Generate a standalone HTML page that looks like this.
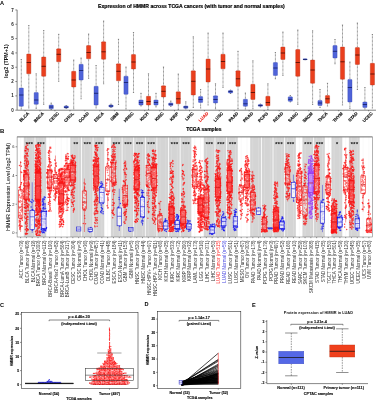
<!DOCTYPE html>
<html><head><meta charset="utf-8"><title>HMMR expression figure</title>
<style>html,body{margin:0;padding:0;background:#fff;width:376px;height:400px;overflow:hidden}
svg{display:block;font-family:"Liberation Sans", sans-serif;will-change:transform}</style></head>
<body><svg width="376" height="400" viewBox="0 0 376 400">
<text x="0.00" y="4.90" font-size="5.6" font-weight="bold" text-anchor="start" fill="#000">A</text>
<text x="191.40" y="8.00" font-size="5.1" font-weight="bold" text-anchor="middle" fill="#000" stroke="#000" stroke-width="0.18">Expression of HMMR across TCGA cancers (with tumor and normal samples)</text>
<line x1="17.10" y1="9.80" x2="17.10" y2="110.20" stroke="#555" stroke-width="0.75"/>
<line x1="17.10" y1="110.20" x2="376.00" y2="110.20" stroke="#555" stroke-width="0.75"/>
<line x1="15.30" y1="110.20" x2="17.00" y2="110.20" stroke="#222" stroke-width="0.5"/>
<text x="13.70" y="111.80" font-size="4.5" font-weight="bold" text-anchor="end" fill="#222">0</text>
<line x1="15.30" y1="95.88" x2="17.00" y2="95.88" stroke="#222" stroke-width="0.5"/>
<text x="13.70" y="97.48" font-size="4.5" font-weight="bold" text-anchor="end" fill="#222">1</text>
<line x1="15.30" y1="81.56" x2="17.00" y2="81.56" stroke="#222" stroke-width="0.5"/>
<text x="13.70" y="83.16" font-size="4.5" font-weight="bold" text-anchor="end" fill="#222">2</text>
<line x1="15.30" y1="67.24" x2="17.00" y2="67.24" stroke="#222" stroke-width="0.5"/>
<text x="13.70" y="68.84" font-size="4.5" font-weight="bold" text-anchor="end" fill="#222">3</text>
<line x1="15.30" y1="52.92" x2="17.00" y2="52.92" stroke="#222" stroke-width="0.5"/>
<text x="13.70" y="54.52" font-size="4.5" font-weight="bold" text-anchor="end" fill="#222">4</text>
<line x1="15.30" y1="38.60" x2="17.00" y2="38.60" stroke="#222" stroke-width="0.5"/>
<text x="13.70" y="40.20" font-size="4.5" font-weight="bold" text-anchor="end" fill="#222">5</text>
<line x1="15.30" y1="24.28" x2="17.00" y2="24.28" stroke="#222" stroke-width="0.5"/>
<text x="13.70" y="25.88" font-size="4.5" font-weight="bold" text-anchor="end" fill="#222">6</text>
<line x1="15.30" y1="9.96" x2="17.00" y2="9.96" stroke="#222" stroke-width="0.5"/>
<text x="13.70" y="11.56" font-size="4.5" font-weight="bold" text-anchor="end" fill="#222">7</text>
<text x="7.70" y="61.10" font-size="5.4" font-weight="bold" text-anchor="middle" fill="#111" transform="rotate(-90 7.70 61.10)">log2 (TPM+1)</text>
<line x1="21.30" y1="59.50" x2="21.30" y2="88.00" stroke="#333" stroke-width="0.6" stroke-dasharray="0.8 0.55"/>
<line x1="21.30" y1="106.30" x2="21.30" y2="109.00" stroke="#333" stroke-width="0.6" stroke-dasharray="0.8 0.55"/>
<line x1="20.70" y1="59.50" x2="21.90" y2="59.50" stroke="#555" stroke-width="0.6"/>
<line x1="20.70" y1="109.00" x2="21.90" y2="109.00" stroke="#555" stroke-width="0.6"/>
<rect x="19.20" y="88.00" width="4.20" height="18.30" fill="#4f63d9" stroke="#3545b0" stroke-width="0.35" rx="0.5"/>
<line x1="19.20" y1="95.00" x2="23.40" y2="95.00" stroke="#1a2570" stroke-width="0.9"/>
<line x1="28.80" y1="25.50" x2="28.80" y2="54.00" stroke="#333" stroke-width="0.6" stroke-dasharray="0.8 0.55"/>
<line x1="28.80" y1="73.80" x2="28.80" y2="108.00" stroke="#333" stroke-width="0.6" stroke-dasharray="0.8 0.55"/>
<line x1="28.20" y1="25.50" x2="29.40" y2="25.50" stroke="#555" stroke-width="0.6"/>
<line x1="28.20" y1="108.00" x2="29.40" y2="108.00" stroke="#555" stroke-width="0.6"/>
<rect x="26.70" y="54.00" width="4.20" height="19.80" fill="#ea3f1d" stroke="#b52a10" stroke-width="0.35" rx="0.5"/>
<line x1="26.70" y1="62.50" x2="30.90" y2="62.50" stroke="#5a1005" stroke-width="0.9"/>
<line x1="25.05" y1="110.20" x2="25.05" y2="111.30" stroke="#222" stroke-width="0.5"/>
<text x="29.35" y="113.90" font-size="4.3" font-weight="bold" text-anchor="end" fill="#111" transform="rotate(-45 29.35 113.90)" stroke="#111" stroke-width="0.16">BLCA</text>
<line x1="36.20" y1="73.80" x2="36.20" y2="92.50" stroke="#333" stroke-width="0.6" stroke-dasharray="0.8 0.55"/>
<line x1="36.20" y1="104.30" x2="36.20" y2="108.50" stroke="#333" stroke-width="0.6" stroke-dasharray="0.8 0.55"/>
<line x1="35.60" y1="73.80" x2="36.80" y2="73.80" stroke="#555" stroke-width="0.6"/>
<line x1="35.60" y1="108.50" x2="36.80" y2="108.50" stroke="#555" stroke-width="0.6"/>
<rect x="34.10" y="92.50" width="4.20" height="11.80" fill="#4f63d9" stroke="#3545b0" stroke-width="0.35" rx="0.5"/>
<line x1="34.10" y1="100.00" x2="38.30" y2="100.00" stroke="#1a2570" stroke-width="0.9"/>
<line x1="43.70" y1="30.50" x2="43.70" y2="57.00" stroke="#333" stroke-width="0.6" stroke-dasharray="0.8 0.55"/>
<line x1="43.70" y1="76.30" x2="43.70" y2="104.50" stroke="#333" stroke-width="0.6" stroke-dasharray="0.8 0.55"/>
<line x1="43.10" y1="30.50" x2="44.30" y2="30.50" stroke="#555" stroke-width="0.6"/>
<line x1="43.10" y1="104.50" x2="44.30" y2="104.50" stroke="#555" stroke-width="0.6"/>
<rect x="41.60" y="57.00" width="4.20" height="19.30" fill="#ea3f1d" stroke="#b52a10" stroke-width="0.35" rx="0.5"/>
<line x1="41.60" y1="66.30" x2="45.80" y2="66.30" stroke="#5a1005" stroke-width="0.9"/>
<line x1="39.95" y1="110.20" x2="39.95" y2="111.30" stroke="#222" stroke-width="0.5"/>
<text x="44.25" y="113.90" font-size="4.3" font-weight="bold" text-anchor="end" fill="#111" transform="rotate(-45 44.25 113.90)" stroke="#111" stroke-width="0.16">BRCA</text>
<line x1="51.20" y1="103.00" x2="51.20" y2="105.00" stroke="#333" stroke-width="0.6" stroke-dasharray="0.8 0.55"/>
<line x1="51.20" y1="108.80" x2="51.20" y2="109.50" stroke="#333" stroke-width="0.6" stroke-dasharray="0.8 0.55"/>
<line x1="50.60" y1="103.00" x2="51.80" y2="103.00" stroke="#555" stroke-width="0.6"/>
<line x1="50.60" y1="109.50" x2="51.80" y2="109.50" stroke="#555" stroke-width="0.6"/>
<rect x="49.10" y="105.00" width="4.20" height="3.80" fill="#4f63d9" stroke="#3545b0" stroke-width="0.35" rx="0.5"/>
<line x1="49.10" y1="107.00" x2="53.30" y2="107.00" stroke="#1a2570" stroke-width="0.9"/>
<line x1="58.70" y1="34.30" x2="58.70" y2="48.80" stroke="#333" stroke-width="0.6" stroke-dasharray="0.8 0.55"/>
<line x1="58.70" y1="61.80" x2="58.70" y2="81.30" stroke="#333" stroke-width="0.6" stroke-dasharray="0.8 0.55"/>
<line x1="58.10" y1="34.30" x2="59.30" y2="34.30" stroke="#555" stroke-width="0.6"/>
<line x1="58.10" y1="81.30" x2="59.30" y2="81.30" stroke="#555" stroke-width="0.6"/>
<rect x="56.60" y="48.80" width="4.20" height="13.00" fill="#ea3f1d" stroke="#b52a10" stroke-width="0.35" rx="0.5"/>
<line x1="56.60" y1="54.30" x2="60.80" y2="54.30" stroke="#5a1005" stroke-width="0.9"/>
<line x1="54.95" y1="110.20" x2="54.95" y2="111.30" stroke="#222" stroke-width="0.5"/>
<text x="59.25" y="113.90" font-size="4.3" font-weight="bold" text-anchor="end" fill="#111" transform="rotate(-45 59.25 113.90)" stroke="#111" stroke-width="0.16">CESC</text>
<line x1="66.20" y1="105.50" x2="66.20" y2="106.00" stroke="#333" stroke-width="0.6" stroke-dasharray="0.8 0.55"/>
<line x1="66.20" y1="108.00" x2="66.20" y2="108.50" stroke="#333" stroke-width="0.6" stroke-dasharray="0.8 0.55"/>
<line x1="65.60" y1="105.50" x2="66.80" y2="105.50" stroke="#555" stroke-width="0.6"/>
<line x1="65.60" y1="108.50" x2="66.80" y2="108.50" stroke="#555" stroke-width="0.6"/>
<rect x="64.10" y="106.00" width="4.20" height="2.00" fill="#4f63d9" stroke="#3545b0" stroke-width="0.35" rx="0.5"/>
<line x1="64.10" y1="107.30" x2="68.30" y2="107.30" stroke="#1a2570" stroke-width="0.9"/>
<line x1="73.70" y1="60.00" x2="73.70" y2="71.30" stroke="#333" stroke-width="0.6" stroke-dasharray="0.8 0.55"/>
<line x1="73.70" y1="87.00" x2="73.70" y2="108.80" stroke="#333" stroke-width="0.6" stroke-dasharray="0.8 0.55"/>
<line x1="73.10" y1="60.00" x2="74.30" y2="60.00" stroke="#555" stroke-width="0.6"/>
<line x1="73.10" y1="108.80" x2="74.30" y2="108.80" stroke="#555" stroke-width="0.6"/>
<rect x="71.60" y="71.30" width="4.20" height="15.70" fill="#ea3f1d" stroke="#b52a10" stroke-width="0.35" rx="0.5"/>
<line x1="71.60" y1="80.00" x2="75.80" y2="80.00" stroke="#5a1005" stroke-width="0.9"/>
<line x1="69.95" y1="110.20" x2="69.95" y2="111.30" stroke="#222" stroke-width="0.5"/>
<text x="74.25" y="113.90" font-size="4.3" font-weight="bold" text-anchor="end" fill="#111" transform="rotate(-45 74.25 113.90)" stroke="#111" stroke-width="0.16">CHOL</text>
<line x1="81.10" y1="58.00" x2="81.10" y2="64.30" stroke="#333" stroke-width="0.6" stroke-dasharray="0.8 0.55"/>
<line x1="81.10" y1="80.00" x2="81.10" y2="98.80" stroke="#333" stroke-width="0.6" stroke-dasharray="0.8 0.55"/>
<line x1="80.50" y1="58.00" x2="81.70" y2="58.00" stroke="#555" stroke-width="0.6"/>
<line x1="80.50" y1="98.80" x2="81.70" y2="98.80" stroke="#555" stroke-width="0.6"/>
<rect x="79.00" y="64.30" width="4.20" height="15.70" fill="#4f63d9" stroke="#3545b0" stroke-width="0.35" rx="0.5"/>
<line x1="79.00" y1="70.50" x2="83.20" y2="70.50" stroke="#1a2570" stroke-width="0.9"/>
<line x1="88.60" y1="34.00" x2="88.60" y2="45.50" stroke="#333" stroke-width="0.6" stroke-dasharray="0.8 0.55"/>
<line x1="88.60" y1="58.80" x2="88.60" y2="78.30" stroke="#333" stroke-width="0.6" stroke-dasharray="0.8 0.55"/>
<line x1="88.00" y1="34.00" x2="89.20" y2="34.00" stroke="#555" stroke-width="0.6"/>
<line x1="88.00" y1="78.30" x2="89.20" y2="78.30" stroke="#555" stroke-width="0.6"/>
<rect x="86.50" y="45.50" width="4.20" height="13.30" fill="#ea3f1d" stroke="#b52a10" stroke-width="0.35" rx="0.5"/>
<line x1="86.50" y1="52.50" x2="90.70" y2="52.50" stroke="#5a1005" stroke-width="0.9"/>
<line x1="84.85" y1="110.20" x2="84.85" y2="111.30" stroke="#222" stroke-width="0.5"/>
<text x="89.15" y="113.90" font-size="4.3" font-weight="bold" text-anchor="end" fill="#111" transform="rotate(-45 89.15 113.90)" stroke="#111" stroke-width="0.16">COAD</text>
<line x1="96.10" y1="65.50" x2="96.10" y2="86.30" stroke="#333" stroke-width="0.6" stroke-dasharray="0.8 0.55"/>
<line x1="96.10" y1="105.00" x2="96.10" y2="108.00" stroke="#333" stroke-width="0.6" stroke-dasharray="0.8 0.55"/>
<line x1="95.50" y1="65.50" x2="96.70" y2="65.50" stroke="#555" stroke-width="0.6"/>
<line x1="95.50" y1="108.00" x2="96.70" y2="108.00" stroke="#555" stroke-width="0.6"/>
<rect x="94.00" y="86.30" width="4.20" height="18.70" fill="#4f63d9" stroke="#3545b0" stroke-width="0.35" rx="0.5"/>
<line x1="94.00" y1="93.30" x2="98.20" y2="93.30" stroke="#1a2570" stroke-width="0.9"/>
<line x1="103.60" y1="21.00" x2="103.60" y2="41.80" stroke="#333" stroke-width="0.6" stroke-dasharray="0.8 0.55"/>
<line x1="103.60" y1="59.30" x2="103.60" y2="83.80" stroke="#333" stroke-width="0.6" stroke-dasharray="0.8 0.55"/>
<line x1="103.00" y1="21.00" x2="104.20" y2="21.00" stroke="#555" stroke-width="0.6"/>
<line x1="103.00" y1="83.80" x2="104.20" y2="83.80" stroke="#555" stroke-width="0.6"/>
<rect x="101.50" y="41.80" width="4.20" height="17.50" fill="#ea3f1d" stroke="#b52a10" stroke-width="0.35" rx="0.5"/>
<line x1="101.50" y1="51.80" x2="105.70" y2="51.80" stroke="#5a1005" stroke-width="0.9"/>
<line x1="99.85" y1="110.20" x2="99.85" y2="111.30" stroke="#222" stroke-width="0.5"/>
<text x="104.15" y="113.90" font-size="4.3" font-weight="bold" text-anchor="end" fill="#111" transform="rotate(-45 104.15 113.90)" stroke="#111" stroke-width="0.16">ESCA</text>
<line x1="111.00" y1="104.00" x2="111.00" y2="105.00" stroke="#333" stroke-width="0.6" stroke-dasharray="0.8 0.55"/>
<line x1="111.00" y1="107.00" x2="111.00" y2="107.50" stroke="#333" stroke-width="0.6" stroke-dasharray="0.8 0.55"/>
<line x1="110.40" y1="104.00" x2="111.60" y2="104.00" stroke="#555" stroke-width="0.6"/>
<line x1="110.40" y1="107.50" x2="111.60" y2="107.50" stroke="#555" stroke-width="0.6"/>
<rect x="108.90" y="105.00" width="4.20" height="2.00" fill="#4f63d9" stroke="#3545b0" stroke-width="0.35" rx="0.5"/>
<line x1="108.90" y1="106.00" x2="113.10" y2="106.00" stroke="#1a2570" stroke-width="0.9"/>
<line x1="118.50" y1="39.30" x2="118.50" y2="63.80" stroke="#333" stroke-width="0.6" stroke-dasharray="0.8 0.55"/>
<line x1="118.50" y1="80.80" x2="118.50" y2="104.50" stroke="#333" stroke-width="0.6" stroke-dasharray="0.8 0.55"/>
<line x1="117.90" y1="39.30" x2="119.10" y2="39.30" stroke="#555" stroke-width="0.6"/>
<line x1="117.90" y1="104.50" x2="119.10" y2="104.50" stroke="#555" stroke-width="0.6"/>
<rect x="116.40" y="63.80" width="4.20" height="17.00" fill="#ea3f1d" stroke="#b52a10" stroke-width="0.35" rx="0.5"/>
<line x1="116.40" y1="71.30" x2="120.60" y2="71.30" stroke="#5a1005" stroke-width="0.9"/>
<line x1="114.75" y1="110.20" x2="114.75" y2="111.30" stroke="#222" stroke-width="0.5"/>
<text x="119.05" y="113.90" font-size="4.3" font-weight="bold" text-anchor="end" fill="#111" transform="rotate(-45 119.05 113.90)" stroke="#111" stroke-width="0.16">GBM</text>
<line x1="126.00" y1="67.00" x2="126.00" y2="76.30" stroke="#333" stroke-width="0.6" stroke-dasharray="0.8 0.55"/>
<line x1="126.00" y1="94.30" x2="126.00" y2="109.00" stroke="#333" stroke-width="0.6" stroke-dasharray="0.8 0.55"/>
<line x1="125.40" y1="67.00" x2="126.60" y2="67.00" stroke="#555" stroke-width="0.6"/>
<line x1="125.40" y1="109.00" x2="126.60" y2="109.00" stroke="#555" stroke-width="0.6"/>
<rect x="123.90" y="76.30" width="4.20" height="18.00" fill="#4f63d9" stroke="#3545b0" stroke-width="0.35" rx="0.5"/>
<line x1="123.90" y1="82.50" x2="128.10" y2="82.50" stroke="#1a2570" stroke-width="0.9"/>
<line x1="133.50" y1="32.50" x2="133.50" y2="54.50" stroke="#333" stroke-width="0.6" stroke-dasharray="0.8 0.55"/>
<line x1="133.50" y1="69.00" x2="133.50" y2="92.50" stroke="#333" stroke-width="0.6" stroke-dasharray="0.8 0.55"/>
<line x1="132.90" y1="32.50" x2="134.10" y2="32.50" stroke="#555" stroke-width="0.6"/>
<line x1="132.90" y1="92.50" x2="134.10" y2="92.50" stroke="#555" stroke-width="0.6"/>
<rect x="131.40" y="54.50" width="4.20" height="14.50" fill="#ea3f1d" stroke="#b52a10" stroke-width="0.35" rx="0.5"/>
<line x1="131.40" y1="62.00" x2="135.60" y2="62.00" stroke="#5a1005" stroke-width="0.9"/>
<line x1="129.75" y1="110.20" x2="129.75" y2="111.30" stroke="#222" stroke-width="0.5"/>
<text x="134.05" y="113.90" font-size="4.3" font-weight="bold" text-anchor="end" fill="#111" transform="rotate(-45 134.05 113.90)" stroke="#111" stroke-width="0.16">HNSC</text>
<line x1="141.00" y1="93.30" x2="141.00" y2="100.00" stroke="#333" stroke-width="0.6" stroke-dasharray="0.8 0.55"/>
<line x1="141.00" y1="105.00" x2="141.00" y2="106.00" stroke="#333" stroke-width="0.6" stroke-dasharray="0.8 0.55"/>
<line x1="140.40" y1="93.30" x2="141.60" y2="93.30" stroke="#555" stroke-width="0.6"/>
<line x1="140.40" y1="106.00" x2="141.60" y2="106.00" stroke="#555" stroke-width="0.6"/>
<rect x="138.90" y="100.00" width="4.20" height="5.00" fill="#4f63d9" stroke="#3545b0" stroke-width="0.35" rx="0.5"/>
<line x1="138.90" y1="102.50" x2="143.10" y2="102.50" stroke="#1a2570" stroke-width="0.9"/>
<line x1="148.50" y1="73.80" x2="148.50" y2="96.30" stroke="#333" stroke-width="0.6" stroke-dasharray="0.8 0.55"/>
<line x1="148.50" y1="105.00" x2="148.50" y2="109.50" stroke="#333" stroke-width="0.6" stroke-dasharray="0.8 0.55"/>
<line x1="147.90" y1="73.80" x2="149.10" y2="73.80" stroke="#555" stroke-width="0.6"/>
<line x1="147.90" y1="109.50" x2="149.10" y2="109.50" stroke="#555" stroke-width="0.6"/>
<rect x="146.40" y="96.30" width="4.20" height="8.70" fill="#ea3f1d" stroke="#b52a10" stroke-width="0.35" rx="0.5"/>
<line x1="146.40" y1="101.50" x2="150.60" y2="101.50" stroke="#5a1005" stroke-width="0.9"/>
<line x1="144.75" y1="110.20" x2="144.75" y2="111.30" stroke="#222" stroke-width="0.5"/>
<text x="149.05" y="113.90" font-size="4.3" font-weight="bold" text-anchor="end" fill="#111" transform="rotate(-45 149.05 113.90)" stroke="#111" stroke-width="0.16">KICH</text>
<line x1="156.00" y1="93.30" x2="156.00" y2="100.00" stroke="#333" stroke-width="0.6" stroke-dasharray="0.8 0.55"/>
<line x1="156.00" y1="105.00" x2="156.00" y2="107.00" stroke="#333" stroke-width="0.6" stroke-dasharray="0.8 0.55"/>
<line x1="155.40" y1="93.30" x2="156.60" y2="93.30" stroke="#555" stroke-width="0.6"/>
<line x1="155.40" y1="107.00" x2="156.60" y2="107.00" stroke="#555" stroke-width="0.6"/>
<rect x="153.90" y="100.00" width="4.20" height="5.00" fill="#4f63d9" stroke="#3545b0" stroke-width="0.35" rx="0.5"/>
<line x1="153.90" y1="102.50" x2="158.10" y2="102.50" stroke="#1a2570" stroke-width="0.9"/>
<line x1="163.50" y1="67.00" x2="163.50" y2="85.80" stroke="#333" stroke-width="0.6" stroke-dasharray="0.8 0.55"/>
<line x1="163.50" y1="97.00" x2="163.50" y2="109.50" stroke="#333" stroke-width="0.6" stroke-dasharray="0.8 0.55"/>
<line x1="162.90" y1="67.00" x2="164.10" y2="67.00" stroke="#555" stroke-width="0.6"/>
<line x1="162.90" y1="109.50" x2="164.10" y2="109.50" stroke="#555" stroke-width="0.6"/>
<rect x="161.40" y="85.80" width="4.20" height="11.20" fill="#ea3f1d" stroke="#b52a10" stroke-width="0.35" rx="0.5"/>
<line x1="161.40" y1="91.30" x2="165.60" y2="91.30" stroke="#5a1005" stroke-width="0.9"/>
<line x1="159.75" y1="110.20" x2="159.75" y2="111.30" stroke="#222" stroke-width="0.5"/>
<text x="164.05" y="113.90" font-size="4.3" font-weight="bold" text-anchor="end" fill="#111" transform="rotate(-45 164.05 113.90)" stroke="#111" stroke-width="0.16">KIRC</text>
<line x1="170.80" y1="101.00" x2="170.80" y2="103.00" stroke="#333" stroke-width="0.6" stroke-dasharray="0.8 0.55"/>
<line x1="170.80" y1="105.50" x2="170.80" y2="106.50" stroke="#333" stroke-width="0.6" stroke-dasharray="0.8 0.55"/>
<line x1="170.20" y1="101.00" x2="171.40" y2="101.00" stroke="#555" stroke-width="0.6"/>
<line x1="170.20" y1="106.50" x2="171.40" y2="106.50" stroke="#555" stroke-width="0.6"/>
<rect x="168.70" y="103.00" width="4.20" height="2.50" fill="#4f63d9" stroke="#3545b0" stroke-width="0.35" rx="0.5"/>
<line x1="168.70" y1="104.30" x2="172.90" y2="104.30" stroke="#1a2570" stroke-width="0.9"/>
<line x1="178.30" y1="74.00" x2="178.30" y2="91.80" stroke="#333" stroke-width="0.6" stroke-dasharray="0.8 0.55"/>
<line x1="178.30" y1="103.80" x2="178.30" y2="109.50" stroke="#333" stroke-width="0.6" stroke-dasharray="0.8 0.55"/>
<line x1="177.70" y1="74.00" x2="178.90" y2="74.00" stroke="#555" stroke-width="0.6"/>
<line x1="177.70" y1="109.50" x2="178.90" y2="109.50" stroke="#555" stroke-width="0.6"/>
<rect x="176.20" y="91.80" width="4.20" height="12.00" fill="#ea3f1d" stroke="#b52a10" stroke-width="0.35" rx="0.5"/>
<line x1="176.20" y1="98.80" x2="180.40" y2="98.80" stroke="#5a1005" stroke-width="0.9"/>
<line x1="174.55" y1="110.20" x2="174.55" y2="111.30" stroke="#222" stroke-width="0.5"/>
<text x="178.85" y="113.90" font-size="4.3" font-weight="bold" text-anchor="end" fill="#111" transform="rotate(-45 178.85 113.90)" stroke="#111" stroke-width="0.16">KIRP</text>
<line x1="185.80" y1="101.80" x2="185.80" y2="106.00" stroke="#333" stroke-width="0.6" stroke-dasharray="0.8 0.55"/>
<line x1="185.80" y1="108.30" x2="185.80" y2="109.00" stroke="#333" stroke-width="0.6" stroke-dasharray="0.8 0.55"/>
<line x1="185.20" y1="101.80" x2="186.40" y2="101.80" stroke="#555" stroke-width="0.6"/>
<line x1="185.20" y1="109.00" x2="186.40" y2="109.00" stroke="#555" stroke-width="0.6"/>
<rect x="183.70" y="106.00" width="4.20" height="2.30" fill="#4f63d9" stroke="#3545b0" stroke-width="0.35" rx="0.5"/>
<line x1="183.70" y1="107.00" x2="187.90" y2="107.00" stroke="#1a2570" stroke-width="0.9"/>
<line x1="193.30" y1="36.80" x2="193.30" y2="70.80" stroke="#333" stroke-width="0.6" stroke-dasharray="0.8 0.55"/>
<line x1="193.30" y1="95.00" x2="193.30" y2="107.50" stroke="#333" stroke-width="0.6" stroke-dasharray="0.8 0.55"/>
<line x1="192.70" y1="36.80" x2="193.90" y2="36.80" stroke="#555" stroke-width="0.6"/>
<line x1="192.70" y1="107.50" x2="193.90" y2="107.50" stroke="#555" stroke-width="0.6"/>
<rect x="191.20" y="70.80" width="4.20" height="24.20" fill="#ea3f1d" stroke="#b52a10" stroke-width="0.35" rx="0.5"/>
<line x1="191.20" y1="81.30" x2="195.40" y2="81.30" stroke="#5a1005" stroke-width="0.9"/>
<line x1="189.55" y1="110.20" x2="189.55" y2="111.30" stroke="#222" stroke-width="0.5"/>
<text x="193.85" y="113.90" font-size="4.3" font-weight="bold" text-anchor="end" fill="#111" transform="rotate(-45 193.85 113.90)" stroke="#111" stroke-width="0.16">LIHC</text>
<line x1="200.60" y1="89.50" x2="200.60" y2="96.50" stroke="#333" stroke-width="0.6" stroke-dasharray="0.8 0.55"/>
<line x1="200.60" y1="102.50" x2="200.60" y2="108.00" stroke="#333" stroke-width="0.6" stroke-dasharray="0.8 0.55"/>
<line x1="200.00" y1="89.50" x2="201.20" y2="89.50" stroke="#555" stroke-width="0.6"/>
<line x1="200.00" y1="108.00" x2="201.20" y2="108.00" stroke="#555" stroke-width="0.6"/>
<rect x="198.50" y="96.50" width="4.20" height="6.00" fill="#4f63d9" stroke="#3545b0" stroke-width="0.35" rx="0.5"/>
<line x1="198.50" y1="99.50" x2="202.70" y2="99.50" stroke="#1a2570" stroke-width="0.9"/>
<line x1="208.10" y1="33.00" x2="208.10" y2="59.00" stroke="#333" stroke-width="0.6" stroke-dasharray="0.8 0.55"/>
<line x1="208.10" y1="82.00" x2="208.10" y2="105.00" stroke="#333" stroke-width="0.6" stroke-dasharray="0.8 0.55"/>
<line x1="207.50" y1="33.00" x2="208.70" y2="33.00" stroke="#555" stroke-width="0.6"/>
<line x1="207.50" y1="105.00" x2="208.70" y2="105.00" stroke="#555" stroke-width="0.6"/>
<rect x="206.00" y="59.00" width="4.20" height="23.00" fill="#ea3f1d" stroke="#b52a10" stroke-width="0.35" rx="0.5"/>
<line x1="206.00" y1="69.00" x2="210.20" y2="69.00" stroke="#5a1005" stroke-width="0.9"/>
<line x1="204.35" y1="110.20" x2="204.35" y2="111.30" stroke="#222" stroke-width="0.5"/>
<text x="208.65" y="113.90" font-size="4.3" font-weight="bold" text-anchor="end" fill="#e8251d" transform="rotate(-45 208.65 113.90)" stroke="#e8251d" stroke-width="0.16">LUAD</text>
<line x1="215.50" y1="83.80" x2="215.50" y2="95.80" stroke="#333" stroke-width="0.6" stroke-dasharray="0.8 0.55"/>
<line x1="215.50" y1="103.00" x2="215.50" y2="108.80" stroke="#333" stroke-width="0.6" stroke-dasharray="0.8 0.55"/>
<line x1="214.90" y1="83.80" x2="216.10" y2="83.80" stroke="#555" stroke-width="0.6"/>
<line x1="214.90" y1="108.80" x2="216.10" y2="108.80" stroke="#555" stroke-width="0.6"/>
<rect x="213.40" y="95.80" width="4.20" height="7.20" fill="#4f63d9" stroke="#3545b0" stroke-width="0.35" rx="0.5"/>
<line x1="213.40" y1="99.50" x2="217.60" y2="99.50" stroke="#1a2570" stroke-width="0.9"/>
<line x1="223.00" y1="33.00" x2="223.00" y2="54.30" stroke="#333" stroke-width="0.6" stroke-dasharray="0.8 0.55"/>
<line x1="223.00" y1="68.80" x2="223.00" y2="87.50" stroke="#333" stroke-width="0.6" stroke-dasharray="0.8 0.55"/>
<line x1="222.40" y1="33.00" x2="223.60" y2="33.00" stroke="#555" stroke-width="0.6"/>
<line x1="222.40" y1="87.50" x2="223.60" y2="87.50" stroke="#555" stroke-width="0.6"/>
<rect x="220.90" y="54.30" width="4.20" height="14.50" fill="#ea3f1d" stroke="#b52a10" stroke-width="0.35" rx="0.5"/>
<line x1="220.90" y1="61.50" x2="225.10" y2="61.50" stroke="#5a1005" stroke-width="0.9"/>
<line x1="219.25" y1="110.20" x2="219.25" y2="111.30" stroke="#222" stroke-width="0.5"/>
<text x="223.55" y="113.90" font-size="4.3" font-weight="bold" text-anchor="end" fill="#111" transform="rotate(-45 223.55 113.90)" stroke="#111" stroke-width="0.16">LUSC</text>
<line x1="230.50" y1="90.00" x2="230.50" y2="90.50" stroke="#333" stroke-width="0.6" stroke-dasharray="0.8 0.55"/>
<line x1="230.50" y1="93.00" x2="230.50" y2="93.50" stroke="#333" stroke-width="0.6" stroke-dasharray="0.8 0.55"/>
<line x1="229.90" y1="90.00" x2="231.10" y2="90.00" stroke="#555" stroke-width="0.6"/>
<line x1="229.90" y1="93.50" x2="231.10" y2="93.50" stroke="#555" stroke-width="0.6"/>
<rect x="228.40" y="90.50" width="4.20" height="2.50" fill="#4f63d9" stroke="#3545b0" stroke-width="0.35" rx="0.5"/>
<line x1="228.40" y1="91.50" x2="232.60" y2="91.50" stroke="#1a2570" stroke-width="0.9"/>
<line x1="238.00" y1="51.30" x2="238.00" y2="70.80" stroke="#333" stroke-width="0.6" stroke-dasharray="0.8 0.55"/>
<line x1="238.00" y1="86.30" x2="238.00" y2="108.80" stroke="#333" stroke-width="0.6" stroke-dasharray="0.8 0.55"/>
<line x1="237.40" y1="51.30" x2="238.60" y2="51.30" stroke="#555" stroke-width="0.6"/>
<line x1="237.40" y1="108.80" x2="238.60" y2="108.80" stroke="#555" stroke-width="0.6"/>
<rect x="235.90" y="70.80" width="4.20" height="15.50" fill="#ea3f1d" stroke="#b52a10" stroke-width="0.35" rx="0.5"/>
<line x1="235.90" y1="78.80" x2="240.10" y2="78.80" stroke="#5a1005" stroke-width="0.9"/>
<line x1="234.25" y1="110.20" x2="234.25" y2="111.30" stroke="#222" stroke-width="0.5"/>
<text x="238.55" y="113.90" font-size="4.3" font-weight="bold" text-anchor="end" fill="#111" transform="rotate(-45 238.55 113.90)" stroke="#111" stroke-width="0.16">PAAD</text>
<line x1="245.40" y1="93.00" x2="245.40" y2="99.30" stroke="#333" stroke-width="0.6" stroke-dasharray="0.8 0.55"/>
<line x1="245.40" y1="106.30" x2="245.40" y2="109.00" stroke="#333" stroke-width="0.6" stroke-dasharray="0.8 0.55"/>
<line x1="244.80" y1="93.00" x2="246.00" y2="93.00" stroke="#555" stroke-width="0.6"/>
<line x1="244.80" y1="109.00" x2="246.00" y2="109.00" stroke="#555" stroke-width="0.6"/>
<rect x="243.30" y="99.30" width="4.20" height="7.00" fill="#4f63d9" stroke="#3545b0" stroke-width="0.35" rx="0.5"/>
<line x1="243.30" y1="103.80" x2="247.50" y2="103.80" stroke="#1a2570" stroke-width="0.9"/>
<line x1="252.90" y1="60.80" x2="252.90" y2="84.30" stroke="#333" stroke-width="0.6" stroke-dasharray="0.8 0.55"/>
<line x1="252.90" y1="99.50" x2="252.90" y2="108.80" stroke="#333" stroke-width="0.6" stroke-dasharray="0.8 0.55"/>
<line x1="252.30" y1="60.80" x2="253.50" y2="60.80" stroke="#555" stroke-width="0.6"/>
<line x1="252.30" y1="108.80" x2="253.50" y2="108.80" stroke="#555" stroke-width="0.6"/>
<rect x="250.80" y="84.30" width="4.20" height="15.20" fill="#ea3f1d" stroke="#b52a10" stroke-width="0.35" rx="0.5"/>
<line x1="250.80" y1="92.50" x2="255.00" y2="92.50" stroke="#5a1005" stroke-width="0.9"/>
<line x1="249.15" y1="110.20" x2="249.15" y2="111.30" stroke="#222" stroke-width="0.5"/>
<text x="253.45" y="113.90" font-size="4.3" font-weight="bold" text-anchor="end" fill="#111" transform="rotate(-45 253.45 113.90)" stroke="#111" stroke-width="0.16">PRAD</text>
<line x1="260.40" y1="104.00" x2="260.40" y2="104.50" stroke="#333" stroke-width="0.6" stroke-dasharray="0.8 0.55"/>
<line x1="260.40" y1="106.30" x2="260.40" y2="107.00" stroke="#333" stroke-width="0.6" stroke-dasharray="0.8 0.55"/>
<line x1="259.80" y1="104.00" x2="261.00" y2="104.00" stroke="#555" stroke-width="0.6"/>
<line x1="259.80" y1="107.00" x2="261.00" y2="107.00" stroke="#555" stroke-width="0.6"/>
<rect x="258.30" y="104.50" width="4.20" height="1.80" fill="#4f63d9" stroke="#3545b0" stroke-width="0.35" rx="0.5"/>
<line x1="258.30" y1="105.50" x2="262.50" y2="105.50" stroke="#1a2570" stroke-width="0.9"/>
<line x1="267.90" y1="83.80" x2="267.90" y2="96.30" stroke="#333" stroke-width="0.6" stroke-dasharray="0.8 0.55"/>
<line x1="267.90" y1="105.80" x2="267.90" y2="109.50" stroke="#333" stroke-width="0.6" stroke-dasharray="0.8 0.55"/>
<line x1="267.30" y1="83.80" x2="268.50" y2="83.80" stroke="#555" stroke-width="0.6"/>
<line x1="267.30" y1="109.50" x2="268.50" y2="109.50" stroke="#555" stroke-width="0.6"/>
<rect x="265.80" y="96.30" width="4.20" height="9.50" fill="#ea3f1d" stroke="#b52a10" stroke-width="0.35" rx="0.5"/>
<line x1="265.80" y1="102.50" x2="270.00" y2="102.50" stroke="#5a1005" stroke-width="0.9"/>
<line x1="264.15" y1="110.20" x2="264.15" y2="111.30" stroke="#222" stroke-width="0.5"/>
<text x="268.45" y="113.90" font-size="4.3" font-weight="bold" text-anchor="end" fill="#111" transform="rotate(-45 268.45 113.90)" stroke="#111" stroke-width="0.16">PCPG</text>
<line x1="275.40" y1="52.50" x2="275.40" y2="62.50" stroke="#333" stroke-width="0.6" stroke-dasharray="0.8 0.55"/>
<line x1="275.40" y1="75.50" x2="275.40" y2="78.80" stroke="#333" stroke-width="0.6" stroke-dasharray="0.8 0.55"/>
<line x1="274.80" y1="52.50" x2="276.00" y2="52.50" stroke="#555" stroke-width="0.6"/>
<line x1="274.80" y1="78.80" x2="276.00" y2="78.80" stroke="#555" stroke-width="0.6"/>
<rect x="273.30" y="62.50" width="4.20" height="13.00" fill="#4f63d9" stroke="#3545b0" stroke-width="0.35" rx="0.5"/>
<line x1="273.30" y1="68.00" x2="277.50" y2="68.00" stroke="#1a2570" stroke-width="0.9"/>
<line x1="282.90" y1="32.00" x2="282.90" y2="47.00" stroke="#333" stroke-width="0.6" stroke-dasharray="0.8 0.55"/>
<line x1="282.90" y1="59.50" x2="282.90" y2="75.50" stroke="#333" stroke-width="0.6" stroke-dasharray="0.8 0.55"/>
<line x1="282.30" y1="32.00" x2="283.50" y2="32.00" stroke="#555" stroke-width="0.6"/>
<line x1="282.30" y1="75.50" x2="283.50" y2="75.50" stroke="#555" stroke-width="0.6"/>
<rect x="280.80" y="47.00" width="4.20" height="12.50" fill="#ea3f1d" stroke="#b52a10" stroke-width="0.35" rx="0.5"/>
<line x1="280.80" y1="53.00" x2="285.00" y2="53.00" stroke="#5a1005" stroke-width="0.9"/>
<line x1="279.15" y1="110.20" x2="279.15" y2="111.30" stroke="#222" stroke-width="0.5"/>
<text x="283.45" y="113.90" font-size="4.3" font-weight="bold" text-anchor="end" fill="#111" transform="rotate(-45 283.45 113.90)" stroke="#111" stroke-width="0.16">READ</text>
<line x1="290.30" y1="95.50" x2="290.30" y2="96.80" stroke="#333" stroke-width="0.6" stroke-dasharray="0.8 0.55"/>
<line x1="290.30" y1="101.30" x2="290.30" y2="102.00" stroke="#333" stroke-width="0.6" stroke-dasharray="0.8 0.55"/>
<line x1="289.70" y1="95.50" x2="290.90" y2="95.50" stroke="#555" stroke-width="0.6"/>
<line x1="289.70" y1="102.00" x2="290.90" y2="102.00" stroke="#555" stroke-width="0.6"/>
<rect x="288.20" y="96.80" width="4.20" height="4.50" fill="#4f63d9" stroke="#3545b0" stroke-width="0.35" rx="0.5"/>
<line x1="288.20" y1="99.30" x2="292.40" y2="99.30" stroke="#1a2570" stroke-width="0.9"/>
<line x1="297.80" y1="30.00" x2="297.80" y2="49.50" stroke="#333" stroke-width="0.6" stroke-dasharray="0.8 0.55"/>
<line x1="297.80" y1="76.30" x2="297.80" y2="104.50" stroke="#333" stroke-width="0.6" stroke-dasharray="0.8 0.55"/>
<line x1="297.20" y1="30.00" x2="298.40" y2="30.00" stroke="#555" stroke-width="0.6"/>
<line x1="297.20" y1="104.50" x2="298.40" y2="104.50" stroke="#555" stroke-width="0.6"/>
<rect x="295.70" y="49.50" width="4.20" height="26.80" fill="#ea3f1d" stroke="#b52a10" stroke-width="0.35" rx="0.5"/>
<line x1="295.70" y1="62.50" x2="299.90" y2="62.50" stroke="#5a1005" stroke-width="0.9"/>
<line x1="294.05" y1="110.20" x2="294.05" y2="111.30" stroke="#222" stroke-width="0.5"/>
<text x="298.35" y="113.90" font-size="4.3" font-weight="bold" text-anchor="end" fill="#111" transform="rotate(-45 298.35 113.90)" stroke="#111" stroke-width="0.16">SARC</text>
<line x1="305.10" y1="59.20" x2="305.10" y2="59.20" stroke="#333" stroke-width="0.6" stroke-dasharray="0.8 0.55"/>
<line x1="305.10" y1="59.80" x2="305.10" y2="59.80" stroke="#333" stroke-width="0.6" stroke-dasharray="0.8 0.55"/>
<line x1="304.50" y1="59.20" x2="305.70" y2="59.20" stroke="#555" stroke-width="0.6"/>
<line x1="304.50" y1="59.80" x2="305.70" y2="59.80" stroke="#555" stroke-width="0.6"/>
<rect x="303.00" y="58.75" width="4.20" height="0.90" fill="#4f63d9" stroke="#3545b0" stroke-width="0.35" rx="0.5"/>
<line x1="303.00" y1="59.50" x2="307.20" y2="59.50" stroke="#1a2570" stroke-width="0.9"/>
<line x1="312.60" y1="30.80" x2="312.60" y2="60.00" stroke="#333" stroke-width="0.6" stroke-dasharray="0.8 0.55"/>
<line x1="312.60" y1="83.30" x2="312.60" y2="104.50" stroke="#333" stroke-width="0.6" stroke-dasharray="0.8 0.55"/>
<line x1="312.00" y1="30.80" x2="313.20" y2="30.80" stroke="#555" stroke-width="0.6"/>
<line x1="312.00" y1="104.50" x2="313.20" y2="104.50" stroke="#555" stroke-width="0.6"/>
<rect x="310.50" y="60.00" width="4.20" height="23.30" fill="#ea3f1d" stroke="#b52a10" stroke-width="0.35" rx="0.5"/>
<line x1="310.50" y1="70.00" x2="314.70" y2="70.00" stroke="#5a1005" stroke-width="0.9"/>
<line x1="308.85" y1="110.20" x2="308.85" y2="111.30" stroke="#222" stroke-width="0.5"/>
<text x="313.15" y="113.90" font-size="4.3" font-weight="bold" text-anchor="end" fill="#111" transform="rotate(-45 313.15 113.90)" stroke="#111" stroke-width="0.16">SKCM</text>
<line x1="320.00" y1="89.50" x2="320.00" y2="100.50" stroke="#333" stroke-width="0.6" stroke-dasharray="0.8 0.55"/>
<line x1="320.00" y1="105.50" x2="320.00" y2="107.50" stroke="#333" stroke-width="0.6" stroke-dasharray="0.8 0.55"/>
<line x1="319.40" y1="89.50" x2="320.60" y2="89.50" stroke="#555" stroke-width="0.6"/>
<line x1="319.40" y1="107.50" x2="320.60" y2="107.50" stroke="#555" stroke-width="0.6"/>
<rect x="317.90" y="100.50" width="4.20" height="5.00" fill="#4f63d9" stroke="#3545b0" stroke-width="0.35" rx="0.5"/>
<line x1="317.90" y1="103.00" x2="322.10" y2="103.00" stroke="#1a2570" stroke-width="0.9"/>
<line x1="327.50" y1="83.30" x2="327.50" y2="95.50" stroke="#333" stroke-width="0.6" stroke-dasharray="0.8 0.55"/>
<line x1="327.50" y1="103.30" x2="327.50" y2="106.00" stroke="#333" stroke-width="0.6" stroke-dasharray="0.8 0.55"/>
<line x1="326.90" y1="83.30" x2="328.10" y2="83.30" stroke="#555" stroke-width="0.6"/>
<line x1="326.90" y1="106.00" x2="328.10" y2="106.00" stroke="#555" stroke-width="0.6"/>
<rect x="325.40" y="95.50" width="4.20" height="7.80" fill="#ea3f1d" stroke="#b52a10" stroke-width="0.35" rx="0.5"/>
<line x1="325.40" y1="98.80" x2="329.60" y2="98.80" stroke="#5a1005" stroke-width="0.9"/>
<line x1="323.75" y1="110.20" x2="323.75" y2="111.30" stroke="#222" stroke-width="0.5"/>
<text x="328.05" y="113.90" font-size="4.3" font-weight="bold" text-anchor="end" fill="#111" transform="rotate(-45 328.05 113.90)" stroke="#111" stroke-width="0.16">THCA</text>
<line x1="335.00" y1="39.50" x2="335.00" y2="45.50" stroke="#333" stroke-width="0.6" stroke-dasharray="0.8 0.55"/>
<line x1="335.00" y1="58.00" x2="335.00" y2="63.80" stroke="#333" stroke-width="0.6" stroke-dasharray="0.8 0.55"/>
<line x1="334.40" y1="39.50" x2="335.60" y2="39.50" stroke="#555" stroke-width="0.6"/>
<line x1="334.40" y1="63.80" x2="335.60" y2="63.80" stroke="#555" stroke-width="0.6"/>
<rect x="332.90" y="45.50" width="4.20" height="12.50" fill="#4f63d9" stroke="#3545b0" stroke-width="0.35" rx="0.5"/>
<line x1="332.90" y1="51.30" x2="337.10" y2="51.30" stroke="#1a2570" stroke-width="0.9"/>
<line x1="342.50" y1="25.00" x2="342.50" y2="47.00" stroke="#333" stroke-width="0.6" stroke-dasharray="0.8 0.55"/>
<line x1="342.50" y1="79.30" x2="342.50" y2="105.00" stroke="#333" stroke-width="0.6" stroke-dasharray="0.8 0.55"/>
<line x1="341.90" y1="25.00" x2="343.10" y2="25.00" stroke="#555" stroke-width="0.6"/>
<line x1="341.90" y1="105.00" x2="343.10" y2="105.00" stroke="#555" stroke-width="0.6"/>
<rect x="340.40" y="47.00" width="4.20" height="32.30" fill="#ea3f1d" stroke="#b52a10" stroke-width="0.35" rx="0.5"/>
<line x1="340.40" y1="61.80" x2="344.60" y2="61.80" stroke="#5a1005" stroke-width="0.9"/>
<line x1="338.75" y1="110.20" x2="338.75" y2="111.30" stroke="#222" stroke-width="0.5"/>
<text x="343.05" y="113.90" font-size="4.3" font-weight="bold" text-anchor="end" fill="#111" transform="rotate(-45 343.05 113.90)" stroke="#111" stroke-width="0.16">THYM</text>
<line x1="349.90" y1="62.00" x2="349.90" y2="79.50" stroke="#333" stroke-width="0.6" stroke-dasharray="0.8 0.55"/>
<line x1="349.90" y1="102.00" x2="349.90" y2="108.50" stroke="#333" stroke-width="0.6" stroke-dasharray="0.8 0.55"/>
<line x1="349.30" y1="62.00" x2="350.50" y2="62.00" stroke="#555" stroke-width="0.6"/>
<line x1="349.30" y1="108.50" x2="350.50" y2="108.50" stroke="#555" stroke-width="0.6"/>
<rect x="347.80" y="79.50" width="4.20" height="22.50" fill="#4f63d9" stroke="#3545b0" stroke-width="0.35" rx="0.5"/>
<line x1="347.80" y1="87.50" x2="352.00" y2="87.50" stroke="#1a2570" stroke-width="0.9"/>
<line x1="357.40" y1="23.00" x2="357.40" y2="47.50" stroke="#333" stroke-width="0.6" stroke-dasharray="0.8 0.55"/>
<line x1="357.40" y1="64.50" x2="357.40" y2="89.50" stroke="#333" stroke-width="0.6" stroke-dasharray="0.8 0.55"/>
<line x1="356.80" y1="23.00" x2="358.00" y2="23.00" stroke="#555" stroke-width="0.6"/>
<line x1="356.80" y1="89.50" x2="358.00" y2="89.50" stroke="#555" stroke-width="0.6"/>
<rect x="355.30" y="47.50" width="4.20" height="17.00" fill="#ea3f1d" stroke="#b52a10" stroke-width="0.35" rx="0.5"/>
<line x1="355.30" y1="55.00" x2="359.50" y2="55.00" stroke="#5a1005" stroke-width="0.9"/>
<line x1="353.65" y1="110.20" x2="353.65" y2="111.30" stroke="#222" stroke-width="0.5"/>
<text x="357.95" y="113.90" font-size="4.3" font-weight="bold" text-anchor="end" fill="#111" transform="rotate(-45 357.95 113.90)" stroke="#111" stroke-width="0.16">STAD</text>
<line x1="364.90" y1="87.50" x2="364.90" y2="102.00" stroke="#333" stroke-width="0.6" stroke-dasharray="0.8 0.55"/>
<line x1="364.90" y1="107.50" x2="364.90" y2="109.00" stroke="#333" stroke-width="0.6" stroke-dasharray="0.8 0.55"/>
<line x1="364.30" y1="87.50" x2="365.50" y2="87.50" stroke="#555" stroke-width="0.6"/>
<line x1="364.30" y1="109.00" x2="365.50" y2="109.00" stroke="#555" stroke-width="0.6"/>
<rect x="362.80" y="102.00" width="4.20" height="5.50" fill="#4f63d9" stroke="#3545b0" stroke-width="0.35" rx="0.5"/>
<line x1="362.80" y1="104.50" x2="367.00" y2="104.50" stroke="#1a2570" stroke-width="0.9"/>
<line x1="372.40" y1="34.50" x2="372.40" y2="63.30" stroke="#333" stroke-width="0.6" stroke-dasharray="0.8 0.55"/>
<line x1="372.40" y1="85.00" x2="372.40" y2="108.00" stroke="#333" stroke-width="0.6" stroke-dasharray="0.8 0.55"/>
<line x1="371.80" y1="34.50" x2="373.00" y2="34.50" stroke="#555" stroke-width="0.6"/>
<line x1="371.80" y1="108.00" x2="373.00" y2="108.00" stroke="#555" stroke-width="0.6"/>
<rect x="370.30" y="63.30" width="4.20" height="21.70" fill="#ea3f1d" stroke="#b52a10" stroke-width="0.35" rx="0.5"/>
<line x1="370.30" y1="74.00" x2="374.50" y2="74.00" stroke="#5a1005" stroke-width="0.9"/>
<line x1="368.65" y1="110.20" x2="368.65" y2="111.30" stroke="#222" stroke-width="0.5"/>
<text x="372.95" y="113.90" font-size="4.3" font-weight="bold" text-anchor="end" fill="#111" transform="rotate(-45 372.95 113.90)" stroke="#111" stroke-width="0.16">UCEC</text>
<text x="203.90" y="130.90" font-size="5.0" font-weight="bold" text-anchor="middle" fill="#000" stroke="#000" stroke-width="0.18">TCGA samples</text>
<text x="0.00" y="133.40" font-size="6" font-weight="bold" text-anchor="start" fill="#000">B</text>
<rect x="17.10" y="136.90" width="355.40" height="100.10" fill="#ffffff" stroke="none" stroke-width="0.5"/>
<rect x="23.80" y="136.90" width="10.81" height="100.10" fill="#d4d4d4" stroke="none" stroke-width="0.5"/>
<rect x="35.41" y="136.90" width="10.81" height="100.10" fill="#d4d4d4" stroke="none" stroke-width="0.5"/>
<rect x="70.24" y="136.90" width="10.81" height="100.10" fill="#d4d4d4" stroke="none" stroke-width="0.5"/>
<rect x="81.85" y="136.90" width="10.81" height="100.10" fill="#d4d4d4" stroke="none" stroke-width="0.5"/>
<rect x="93.46" y="136.90" width="10.81" height="100.10" fill="#d4d4d4" stroke="none" stroke-width="0.5"/>
<rect x="110.88" y="136.90" width="10.81" height="100.10" fill="#d4d4d4" stroke="none" stroke-width="0.5"/>
<rect x="122.49" y="136.90" width="10.81" height="100.10" fill="#d4d4d4" stroke="none" stroke-width="0.5"/>
<rect x="134.10" y="136.90" width="10.81" height="100.10" fill="#d4d4d4" stroke="none" stroke-width="0.5"/>
<rect x="145.71" y="136.90" width="10.81" height="100.10" fill="#d4d4d4" stroke="none" stroke-width="0.5"/>
<rect x="157.32" y="136.90" width="10.81" height="100.10" fill="#d4d4d4" stroke="none" stroke-width="0.5"/>
<rect x="168.93" y="136.90" width="10.81" height="100.10" fill="#d4d4d4" stroke="none" stroke-width="0.5"/>
<rect x="180.54" y="136.90" width="10.81" height="100.10" fill="#d4d4d4" stroke="none" stroke-width="0.5"/>
<rect x="203.76" y="136.90" width="10.81" height="100.10" fill="#d4d4d4" stroke="none" stroke-width="0.5"/>
<rect x="215.37" y="136.90" width="10.81" height="100.10" fill="#d4d4d4" stroke="none" stroke-width="0.5"/>
<rect x="226.98" y="136.90" width="10.81" height="100.10" fill="#d4d4d4" stroke="none" stroke-width="0.5"/>
<rect x="250.20" y="136.90" width="10.81" height="100.10" fill="#d4d4d4" stroke="none" stroke-width="0.5"/>
<rect x="261.81" y="136.90" width="10.81" height="100.10" fill="#d4d4d4" stroke="none" stroke-width="0.5"/>
<rect x="273.42" y="136.90" width="10.81" height="100.10" fill="#d4d4d4" stroke="none" stroke-width="0.5"/>
<rect x="285.03" y="136.90" width="10.81" height="100.10" fill="#d4d4d4" stroke="none" stroke-width="0.5"/>
<rect x="302.44" y="136.90" width="10.81" height="100.10" fill="#d4d4d4" stroke="none" stroke-width="0.5"/>
<rect x="314.05" y="136.90" width="10.81" height="100.10" fill="#d4d4d4" stroke="none" stroke-width="0.5"/>
<rect x="331.47" y="136.90" width="10.81" height="100.10" fill="#d4d4d4" stroke="none" stroke-width="0.5"/>
<rect x="348.88" y="136.90" width="10.81" height="100.10" fill="#d4d4d4" stroke="none" stroke-width="0.5"/>
<line x1="20.60" y1="136.90" x2="20.60" y2="237.00" stroke="#ececec" stroke-width="0.3"/>
<line x1="26.41" y1="136.90" x2="26.41" y2="237.00" stroke="#ececec" stroke-width="0.3"/>
<line x1="32.21" y1="136.90" x2="32.21" y2="237.00" stroke="#ececec" stroke-width="0.3"/>
<line x1="38.02" y1="136.90" x2="38.02" y2="237.00" stroke="#ececec" stroke-width="0.3"/>
<line x1="43.82" y1="136.90" x2="43.82" y2="237.00" stroke="#ececec" stroke-width="0.3"/>
<line x1="49.62" y1="136.90" x2="49.62" y2="237.00" stroke="#ececec" stroke-width="0.3"/>
<line x1="55.43" y1="136.90" x2="55.43" y2="237.00" stroke="#ececec" stroke-width="0.3"/>
<line x1="61.23" y1="136.90" x2="61.23" y2="237.00" stroke="#ececec" stroke-width="0.3"/>
<line x1="67.04" y1="136.90" x2="67.04" y2="237.00" stroke="#ececec" stroke-width="0.3"/>
<line x1="72.84" y1="136.90" x2="72.84" y2="237.00" stroke="#ececec" stroke-width="0.3"/>
<line x1="78.65" y1="136.90" x2="78.65" y2="237.00" stroke="#ececec" stroke-width="0.3"/>
<line x1="84.45" y1="136.90" x2="84.45" y2="237.00" stroke="#ececec" stroke-width="0.3"/>
<line x1="90.26" y1="136.90" x2="90.26" y2="237.00" stroke="#ececec" stroke-width="0.3"/>
<line x1="96.06" y1="136.90" x2="96.06" y2="237.00" stroke="#ececec" stroke-width="0.3"/>
<line x1="101.87" y1="136.90" x2="101.87" y2="237.00" stroke="#ececec" stroke-width="0.3"/>
<line x1="107.67" y1="136.90" x2="107.67" y2="237.00" stroke="#ececec" stroke-width="0.3"/>
<line x1="113.48" y1="136.90" x2="113.48" y2="237.00" stroke="#ececec" stroke-width="0.3"/>
<line x1="119.28" y1="136.90" x2="119.28" y2="237.00" stroke="#ececec" stroke-width="0.3"/>
<line x1="125.09" y1="136.90" x2="125.09" y2="237.00" stroke="#ececec" stroke-width="0.3"/>
<line x1="130.89" y1="136.90" x2="130.89" y2="237.00" stroke="#ececec" stroke-width="0.3"/>
<line x1="136.70" y1="136.90" x2="136.70" y2="237.00" stroke="#ececec" stroke-width="0.3"/>
<line x1="142.50" y1="136.90" x2="142.50" y2="237.00" stroke="#ececec" stroke-width="0.3"/>
<line x1="148.31" y1="136.90" x2="148.31" y2="237.00" stroke="#ececec" stroke-width="0.3"/>
<line x1="154.11" y1="136.90" x2="154.11" y2="237.00" stroke="#ececec" stroke-width="0.3"/>
<line x1="159.92" y1="136.90" x2="159.92" y2="237.00" stroke="#ececec" stroke-width="0.3"/>
<line x1="165.72" y1="136.90" x2="165.72" y2="237.00" stroke="#ececec" stroke-width="0.3"/>
<line x1="171.53" y1="136.90" x2="171.53" y2="237.00" stroke="#ececec" stroke-width="0.3"/>
<line x1="177.33" y1="136.90" x2="177.33" y2="237.00" stroke="#ececec" stroke-width="0.3"/>
<line x1="183.14" y1="136.90" x2="183.14" y2="237.00" stroke="#ececec" stroke-width="0.3"/>
<line x1="188.94" y1="136.90" x2="188.94" y2="237.00" stroke="#ececec" stroke-width="0.3"/>
<line x1="194.75" y1="136.90" x2="194.75" y2="237.00" stroke="#ececec" stroke-width="0.3"/>
<line x1="200.55" y1="136.90" x2="200.55" y2="237.00" stroke="#ececec" stroke-width="0.3"/>
<line x1="206.36" y1="136.90" x2="206.36" y2="237.00" stroke="#ececec" stroke-width="0.3"/>
<line x1="212.16" y1="136.90" x2="212.16" y2="237.00" stroke="#ececec" stroke-width="0.3"/>
<line x1="217.97" y1="136.90" x2="217.97" y2="237.00" stroke="#ececec" stroke-width="0.3"/>
<line x1="223.77" y1="136.90" x2="223.77" y2="237.00" stroke="#ececec" stroke-width="0.3"/>
<line x1="229.58" y1="136.90" x2="229.58" y2="237.00" stroke="#ececec" stroke-width="0.3"/>
<line x1="235.38" y1="136.90" x2="235.38" y2="237.00" stroke="#ececec" stroke-width="0.3"/>
<line x1="241.19" y1="136.90" x2="241.19" y2="237.00" stroke="#ececec" stroke-width="0.3"/>
<line x1="246.99" y1="136.90" x2="246.99" y2="237.00" stroke="#ececec" stroke-width="0.3"/>
<line x1="252.80" y1="136.90" x2="252.80" y2="237.00" stroke="#ececec" stroke-width="0.3"/>
<line x1="258.61" y1="136.90" x2="258.61" y2="237.00" stroke="#ececec" stroke-width="0.3"/>
<line x1="264.41" y1="136.90" x2="264.41" y2="237.00" stroke="#ececec" stroke-width="0.3"/>
<line x1="270.21" y1="136.90" x2="270.21" y2="237.00" stroke="#ececec" stroke-width="0.3"/>
<line x1="276.02" y1="136.90" x2="276.02" y2="237.00" stroke="#ececec" stroke-width="0.3"/>
<line x1="281.82" y1="136.90" x2="281.82" y2="237.00" stroke="#ececec" stroke-width="0.3"/>
<line x1="287.63" y1="136.90" x2="287.63" y2="237.00" stroke="#ececec" stroke-width="0.3"/>
<line x1="293.44" y1="136.90" x2="293.44" y2="237.00" stroke="#ececec" stroke-width="0.3"/>
<line x1="299.24" y1="136.90" x2="299.24" y2="237.00" stroke="#ececec" stroke-width="0.3"/>
<line x1="305.05" y1="136.90" x2="305.05" y2="237.00" stroke="#ececec" stroke-width="0.3"/>
<line x1="310.85" y1="136.90" x2="310.85" y2="237.00" stroke="#ececec" stroke-width="0.3"/>
<line x1="316.66" y1="136.90" x2="316.66" y2="237.00" stroke="#ececec" stroke-width="0.3"/>
<line x1="322.46" y1="136.90" x2="322.46" y2="237.00" stroke="#ececec" stroke-width="0.3"/>
<line x1="328.26" y1="136.90" x2="328.26" y2="237.00" stroke="#ececec" stroke-width="0.3"/>
<line x1="334.07" y1="136.90" x2="334.07" y2="237.00" stroke="#ececec" stroke-width="0.3"/>
<line x1="339.88" y1="136.90" x2="339.88" y2="237.00" stroke="#ececec" stroke-width="0.3"/>
<line x1="345.68" y1="136.90" x2="345.68" y2="237.00" stroke="#ececec" stroke-width="0.3"/>
<line x1="351.49" y1="136.90" x2="351.49" y2="237.00" stroke="#ececec" stroke-width="0.3"/>
<line x1="357.29" y1="136.90" x2="357.29" y2="237.00" stroke="#ececec" stroke-width="0.3"/>
<line x1="363.10" y1="136.90" x2="363.10" y2="237.00" stroke="#ececec" stroke-width="0.3"/>
<line x1="368.90" y1="136.90" x2="368.90" y2="237.00" stroke="#ececec" stroke-width="0.3"/>
<defs><filter id="sb" x="0" y="0" width="1" height="1"><feGaussianBlur stdDeviation="0.35"/></filter></defs><g filter="url(#sb)">
<path transform="scale(0.1)" d="M197 2251h0m7 -122h0m16 134h0m-17 18h0m17 -182h0m-15 4h0m-2 113h0m5 -34h0m3 -199h0m-2 -264h0m-19 299h0m26 97h0m-3 -453h0m6 529h0m-18 -215h0m-7 150h0m27 -88h0m-23 146h0m25 -82h0m-30 50h0m-4 -140h0m34 79h0m-8 -156h0m-19 84h0m23 34h0m-5 -226h0m-7 336h0m6 -57h0m-9 -206h0m20 302h0m-29 -246h0m23 -57h0m-13 121h0m7 132h0m3 -215h0m1 152h0m-13 -227h0m14 -138h0m-24 234h0m24 -25h0m-6 37h0m-20 -94h0m21 289h0m8 -45h0m-1 -165h0m17 13h0m52 23h0m-4 -170h0m-39 81h0m28 169h0m0 -456h0m6 321h0m4 -312h0m-28 -22h0m-15 243h0m29 4h0m-16 447h0m9 -280h0m7 320h0m-17 -312h0m-15 -267h0m37 77h0m-24 116h0m10 -210h0m-7 368h0m24 -275h0m-29 157h0m6 -14h0m35 -144h0m-28 -221h0m-3 161h0m28 113h0m6 -40h0m-11 -286h0m-43 210h0m21 -105h0m-3 169h0m-7 -278h0m-1 150h0m33 358h0m-18 -173h0m-7 101h0m-10 178h0m36 -386h0m-38 -147h0m8 406h0m-1 -255h0m27 208h0m-9 -458h0m-6 330h0m14 -415h0m-27 259h0m14 324h0m-18 -139h0m31 -43h0m2 91h0m-23 10h0m27 343h0m-19 -443h0m-3 -390h0m13 274h0m3 -243h0m-27 615h0m3 -128h0m7 261h0m23 -170h0m-29 -173h0m30 -287h0m-35 109h0m24 264h0m-29 62h0m31 -448h0m-22 537h0m14 65h0m-10 -428h0m18 396h0m-27 -605h0m20 123h0m-11 -7h0m-10 263h0m2 -357h0m18 394h0m8 -133h0m-8 187h0m-6 183h0m31 -215h0m-45 -45h0m40 -212h0m-5 223h0m3 -109h0m-18 80h0m4 50h0m-19 -236h0m12 257h0m-15 -439h0m32 536h0m-42 -386h0m19 173h0m13 -32h0m-26 -154h0m3 207h0m35 -59h0m-22 -387h0m-11 241h0m18 87h0m-30 112h0m5 29h0m23 270h0m-12 -136h0m13 101h0m6 -424h0m-3 283h0m-15 113h0m25 -443h0m-27 -31h0m8 318h0m-23 -22h0m3 -87h0m37 158h0m-39 -151h0m18 95h0m-6 -466h0m32 -24h0m8 497h0m-9 -481h0m-37 450h0m14 385h0m-14 -422h0m6 -49h0m-7 -14h0m7 -1h0m29 279h0m-15 149h0m-9 -324h0m11 30h0m25 -145h0m-34 -101h0m-7 42h0m17 -26h0m7 -101h0m-29 256h0m-7 33h0m17 -485h0m32 583h0m-35 185h0m7 -524h0m-11 93h0m20 47h0m-22 9h0m25 -36h0m5 -180h0m-5 130h0m-16 220h0m6 272h0m3 -154h0m2 -308h0m3 -24h0m2 88h0m14 -119h0m-3 97h0m-21 -57h0m11 379h0m10 -184h0m-32 -227h0m9 246h0m9 -515h0m-21 377h0m1 8h0m40 -95h0m-35 -31h0m33 50h0m-16 365h0m19 -110h0m-7 -62h0m1 -239h0m-7 213h0m-39 -182h0m34 189h0m-3 -91h0m13 0h0m-1 -237h0m-36 -72h0m31 730h0m6 -418h0m-33 -378h0m24 48h0m-19 448h0m10 -176h0m-5 26h0m16 220h0m-27 -348h0m-7 135h0m6 -89h0m17 -132h0m-16 251h0m32 55h0m0 15h0m-24 -252h0m5 638h0m-20 -596h0m13 340h0m10 -499h0m-2 42h0m16 340h0m-5 -539h0m-12 502h0m1 45h0m-5 139h0m0 -546h0m-10 412h0m11 -56h0m16 -397h0m-26 271h0m-2 -190h0m30 -50h0m-12 278h0m4 382h0m10 -466h0m-18 132h0m18 -140h0m-29 48h0m36 177h0m-14 250h0m0 -635h0m-11 355h0m16 24h0m-26 -214h0m12 -266h0m-3 500h0m14 -21h0m-15 -130h0m20 201h0m-11 -413h0m9 240h0m-4 133h0m-7 -374h0m9 265h0m17 123h0m-30 125h0m14 -143h0m3 -163h0m3 -82h0m-1 159h0m-8 -56h0m18 95h0m-21 248h0m13 -216h0m-26 -472h0m-11 574h0m11 -220h0m-5 -57h0m3 -120h0m9 231h0m9 -24h0m-13 -354h0m18 135h0m-3 592h0m11 -623h0m84 292h0m7 -57h0m11 -26h0m-3 -115h0m11 168h0m-22 -194h0m32 262h0m-50 -262h0m3 204h0m46 69h0m-27 -483h0m14 468h0m-31 -148h0m22 -24h0m15 -64h0m-36 20h0m40 -100h0m-3 580h0m-24 -264h0m-10 378h0m10 -331h0m28 -231h0m-30 -166h0m12 190h0m-31 -43h0m7 8h0m24 113h0m22 -149h0m-52 388h0m41 -103h0m1 241h0m-8 -528h0m-20 -124h0m33 175h0m-6 -73h0m-14 19h0m-9 101h0m36 72h0m-7 -326h0m-24 641h0m-8 -124h0m14 -375h0m-12 105h0m-9 66h0m45 431h0m-11 -400h0m-17 -351h0m-12 338h0m-3 214h0m-1 -333h0m38 211h0m-38 49h0m42 268h0m-44 31h0m21 -832h0m6 631h0m6 -68h0m-19 232h0m5 -296h0m-13 213h0m-14 -495h0m31 21h0m-29 -70h0m5 113h0m-3 -40h0m19 125h0m9 -302h0m4 410h0m-18 -470h0m-4 233h0m28 576h0m-25 -9h0m37 -534h0m-39 -71h0m-15 245h0m36 -214h0m-17 288h0m-7 -356h0m15 253h0m-18 -107h0m0 -51h0m-8 -48h0m12 208h0m14 -144h0m-9 8h0m17 -240h0m-4 271h0m20 142h0m-40 -262h0m36 -3h0m-33 106h0m4 88h0m19 27h0m-12 -157h0m24 -133h0m-6 84h0m-34 255h0m0 -328h0m42 56h0m-2 15h0m-5 108h0m-43 154h0m11 -292h0m28 37h0m-35 282h0m22 -271h0m26 258h0m-25 9h0m2 -13h0m-30 -254h0m36 -8h0m-6 155h0m24 265h0m-15 -427h0m-22 13h0m37 260h0m-33 -172h0m-14 -188h0m-8 16h0m34 224h0m-27 140h0m37 -2h0m-41 8h0m15 -259h0m24 152h0m-13 -60h0m6 389h0m-12 -793h0m-1 478h0m12 188h0m-16 -320h0m33 18h0m-10 130h0m-31 361h0m20 -35h0m-1 -805h0m17 405h0m-10 -41h0m14 158h0m-47 -254h0m44 169h0m-27 -187h0m9 -192h0m-24 468h0m51 268h0m-31 -252h0m20 14h0m-36 136h0m12 70h0m-8 -393h0m6 -165h0m-9 -52h0m4 197h0m-9 102h0m19 -385h0m11 458h0m-32 -158h0m18 -39h0m-4 -255h0m19 240h0m-16 142h0m13 -29h0m-22 151h0m29 -523h0m-36 480h0m17 259h0m7 -267h0m5 -363h0m-7 -2h0m-3 76h0m27 536h0m-22 -506h0m18 26h0m-4 32h0m-35 -313h0m24 740h0m-26 -442h0m33 43h0m1 300h0m-6 -162h0m13 34h0m-32 72h0m17 -288h0m-14 -19h0m28 257h0m-42 -423h0m18 410h0m7 -420h0m-7 95h0m-10 -27h0m7 244h0m5 242h0m17 -334h0m-7 90h0m20 58h0m-29 -71h0m-21 -77h0m1 263h0m6 -63h0m22 216h0m-4 -459h0m-16 304h0m-4 -391h0m-3 241h0m48 137h0m-2 -347h0m-38 259h0m5 -331h0m-9 475h0m10 -611h0m-10 723h0m46 -576h0m-53 140h0m24 196h0m-2 15h0m-17 18h0m0 -73h0m45 -470h0m-32 129h0m8 538h0m-23 -159h0m44 -336h0m1 334h0m-36 -479h0m-11 826h0m50 -371h0m-49 71h0m2 -120h0m38 -283h0m-11 408h0m-12 -287h0m25 431h0m-41 -358h0m2 57h0m23 -59h0m19 200h0m4 -260h0m-9 165h0m-22 38h0m-6 -252h0m-11 -22h0m8 192h0m31 452h0m-10 -444h0m-32 -208h0m37 318h0m-20 32h0m7 -311h0m-25 226h0m22 105h0m18 -222h0m14 40h0m-11 237h0m-16 -337h0m23 -39h0m-16 240h0m-26 -219h0m29 467h0m-30 -538h0m45 -125h0m-11 325h0m3 -10h0m-20 -8h0m19 -4h0m-26 460h0m12 -789h0m-23 482h0m4 -4h0m2 -277h0m32 563h0m-5 -146h0m4 -370h0m-6 248h0m6 301h0m-39 -499h0m28 38h0m-27 -181h0m18 84h0m-12 334h0m35 -222h0m-32 112h0m10 112h0m-10 -411h0m35 147h0m0 -87h0m-22 297h0m1 -326h0m-18 -139h0m-2 350h0m44 -222h0m-22 -134h0m-2 169h0m23 213h0m-17 2h0m19 -53h0m-17 -410h0m-16 237h0m17 -111h0m-10 105h0m19 504h0m-16 -367h0m11 -320h0m-1 43h0m-33 326h0m25 30h0m-30 -86h0m37 339h0m-24 -288h0m0 -37h0m8 443h0m12 -239h0m2 -555h0m16 224h0m-45 62h0m37 -76h0m-17 -68h0m-19 616h0m12 -495h0m-5 69h0m-2 151h0m7 -140h0m29 -306h0m-4 426h0m-38 -184h0m17 303h0m12 -277h0m-22 -278h0m36 319h0m-36 127h0m-1 -103h0m-13 -34h0m30 208h0m-1 -84h0m7 -58h0m-21 81h0m37 156h0m-15 -309h0m-17 -141h0m0 129h0m27 179h0m-20 -250h0m-6 49h0m25 73h0m-15 83h0m14 36h0m-9 -74h0m-10 -104h0m22 509h0m-4 -389h0m-6 54h0m-36 -127h0m1 102h0m50 -234h0m-35 307h0m-13 150h0m18 -271h0m-12 189h0m34 -63h0m-19 -272h0m-24 29h0m37 -114h0m-18 23h0m26 30h0m-4 -3h0m-26 -3h0m-15 139h0m4 -145h0m30 27h0m-27 324h0m28 268h0m-24 -486h0m24 -340h0m3 303h0m10 79h0m-3 -97h0m-13 76h0m-26 86h0m40 -51h0m-6 36h0m12 -225h0m-11 -41h0m-39 202h0m45 166h0m2 -233h0m-28 -3h0m-3 326h0m11 -452h0m-32 4h0m43 -168h0m-41 473h0m15 -389h0m32 716h0m-36 -502h0m-3 -96h0m22 110h0m4 -397h0m-33 407h0m-1 0h0m20 -84h0m14 167h0m14 3h0m-29 -90h0m24 278h0m-41 -213h0m33 -394h0m-2 349h0m-35 -70h0m11 -348h0m32 578h0m2 -538h0m0 218h0m-11 147h0m-32 -218h0m13 128h0m-15 -53h0m4 -249h0m41 182h0m-39 257h0m5 141h0m-6 -73h0m25 -115h0m-26 4h0m43 155h0m-42 4h0m11 -223h0m-9 14h0m47 128h0m-48 -145h0m27 454h0m-8 -339h0m8 -179h0m17 233h0m-6 -196h0m-1 585h0m-42 -387h0m46 -268h0m5 81h0m-28 207h0m12 -196h0m6 58h0m6 -397h0m-36 641h0m30 -354h0m7 378h0m-15 -263h0m-5 -140h0m-21 94h0m28 -84h0m16 480h0m-2 125h0m-36 -388h0m10 45h0m14 143h0m-24 -238h0m21 33h0m1 297h0m-36 -689h0m27 272h0m-5 -117h0m2 274h0m-20 -326h0m14 84h0m-17 248h0m11 -154h0m32 -282h0m-34 20h0m-2 444h0m24 -73h0m-27 78h0m16 -36h0m32 31h0m-33 24h0m0 -185h0m-9 14h0m9 76h0m6 -9h0m-24 282h0m-1 -485h0m5 230h0m0 73h0m-2 254h0m21 -487h0m-13 265h0m19 -286h0m22 381h0m-48 -157h0m4 98h0m5 -379h0m11 21h0m-22 319h0m33 -291h0m-30 176h0m-6 76h0m25 -142h0m2 27h0m17 -129h0m-3 228h0m-21 -355h0m13 300h0m-32 -124h0m40 -141h0m11 422h0m-26 -107h0m26 -247h0m3 188h0m-44 -139h0m-1 45h0m15 282h0m-18 -142h0m25 225h0m-23 -198h0m15 88h0m25 -330h0m-2 222h0m-33 -63h0m1 -234h0m33 396h0m-19 -96h0m11 302h0m-27 -500h0m19 159h0m17 -32h0m0 -145h0m-40 230h0m11 -53h0m21 81h0m-15 80h0m0 -356h0m13 11h0m-30 497h0m14 -214h0m-12 -30h0m42 -44h0m-41 -40h0m7 331h0m-12 -557h0m25 55h0m-1 237h0m8 -94h0m-30 -127h0m-9 171h0m14 419h0m39 -656h0m-7 30h0m-11 240h0m-22 -165h0m20 427h0m15 -243h0m-19 -264h0m10 36h0m12 -27h0m-28 407h0m-19 -561h0m39 159h0m-25 -36h0m-8 91h0m-2 422h0m13 -457h0m-9 137h0m27 182h0m-35 163h0m6 -523h0m-5 265h0m18 -476h0m-8 482h0m23 215h0m-21 -299h0m-5 53h0m33 107h0m8 -310h0m-51 96h0m6 37h0m40 -317h0m-20 392h0m-9 -315h0m10 410h0m-8 -112h0m-8 -233h0m13 19h0m16 296h0m-18 -253h0m27 34h0m-46 70h0m-4 -177h0m24 267h0m16 31h0m-26 -243h0m14 193h0m13 -20h0m-27 247h0m23 -720h0m12 276h0m3 419h0m-38 -402h0m23 -266h0m-13 526h0m-18 -173h0m3 -51h0m35 9h0m-3 -13h0m8 206h0m-33 1h0m5 293h0m-3 -552h0m31 235h0m-15 48h0m16 -323h0m4 -104h0m-14 442h0m-28 -301h0m7 -24h0m-13 34h0m11 212h0m0 65h0m29 -308h0m-40 247h0m34 -26h0m7 0h0m-5 63h0m-42 -280h0m2 -90h0m7 -66h0m12 308h0m13 178h0m-10 -77h0m22 197h0m-42 -396h0m41 269h0m-20 -144h0m22 -383h0m-37 635h0m8 109h0m13 -503h0m4 604h0m-32 -657h0m41 -13h0m-4 217h0m-30 74h0m44 -194h0m-35 74h0m10 -77h0m23 -154h0m-22 411h0m-22 -67h0m21 -76h0m18 -62h0m-48 180h0m49 143h0m4 -199h0m-2 -71h0m-44 -377h0m37 112h0m-29 -119h0m13 26h0m-10 193h0m-5 55h0m-4 34h0m23 19h0m9 -283h0m5 245h0m-44 178h0m1 -316h0m22 364h0m-3 -233h0m4 48h0m28 87h0m-2 185h0m-42 -80h0m-7 -183h0m50 266h0m-34 -427h0m0 313h0m29 -144h0m-48 145h0m40 -123h0m-6 -33h0m-12 160h0m-6 -170h0m20 278h0m-16 -286h0m23 346h0m4 13h0m-41 -501h0m11 79h0m10 -18h0m2 -272h0m6 286h0m-17 372h0m15 -416h0m-19 212h0m7 111h0m29 -501h0m-36 400h0m25 390h0m13 -504h0m97 225h0m1 -366h0m9 237h0m-31 -168h0m23 99h0m-12 -122h0m9 82h0m-31 -68h0m35 -114h0m-2 196h0m12 71h0m-22 92h0m10 -499h0m-30 400h0m19 -65h0m-8 -88h0m13 76h0m-15 109h0m14 90h0m11 -516h0m-16 113h0m-18 175h0m32 115h0m-13 -191h0m-4 162h0m-1 -280h0m18 115h0m2 228h0m8 -141h0m-34 -55h0m25 -3h0m-10 31h0m5 285h0m-18 -320h0m-7 -19h0m9 249h0m1 -102h0m-1 179h0m1 -309h0m13 119h0m13 -112h0m-31 104h0m34 -108h0m-5 145h0m-15 -357h0m19 291h0m-29 313h0m-4 -138h0m42 -258h0m-36 -57h0m-9 80h0m33 -87h0m4 66h0m-18 229h0m-17 -124h0m4 221h0m23 -570h0m10 374h0m-23 -236h0m-10 93h0m24 -47h0m1 -135h0m-6 214h0m-15 -179h0m6 199h0m16 24h0m-28 59h0m-2 -69h0m9 -20h0m21 114h0m7 -92h0m-8 34h0m-18 -75h0m-12 160h0m16 -126h0m14 -58h0m-25 -2h0m11 64h0m20 55h0m-13 35h0m-27 -46h0m10 -93h0m23 -29h0m6 89h0m-8 -66h0m-15 79h0m26 59h0m-22 -139h0m-2 169h0m-23 -149h0m30 -5h0m-20 10h0m5 -15h0m-4 143h0m20 148h0m-1 45h0m-13 -525h0m28 195h0m-42 148h0m22 76h0m17 -252h0m-38 125h0m38 41h0m-1 -148h0m-2 -92h0m4 28h0m-20 143h0m18 7h0m-18 -291h0m-1 378h0m7 16h0m-1 -314h0m-17 74h0m37 174h0m-40 -173h0m22 -37h0m-15 256h0m19 -64h0m-29 -9h0m9 -66h0m1 124h0m17 224h0m-24 -272h0m90 -39h0m-13 135h0m9 -139h0m-14 86h0m-1 -265h0m19 231h0m2 55h0m-23 -288h0m12 258h0m-15 -29h0m-2 -83h0m12 229h0m-7 -276h0m2 193h0m0 -83h0m15 -64h0m-15 131h0m26 -94h0m-8 33h0m-14 -178h0m-5 43h0m17 207h0m5 -111h0m-26 43h0m4 -11h0m15 -146h0m-25 110h0m6 -21h0m-4 245h0m28 -78h0m-36 -122h0m33 93h0m-19 50h0m3 -46h0m13 -162h0m1 88h0m-2 152h0m5 -224h0m-8 188h0m4 -305h0m-15 192h0m3 -115h0m21 226h0m-11 25h0m7 -203h0m-15 16h0m8 105h0m-17 -90h0m-6 25h0m9 63h0m32 -102h0m-11 95h0m-29 10h0m53 68h0m-5 25h0m25 -238h0m12 237h0m-8 -66h0m-11 105h0m25 -67h0m-39 -62h0m36 57h0m2 66h0m-12 -108h0m3 -210h0m-2 353h0m10 -40h0m-32 250h0m13 -124h0m7 52h0m-9 -209h0m-1 -149h0m20 -98h0m-16 98h0m-24 88h0m3 119h0m14 136h0m27 -239h0m0 20h0m-11 172h0m6 -269h0m6 254h0m-19 -200h0m26 -99h0m-47 -103h0m40 494h0m-26 -319h0m-1 147h0m34 -235h0m-34 245h0m-12 -121h0m28 75h0m-28 -146h0m28 163h0m-20 -230h0m7 183h0m1 -35h0m0 -72h0m28 -128h0m4 229h0m-16 -63h0m11 -29h0m-11 -115h0m0 57h0m-30 372h0m37 -290h0m-26 103h0m25 49h0m5 -176h0m-20 147h0m3 -98h0m-19 -171h0m-11 2h0m12 294h0m-8 -97h0m13 48h0m-9 -150h0m44 221h0m-44 -29h0m-1 -272h0m27 308h0m-27 -242h0m4 103h0m13 -161h0m10 405h0m-3 -153h0m14 -104h0m-42 187h0m39 -263h0m-36 106h0m1 -111h0m-3 -1h0m24 209h0m-8 -286h0m30 284h0m-10 238h0m-13 -466h0m-7 33h0m-17 48h0m39 -64h0m-37 181h0m31 -182h0m8 187h0m-29 -142h0m24 -51h0m-22 99h0m3 108h0m20 8h0m7 52h0m-39 -291h0m-8 240h0m27 -170h0m1 9h0m-23 -32h0m28 173h0m3 109h0m-25 -282h0m-5 115h0m21 110h0m12 48h0m12 -314h0m-17 355h0m8 -313h0m4 289h0m-23 -255h0m17 265h0m8 -264h0m-23 -73h0m12 158h0m-18 258h0m-7 -363h0m-10 -18h0m42 92h0m8 54h0m-14 34h0m-17 20h0m23 -32h0m-43 -120h0m13 64h0m15 36h0m-15 -219h0m22 -16h0m-12 210h0m-1 -152h0m-15 222h0m39 -1h0m-4 87h0m-4 -277h0m12 -49h0m-23 304h0m24 -208h0m-49 -42h0m50 -79h0m-54 246h0m13 -75h0m6 82h0m32 -57h0m-29 -182h0m-9 -17h0m25 -37h0m-34 355h0m-2 -313h0m1 36h0m40 170h0m0 -278h0m4 533h0m-33 -412h0m39 12h0m-17 159h0m-15 -162h0m7 128h0m-21 21h0m14 -140h0m-17 298h0m40 -97h0m-45 -62h0m33 -62h0m-33 -120h0m13 -46h0m-9 245h0m21 169h0m-3 -198h0m-5 -256h0m17 291h0m7 60h0m-7 -151h0m-8 20h0m12 44h0m-13 39h0m25 -64h0m-38 -235h0m26 330h0m-15 142h0m1 -117h0m-5 -227h0m7 196h0m9 -195h0m-6 361h0m-14 -36h0m8 -289h0m-4 -9h0m30 148h0m-16 -93h0m-28 -41h0m16 156h0m3 162h0m31 -250h0m-7 265h0m-47 -321h0m36 130h0m14 12h0m3 -204h0m-14 168h0m4 -165h0m-39 47h0m41 102h0m-34 -64h0m-13 -202h0m24 157h0m21 57h0m11 -44h0m-4 234h0m-47 -117h0m14 -184h0m-12 432h0m1 -288h0m20 -157h0m1 32h0m-10 16h0m23 160h0m6 -154h0m-16 155h0m8 -102h0m1 -211h0m-9 -1h0m17 100h0m-34 124h0m16 -85h0m20 170h0m-15 30h0m8 -202h0m-44 84h0m1 -82h0m23 35h0m23 12h0m-34 -39h0m33 192h0m-39 -111h0m11 -79h0m20 194h0m-3 -33h0m12 114h0m2 -69h0m-2 -208h0m-14 -7h0m-20 233h0m-7 50h0m10 -187h0m20 89h0m12 -230h0m-36 -44h0m8 111h0m-7 168h0m-7 -296h0m27 272h0m-14 36h0m4 -75h0m8 -182h0m21 445h0m-21 -408h0m5 189h0m15 237h0m-39 -464h0m28 317h0m-16 -111h0m17 108h0m15 -47h0m-41 -19h0m13 -122h0m-3 51h0m-23 51h0m4 -173h0m22 -69h0m-27 147h0m41 167h0m-21 37h0m1 -358h0m3 30h0m26 420h0m-17 -353h0m20 67h0m-12 69h0m10 -121h0m-36 170h0m12 -76h0m-4 -113h0m15 345h0m-32 -178h0m13 77h0m7 -28h0m-18 -18h0m40 69h0m-22 -314h0m25 227h0m-23 -197h0m20 114h0m-20 -221h0m-3 266h0m-18 -275h0m39 319h0m5 -119h0m-48 -174h0m38 67h0m-34 23h0m47 1h0m-29 279h0m-10 -3h0m-15 -279h0m5 14h0m18 157h0m-11 -141h0m10 330h0m-3 -441h0m-18 228h0m31 -32h0m-14 -122h0m-2 398h0m38 -282h0m-10 -136h0m-18 60h0m8 -127h0m-30 398h0m40 -242h0m-14 345h0m-30 -479h0m34 199h0m-22 -134h0m3 391h0m15 -456h0m23 260h0m-38 176h0m32 -119h0m-23 -392h0m31 154h0m-46 194h0m8 35h0m16 -165h0m-7 179h0m2 -343h0m-10 524h0m9 -297h0m-10 205h0m29 -489h0m1 132h0m-29 28h0m2 15h0m17 83h0m-2 -8h0m16 -104h0m0 253h0m-26 -115h0m9 -15h0m-8 -74h0m-25 -91h0m32 146h0m-8 -239h0m-15 545h0m29 -234h0m56 -345h0m0 125h0m-12 43h0m12 79h0m-30 -171h0m29 211h0m-13 -198h0m12 130h0m-30 -48h0m42 71h0m-10 131h0m-17 -309h0m18 -30h0m11 293h0m-1 -329h0m-35 -55h0m35 172h0m-16 203h0m-16 -428h0m16 210h0m-13 -126h0m-4 141h0m-4 58h0m-7 -126h0m25 79h0m-12 14h0m-5 -94h0m25 189h0m-31 -117h0m46 -55h0m-22 277h0m12 -435h0m-32 129h0m36 146h0m-15 132h0m5 -263h0m19 26h0m-2 -14h0m-10 158h0m-31 -167h0m2 209h0m-2 -82h0m-3 -171h0m25 83h0m4 -44h0m11 68h0m-7 38h0m-28 -57h0m24 320h0m-20 -252h0m15 220h0m2 -508h0m-11 93h0m12 96h0m-36 -59h0m5 182h0m-1 -161h0m38 53h0m-20 -42h0m8 156h0m-2 -178h0m-3 83h0m13 -85h0m4 184h0m-37 -37h0m40 163h0m-35 -331h0m35 62h0m-27 43h0m22 -107h0m-22 344h0m3 -173h0m-9 -107h0m27 46h0m-3 12h0m-36 84h0m16 6h0m-2 -261h0m5 -35h0m31 201h0m-30 180h0m-14 -126h0m32 -240h0m12 113h0m-11 156h0m-28 -243h0m9 414h0m28 -351h0m-7 -6h0m-24 332h0m5 -409h0m7 139h0m-20 84h0m38 -72h0m-27 25h0m-19 -106h0m5 35h0m-2 34h0m15 -3h0m8 264h0m18 -351h0m-14 183h0m11 -90h0m5 23h0m-11 143h0m4 -201h0m-5 -4h0m-9 14h0m24 15h0m-6 161h0m-30 -52h0m-14 4h0m28 -141h0m10 -154h0m-27 474h0m28 -179h0m5 -11h0m-19 -11h0m19 -145h0m9 96h0m-12 -30h0m-19 61h0m-5 -211h0m30 268h0m-9 -86h0m-7 16h0m-25 129h0m8 -220h0m-13 107h0m38 216h0m-21 -407h0m5 308h0m26 -266h0m-39 258h0m3 -49h0m33 -55h0m-14 5h0m-14 43h0m-3 26h0m26 -171h0m-19 340h0m48 -487h0m14 198h0m4 -170h0m0 159h0m24 33h0m-30 -150h0m-3 45h0m-16 149h0m42 -263h0m-19 106h0m17 54h0m-24 -78h0m-5 262h0m-7 -247h0m32 324h0m-7 -252h0m18 64h0m-9 -39h0m-39 -42h0m29 -12h0m-24 -75h0m36 166h0m-8 30h0m-13 76h0m21 -18h0m3 -114h0m2 -147h0m-11 19h0m-23 -67h0m4 -12h0m-18 224h0m21 191h0m7 -174h0m25 -78h0m-14 363h0m-12 -286h0m-18 -68h0m16 -54h0m20 170h0m-11 36h0m-29 -108h0m41 109h0m-35 27h0m-10 -255h0m30 366h0m-33 -367h0m32 -10h0m-13 140h0m-1 -133h0m4 295h0m17 67h0m-12 -426h0m0 72h0m17 353h0m-20 -88h0m-19 -239h0m5 -6h0m4 50h0m4 77h0m-1 -117h0m-12 -15h0m44 17h0m-8 27h0m-38 6h0m39 -65h0m11 55h0m-43 4h0m23 88h0m3 303h0m-19 -392h0m24 91h0m5 -88h0m7 -19h0m-20 1h0m-28 18h0m-2 -45h0m49 -45h0m1 88h0m-12 -61h0m-3 230h0m-32 -91h0m43 -29h0m-8 -42h0m-17 60h0m1 -231h0m18 109h0m-27 99h0m22 -155h0m-19 234h0m21 -257h0m-33 176h0m14 -106h0m-15 203h0m34 -203h0m-18 94h0m-22 -15h0m1 -121h0m35 215h0m-6 -65h0m2 342h0m6 -292h0m-32 -41h0m11 55h0m27 -97h0m-5 142h0m-10 -188h0m-26 66h0m28 50h0m-12 -124h0m22 100h0m-8 288h0m-13 -417h0m7 13h0m-6 126h0m-13 10h0m20 -122h0m-6 -94h0m-17 104h0m27 27h0m-14 79h0m-9 -43h0m8 -178h0m19 288h0m5 -157h0m-28 253h0m14 -377h0m25 85h0m-7 165h0m-20 -26h0m13 -90h0m-22 120h0m4 -220h0m16 232h0m-29 -187h0m15 263h0m32 -261h0m-31 55h0m-16 -56h0m42 117h0m-7 145h0m-1 -258h0m-1 131h0m-6 17h0m-16 -165h0m36 29h0m-40 175h0m9 -181h0m-3 365h0m34 -298h0m-7 65h0m-24 -138h0m31 8h0m-15 9h0m12 137h0m-22 208h0m-29 -334h0m20 -65h0m17 143h0m9 -81h0m-20 -78h0m18 78h0m-18 34h0m15 -60h0m-23 67h0m6 318h0m-3 -333h0m31 39h0m-31 24h0m3 -18h0m-23 48h0m48 -143h0m6 -32h0m-15 107h0m3 144h0m-16 -219h0m-7 -3h0m5 100h0m9 77h0m9 -140h0m-10 -11h0m2 213h0m8 -192h0m-8 47h0m15 -70h0m-14 -22h0m13 45h0m6 -45h0m-17 210h0m-16 -314h0m1 142h0m-20 121h0m35 111h0m4 -264h0m-21 15h0m26 46h0m-23 -68h0m-5 -43h0m-3 318h0m19 156h0m6 -399h0m-2 269h0m-7 -212h0m-2 -67h0m-30 -45h0m31 318h0m19 -233h0m-17 171h0m-1 -267h0m-22 -26h0m6 258h0m0 -109h0m19 -77h0m-33 37h0m0 38h0m1 -63h0m13 384h0m29 -195h0m-3 -218h0m-11 241h0m5 -110h0m-14 -69h0m-6 1h0m17 332h0m116 -60h0m-4 171h0m4 -53h0m2 -148h0m5 -14h0m-19 151h0m10 -2h0m7 -16h0m-10 -206h0m9 38h0m-20 143h0m12 -18h0m7 67h0m-19 2h0m9 -209h0m-14 184h0m23 -171h0m-2 181h0m-6 4h0m-8 -113h0m19 261h0m-2 -398h0m111 -362h0m4 261h0m-11 -201h0m5 17h0m-2 255h0m-17 -119h0m36 -13h0m-46 26h0m28 -12h0m-27 189h0m12 136h0m15 62h0m-22 -335h0m34 252h0m-30 -360h0m11 158h0m15 -336h0m17 218h0m-27 113h0m-18 101h0m10 -101h0m22 41h0m-38 -129h0m2 -8h0m26 14h0m15 -47h0m1 -4h0m-7 -4h0m-7 310h0m-6 -427h0m22 484h0m-1 -115h0m-20 -66h0m-5 -291h0m-8 301h0m9 -10h0m-10 -239h0m39 81h0m-27 -145h0m5 72h0m25 63h0m-41 74h0m-3 395h0m-1 -433h0m33 270h0m-37 -268h0m6 113h0m11 -16h0m2 -164h0m-8 30h0m18 76h0m7 -272h0m-4 86h0m1 160h0m-23 331h0m22 82h0m-11 -158h0m21 -306h0m6 23h0m-30 -111h0m2 -129h0m29 251h0m-27 -224h0m-1 181h0m-4 110h0m32 -121h0m-24 39h0m-12 353h0m-5 -231h0m1 -124h0m29 219h0m-14 32h0m-15 72h0m7 -332h0m18 191h0m-7 125h0m-20 -281h0m-6 -5h0m23 169h0m11 -135h0m-20 -24h0m21 170h0m-30 -119h0m39 -125h0m1 73h0m-39 109h0m21 -57h0m-20 492h0m38 -621h0m-29 203h0m23 -64h0m-10 -131h0m-16 22h0m-8 208h0m32 -45h0m-20 -81h0m15 6h0m-8 -122h0m11 100h0m-25 404h0m-9 -442h0m43 -106h0m-9 519h0m-24 -654h0m-2 340h0m30 -57h0m-38 -15h0m22 87h0m14 -122h0m-37 -117h0m6 247h0m38 -102h0m-25 473h0m-9 -500h0m-11 59h0m2 -109h0m24 375h0m17 -291h0m0 -55h0m-16 13h0m-3 111h0m-16 129h0m26 -254h0m10 19h0m3 49h0m-52 -65h0m29 -141h0m17 128h0m-40 195h0m6 -333h0m25 209h0m-36 -124h0m17 60h0m3 146h0m-6 -35h0m23 -185h0m-9 340h0m16 -88h0m-22 -109h0m-7 -18h0m-12 85h0m-2 -140h0m51 82h0m-3 -50h0m-7 344h0m-29 -210h0m8 85h0m9 -278h0m-7 311h0m25 -248h0m-12 -191h0m14 294h0m-30 -330h0m24 198h0m-36 83h0m36 257h0m-20 -212h0m21 1h0m-2 -116h0m9 101h0m-24 -100h0m-12 351h0m11 177h0m-8 -330h0m-16 -225h0m28 142h0m-15 66h0m22 367h0m-4 -507h0m-1 387h0m-11 122h0m-19 -623h0m11 247h0m7 -58h0m6 -6h0m-7 -108h0m23 161h0m-17 -28h0m-26 -30h0m40 -30h0m-10 349h0m12 -287h0m-38 -85h0m8 127h0m-12 -123h0m21 -124h0m10 468h0m1 -339h0m15 -29h0m-21 161h0m-5 -152h0m18 -54h0m-6 160h0m17 -138h0m-20 44h0m-5 -160h0m8 336h0m-8 -221h0m18 -108h0m-22 82h0m4 45h0m-22 118h0m21 58h0m-3 -34h0m-20 -168h0m47 -107h0m-34 507h0m26 -426h0m-3 24h0m-17 82h0m-3 411h0m-3 -504h0m35 -62h0m-19 139h0m5 -269h0m1 783h0m-6 -514h0m16 -130h0m-28 308h0m30 -119h0m3 -33h0m-32 127h0m33 -201h0m-3 15h0m-18 333h0m-8 -553h0m-5 370h0m31 -101h0m-5 -177h0m-6 418h0m-16 -272h0m-5 124h0m-6 -75h0m30 -178h0m-16 164h0m0 49h0m14 -31h0m-16 18h0m-11 344h0m29 -441h0m0 -14h0m-7 291h0m16 -354h0m-9 225h0m-38 -106h0m0 73h0m14 -81h0m-4 63h0m30 -113h0m-6 -239h0m16 374h0m-29 -53h0m-9 -151h0m28 191h0m-7 -118h0m-16 200h0m14 -150h0m6 107h0m1 -39h0m-16 -77h0m-12 88h0m27 -82h0m-5 -52h0m17 -39h0m-34 85h0m-10 -90h0m16 64h0m-14 -3h0m1 131h0m20 -169h0m-22 163h0m10 -164h0m34 28h0m-33 -54h0m18 47h0m-26 -167h0m23 238h0m-13 374h0m10 -487h0m-27 79h0m44 48h0m-21 -114h0m-8 543h0m18 -403h0m-16 60h0m-18 -139h0m23 0h0m0 -128h0m8 203h0m-24 432h0m26 -584h0m-26 139h0m18 219h0m-14 266h0m12 -673h0m16 534h0m-40 -421h0m24 2h0m19 -234h0m-31 544h0m4 -178h0m-11 27h0m14 308h0m21 -519h0m-37 192h0m44 -178h0m-34 -16h0m119 173h0m-4 25h0m11 -176h0m-11 262h0m19 -256h0m9 228h0m-11 87h0m-7 -367h0m-5 425h0m17 -124h0m-4 -277h0m-15 235h0m-3 -229h0m17 94h0m-9 -54h0m-3 -63h0m-8 48h0m3 143h0m6 -126h0m-6 151h0m11 -71h0m4 294h0m-6 -353h0m-3 221h0m4 -456h0m-12 367h0m24 -254h0m-8 98h0m0 298h0m9 -398h0m34 19h0m18 277h0m-22 -251h0m25 52h0m-17 95h0m-1 69h0m-7 -195h0m21 65h0m2 35h0m3 -99h0m-1 9h0m10 6h0m-41 -35h0m12 -97h0m32 120h0m-37 -102h0m24 578h0m-31 -547h0m33 233h0m-32 -230h0m12 311h0m-4 -76h0m-9 -206h0m24 -64h0m22 276h0m-25 56h0m16 -323h0m-14 573h0m17 -389h0m8 67h0m-18 -381h0m8 312h0m-20 -178h0m19 -31h0m-16 43h0m19 47h0m-31 63h0m-2 -232h0m27 383h0m-12 -224h0m11 121h0m-36 59h0m19 -111h0m13 -224h0m9 62h0m-12 67h0m-4 105h0m-3 135h0m11 -379h0m-3 42h0m18 296h0m-30 -200h0m2 249h0m-16 -223h0m11 161h0m15 -318h0m14 225h0m-3 117h0m-30 -184h0m18 406h0m-3 -377h0m24 161h0m-36 -26h0m29 -132h0m-20 472h0m-6 -590h0m1 89h0m6 141h0m9 64h0m9 -271h0m-13 219h0m10 -116h0m-11 154h0m2 257h0m-20 -220h0m5 -230h0m1 185h0m2 -180h0m29 52h0m-7 212h0m10 -290h0m-38 108h0m5 276h0m27 -522h0m-7 340h0m-28 -187h0m1 2h0m-13 -8h0m3 10h0m47 204h0m-29 -336h0m7 70h0m0 124h0m15 -16h0m-4 156h0m-18 347h0m5 -335h0m-13 -146h0m6 206h0m33 -277h0m-27 122h0m23 -121h0m3 218h0m-4 -65h0m-34 -156h0m8 -107h0m30 274h0m-24 -112h0m18 142h0m86 312h0m17 -210h0m-21 -11h0m-4 121h0m16 -26h0m29 34h0m-21 -197h0m6 93h0m1 104h0m-25 -150h0m18 -84h0m-2 -64h0m-13 327h0m8 -33h0m3 -292h0m1 330h0m-22 -45h0m10 -103h0m12 132h0m22 -28h0m-14 -260h0m-22 135h0m26 11h0m11 107h0m-21 -165h0m-11 358h0m22 -47h0m-8 -117h0m-1 -71h0m-15 -84h0m20 129h0m4 -279h0m-10 219h0m3 24h0m16 -135h0m-25 -174h0m-19 358h0m29 -31h0m-18 -308h0m15 324h0m-13 -389h0m4 224h0m6 -22h0m-11 386h0m6 -72h0m-14 -342h0m10 7h0m-5 143h0m34 39h0m-27 11h0m21 -318h0m-18 -36h0m1 319h0m-14 94h0m16 80h0m-18 -103h0m16 82h0m-13 -264h0m10 -240h0m19 543h0m-36 -111h0m26 77h0m3 -493h0m-6 505h0m-10 -250h0m3 165h0m-8 -83h0m24 143h0m12 -159h0m-14 -21h0m-17 -119h0m-12 184h0m29 136h0m14 -128h0m-19 -114h0m-12 -8h0m14 24h0m10 132h0m-13 -162h0m1 -227h0m-20 238h0m10 -78h0m7 138h0m-10 91h0m8 -94h0m27 94h0m-6 15h0m-37 -140h0m3 -224h0m28 268h0m3 -32h0m-15 -270h0m-19 348h0m146 135h0m-34 -189h0m8 49h0m26 -155h0m14 -148h0m-44 156h0m-2 -79h0m-7 -40h0m11 232h0m-6 -167h0m2 -159h0m17 165h0m31 36h0m-43 364h0m25 -319h0m-16 17h0m-14 121h0m22 76h0m-8 -571h0m34 153h0m-55 -9h0m7 160h0m45 -163h0m-15 192h0m-15 22h0m27 -7h0m-35 -168h0m-14 -163h0m31 189h0m-20 66h0m11 -42h0m28 -2h0m-30 96h0m10 -57h0m2 410h0m-9 -394h0m-11 62h0m22 -251h0m-9 362h0m-2 -226h0m-22 36h0m46 306h0m-29 -238h0m36 -85h0m-32 39h0m-3 -67h0m0 0h0m7 151h0m-20 -135h0m-5 -162h0m48 40h0m-24 104h0m-18 -47h0m37 106h0m-4 -91h0m-5 54h0m-9 -63h0m-14 46h0m24 91h0m-20 -35h0m-10 2h0m28 23h0m21 31h0m-45 -120h0m23 -91h0m-1 243h0m-20 -160h0m36 42h0m-12 -38h0m-23 -9h0m32 94h0m-38 383h0m14 -427h0m3 -38h0m8 -132h0m-7 122h0m13 1h0m-36 -40h0m44 -46h0m-27 158h0m-12 -85h0m1 53h0m7 -246h0m-6 447h0m37 -93h0m-33 0h0m-3 -358h0m30 255h0m-31 59h0m-7 40h0m10 77h0m36 -401h0m-5 151h0m3 135h0m-9 -285h0m17 89h0m-29 373h0m7 -357h0m-18 -117h0m36 267h0m-9 2h0m-9 -50h0m-10 118h0m-14 3h0m-8 -279h0m20 158h0m16 77h0m0 35h0m-2 128h0m-6 -317h0m-8 533h0m12 -432h0m1 141h0m-6 -11h0m15 -59h0m0 102h0m8 -103h0m-6 -295h0m-17 98h0m-27 192h0m49 53h0m-44 -202h0m26 -149h0m7 161h0m-20 142h0m20 23h0m-7 -184h0m-5 329h0m-10 -319h0m-3 43h0m31 150h0m-3 -223h0m-35 -119h0m23 640h0m-19 -509h0m23 206h0m11 157h0m-28 -34h0m28 -339h0m-29 -2h0m13 191h0m7 76h0m-17 -158h0m8 -84h0m-2 437h0m-15 -421h0m14 255h0m12 -51h0m-11 -143h0m17 84h0m-13 -235h0m-16 82h0m18 29h0m13 35h0m-33 -235h0m14 346h0m-10 -94h0m35 -90h0m-6 -77h0m-31 76h0m8 163h0m25 -11h0m-28 -191h0m-1 -28h0m-6 144h0m18 -77h0m15 10h0m-17 74h0m0 28h0m-14 -116h0m-3 -154h0m19 398h0m16 -167h0m-3 82h0m-20 113h0m16 -206h0m2 -100h0m-21 251h0m14 -274h0m-15 -97h0m30 357h0m-17 -302h0m-24 -11h0m26 206h0m15 -30h0m-36 -229h0m36 545h0m1 -343h0m-13 383h0m-2 -556h0m-15 332h0m20 -2h0m-34 -73h0m21 9h0m19 253h0m-21 -364h0m-7 59h0m36 51h0m-41 -41h0m31 217h0m0 -168h0m-14 363h0m-21 -537h0m3 20h0m1 100h0m20 -181h0m-13 216h0m-1 -214h0m26 584h0m-42 -466h0m46 56h0m-35 24h0m5 81h0m-6 115h0m37 -272h0m-39 141h0m0 237h0m2 -182h0m35 -247h0m-6 257h0m9 -309h0m-16 320h0m-29 -207h0m25 -119h0m-20 269h0m32 -351h0m-25 233h0m34 -74h0m-25 109h0m14 -146h0m-23 115h0m30 -119h0m-35 51h0m-4 10h0m14 208h0m19 -236h0m4 31h0m-23 299h0m26 -7h0m-38 -120h0m13 -186h0m26 21h0m-6 116h0m12 -237h0m-22 335h0m13 -124h0m-4 65h0m-31 -170h0m25 -25h0m-5 22h0m0 58h0m9 173h0m-26 -244h0m2 9h0m37 2h0m-38 -9h0m35 56h0m-20 51h0m-14 62h0m7 -28h0m-12 -135h0m22 481h0m0 -393h0m22 -49h0m-36 -65h0m-3 68h0m-5 77h0m41 79h0m-7 -195h0m-3 34h0m-24 456h0m36 -442h0m0 103h0m-53 27h0m19 -141h0m9 5h0m-20 145h0m7 209h0m-16 -487h0m51 -80h0m1 174h0m-21 61h0m-24 14h0m35 -212h0m-41 246h0m0 80h0m8 -116h0m9 41h0m-3 -127h0m-2 56h0m10 295h0m-14 -265h0m1 -49h0m15 74h0m20 -143h0m-24 445h0m2 -377h0m-10 100h0m12 7h0m21 37h0m9 78h0m-21 -134h0m-8 -26h0m-3 136h0m13 -51h0m4 -105h0m-30 -38h0m1 -29h0m18 -2h0m18 45h0m-1 -71h0m-38 -88h0m35 294h0m-41 -17h0m15 9h0m35 -76h0m-14 -23h0m-16 217h0m32 -96h0m-31 -199h0m24 336h0m-4 -110h0m-12 -227h0m-10 -35h0m-10 47h0m11 7h0m15 415h0m-16 -263h0m5 -62h0m20 -22h0m-25 -11h0m130 -228h0m-4 256h0m-19 -42h0m36 2h0m-15 69h0m-5 65h0m3 -276h0m-10 -69h0m-3 -3h0m-3 238h0m-5 -113h0m1 183h0m5 93h0m8 231h0m18 -458h0m-24 125h0m6 -92h0m7 -166h0m6 166h0m-10 -218h0m-12 389h0m26 -330h0m1 76h0m5 85h0m-22 -75h0m2 183h0m-21 -116h0m34 150h0m0 -128h0m2 -213h0m7 169h0m-15 -44h0m4 -94h0m-19 147h0m17 89h0m1 -121h0m-1 367h0m-22 -212h0m-1 -119h0m13 -43h0m3 -136h0m6 396h0m-4 -31h0m13 -276h0m-11 463h0m2 -327h0m-9 -120h0m18 102h0m-24 253h0m10 -367h0m-19 65h0m18 -65h0m8 139h0m-15 -197h0m6 415h0m12 -262h0m-3 -28h0m-28 125h0m12 -25h0m-6 -7h0m6 249h0m4 -160h0m-4 -75h0m8 285h0m23 -381h0m-14 -98h0m31 202h0m0 -246h0m13 608h0m-5 -521h0m18 13h0m-35 101h0m37 95h0m-36 -213h0m2 44h0m19 2h0m3 148h0m-23 -50h0m40 -142h0m-21 193h0m5 -192h0m-10 -28h0m15 38h0m-2 177h0m-21 -28h0m13 -160h0m6 49h0m-18 164h0m39 -249h0m-34 134h0m9 -131h0m20 237h0m-44 -86h0m20 -99h0m19 502h0m-9 -375h0m18 -57h0m-6 -109h0m-30 326h0m36 -291h0m-28 170h0m8 175h0m26 -240h0m-9 163h0m-40 -161h0m28 5h0m-19 145h0m7 -66h0m23 -79h0m0 -93h0m-30 248h0m35 -308h0m-37 179h0m20 209h0m-6 -206h0m11 18h0m-4 -185h0m-12 -83h0m3 83h0m-4 147h0m25 13h0m-27 72h0m20 -151h0m7 66h0m-4 -309h0m-1 321h0m3 -280h0m-29 57h0m16 147h0m-22 45h0m36 -121h0m-32 -92h0m14 573h0m-4 -475h0m19 129h0m-1 141h0m-21 -295h0m16 -41h0m17 212h0m-1 -66h0m-40 77h0m20 -58h0m10 97h0m-12 -33h0m-1 147h0m-10 -126h0m6 -159h0m10 234h0m-3 -10h0m-10 -392h0m11 188h0m12 -45h0m-12 91h0m2 176h0m-25 78h0m-10 -227h0m16 -35h0m18 301h0m6 -48h0m-3 -436h0m1 167h0m-17 155h0m15 -24h0m-8 -20h0m3 20h0m-8 -131h0m21 116h0m-27 306h0m32 -414h0m-29 97h0m-5 31h0m-7 -66h0m12 -248h0m23 174h0m-2 24h0m-15 -66h0m7 -59h0m-5 468h0m-14 88h0m-7 -519h0m-6 116h0m43 -207h0m1 -20h0m-39 155h0m31 255h0m-15 -166h0m22 148h0m-1 146h0m-13 -84h0m10 -148h0m-35 -196h0m-2 181h0m29 -107h0m-19 -110h0m39 24h0m-37 -158h0m36 340h0m-26 185h0m-1 -156h0m28 -234h0m-3 36h0m-7 284h0m-36 -178h0m44 -31h0m-50 6h0m53 -117h0m-42 505h0m-7 -372h0m9 34h0m2 60h0m20 -191h0m-30 -15h0m11 123h0m3 415h0m15 -24h0m-31 -415h0m38 425h0m-22 -310h0m2 -377h0m-13 277h0m16 84h0m7 -323h0m19 324h0m-1 -31h0m-30 -88h0m0 330h0m14 -463h0m-19 67h0m17 4h0m-18 -166h0m2 590h0m30 -399h0m-21 -59h0m7 256h0m16 -88h0m-7 -21h0m7 -113h0m-16 186h0m-16 -137h0m-10 86h0m17 72h0m-20 -40h0m49 0h0m-29 118h0m25 -39h0m-19 -47h0m17 -47h0m5 -160h0m4 88h0m-39 -151h0m-15 102h0m25 -134h0m18 222h0m-10 422h0m-3 -427h0m-11 -162h0m-5 -96h0m26 351h0m-16 -135h0m-9 252h0m22 -149h0m-5 -51h0m0 85h0m-14 -185h0m-9 -26h0m24 86h0m-31 -92h0m31 79h0m-20 -89h0m23 210h0m-17 -39h0m13 379h0m-26 -410h0m0 93h0m11 84h0m28 -426h0m-38 130h0m2 63h0m35 43h0m-15 -69h0m15 -53h0m-10 226h0m8 -127h0m-21 99h0m31 30h0m0 -17h0m-13 -71h0m-29 45h0m-7 -23h0m12 -203h0m16 146h0m16 -42h0m-46 174h0m43 -75h0m10 -25h0m2 48h0m-20 -99h0m-21 -13h0m-9 126h0m41 193h0m-32 -133h0m7 305h0m9 -684h0m2 139h0m-5 -108h0m19 270h0m-14 -171h0m4 472h0m-30 -321h0m49 -75h0m-2 144h0m-10 -20h0m-24 -59h0m-5 56h0m31 316h0m6 -537h0m-30 127h0m24 -30h0m-30 381h0m-13 -461h0m4 203h0m16 -145h0m-5 -39h0m10 145h0m-4 -29h0m-2 -127h0m3 410h0m27 -238h0m-21 -82h0m-18 118h0m8 -223h0m24 171h0m-23 -155h0m29 -21h0m-19 164h0m-27 -251h0m1 59h0m-5 127h0m13 86h0m21 48h0m11 -187h0m-19 16h0m59 492h0m8 52h0m-25 -118h0m31 83h0m-18 -95h0m27 125h0m0 32h0m-15 -158h0m-12 98h0m13 -41h0m-26 114h0m36 -71h0m-4 13h0m-24 -81h0m-11 116h0m8 -251h0m-3 231h0m22 -47h0m10 11h0m0 82h0m-13 -214h0m-19 190h0m32 26h0m-35 -51h0m5 15h0m20 -11h0m9 -126h0m-9 67h0m2 -189h0m-9 253h0m-12 -114h0m14 6h0m-6 91h0m15 -106h0m-11 16h0m-8 8h0m23 59h0m-36 9h0m17 -46h0m3 -58h0m-5 127h0m-2 -56h0m-8 43h0m29 39h0m-30 -120h0m4 151h0m8 -200h0m-11 189h0m34 -151h0m-8 81h0m-23 34h0m148 -181h0m-11 99h0m15 -84h0m-25 113h0m2 -112h0m2 52h0m26 -22h0m-37 18h0m34 -29h0m1 45h0m-26 25h0m9 -122h0m-8 77h0m21 32h0m-3 25h0m-34 -123h0m8 59h0m-8 102h0m22 39h0m-7 -86h0m-4 -32h0m9 -456h0m10 223h0m-31 168h0m-8 12h0m10 -63h0m3 126h0m-11 -71h0m48 104h0m-9 -1h0m-32 -5h0m37 -85h0m-1 169h0m-31 -97h0m3 -73h0m-8 -48h0m21 43h0m-12 -46h0m1 178h0m-13 -49h0m3 -180h0m16 64h0m16 -363h0m-36 495h0m-6 -83h0m37 31h0m1 123h0m-12 -390h0m-6 197h0m-22 101h0m42 35h0m-19 -134h0m6 105h0m-2 -14h0m-4 -552h0m24 380h0m3 100h0m-7 -79h0m-34 -240h0m34 -13h0m-2 327h0m-20 176h0m4 -222h0m-9 77h0m28 -97h0m-7 173h0m7 10h0m-43 -42h0m12 1h0m19 5h0m6 2h0m7 77h0m-4 -120h0m0 -30h0m-36 -39h0m20 97h0m-19 -9h0m12 -38h0m13 148h0m-3 -130h0m-6 113h0m8 -394h0m0 347h0m-19 -78h0m20 35h0m0 0h0m23 -1h0m-14 113h0m-30 18h0m36 -90h0m-6 5h0m11 -32h0m-44 -60h0m35 -483h0m-12 454h0m13 -12h0m-23 31h0m-2 203h0m-6 -80h0m26 -73h0m-26 63h0m5 -509h0m24 486h0m9 29h0m-50 -39h0m6 -96h0m8 67h0m30 149h0m-41 -73h0m1 -262h0m47 236h0m-23 -145h0m12 28h0m-36 109h0m49 59h0m-4 -195h0m-32 40h0m26 74h0m-14 23h0m14 -451h0m-7 406h0m-15 28h0m-5 -107h0m-16 99h0m1 -105h0m14 67h0m5 -219h0m18 295h0m-19 -35h0m17 89h0m2 -197h0m-9 138h0m1 19h0m6 -44h0m-31 -41h0m32 34h0m3 108h0m1 -537h0m-22 341h0m3 60h0m7 -39h0m-25 11h0m32 -54h0m-26 83h0m25 -84h0m2 75h0m-5 75h0m13 -94h0m-35 73h0m5 -119h0m-6 218h0m31 -104h0m9 16h0m-26 -59h0m11 -22h0m8 -7h0m-12 14h0m-30 51h0m38 -44h0m-27 -27h0m24 -290h0m3 299h0m9 180h0m6 -110h0m-22 -31h0m-21 89h0m18 -102h0m20 -379h0m-26 193h0m-10 77h0m-8 152h0m48 15h0m-1 2h0m-46 53h0m33 -260h0m-38 307h0m27 -170h0m-11 -474h0m3 459h0m7 68h0m-6 -40h0m-8 -5h0m28 85h0m-1 -64h0m1 -403h0m-32 421h0m10 -262h0m31 377h0m-34 -77h0m4 47h0m-4 -186h0m14 6h0m-11 -112h0m25 115h0m-4 -23h0m-2 -115h0m-22 146h0m9 -126h0m-20 168h0m18 -60h0m8 215h0m8 -370h0m-27 224h0m23 -17h0m6 -521h0m-13 560h0m15 -438h0m-21 384h0m-2 82h0m34 -231h0m-12 -98h0m2 273h0m-24 -375h0m32 436h0m-35 -114h0m-1 -465h0m-15 462h0m33 -59h0m-31 170h0m25 38h0m1 -256h0m-18 210h0m37 -245h0m-9 201h0m6 -100h0m-13 -250h0m-3 379h0m2 -9h0m-30 -92h0m50 -15h0m-12 4h0m10 10h0m-35 107h0m33 81h0m-19 -183h0m-25 -4h0m13 42h0m-11 69h0m18 -48h0m-10 63h0m18 -97h0m10 104h0m-30 -76h0m33 81h0m-36 -47h0m25 22h0m8 -459h0m-9 81h0m1 278h0m-4 -365h0m-26 381h0m0 58h0m32 53h0m2 -114h0m-18 -375h0m12 80h0m-6 -110h0m11 458h0m-1 -61h0m-10 -102h0m-7 134h0m9 -166h0m25 197h0m-46 -94h0m23 85h0m18 53h0m-14 -103h0m-30 -59h0m43 -44h0m-30 231h0m31 -250h0m-12 -145h0m-18 379h0m1 -69h0m8 -157h0m10 68h0m-33 -1h0m48 141h0m-11 -93h0m10 43h0m-10 -49h0m-13 26h0m7 76h0m3 13h0m-15 -81h0m30 59h0m-16 -4h0m-31 -47h0m-3 18h0m51 16h0m-45 5h0m4 106h0m0 -341h0m8 251h0m-16 -112h0m20 93h0m-22 8h0m17 -83h0m21 -302h0m-5 338h0m-10 -29h0m29 49h0m-44 -51h0m-7 69h0m51 -90h0m-6 -62h0m-7 186h0m11 -71h0m-42 111h0m-4 -58h0m18 -66h0m-17 -90h0m27 180h0m-32 -110h0m15 36h0m31 88h0m-22 -152h0m26 23h0m-41 110h0m22 -291h0m22 292h0m-19 -133h0m-9 108h0m29 -198h0m-19 214h0m-9 -19h0m-10 -60h0m15 69h0m-7 -77h0m23 68h0m-19 -36h0m22 78h0m-11 -54h0m-22 16h0m22 -118h0m4 102h0m119 -30h0m-15 -38h0m12 157h0m1 -88h0m-41 53h0m40 -150h0m-25 -369h0m10 434h0m-17 -61h0m8 120h0m-3 58h0m37 -37h0m-1 40h0m-46 -24h0m42 -113h0m2 63h0m-13 -19h0m-2 -222h0m14 216h0m-42 -36h0m43 141h0m-17 -435h0m-19 444h0m-12 -26h0m1 -132h0m43 36h0m-38 55h0m-5 -113h0m27 135h0m14 -128h0m-29 -4h0m11 97h0m-11 -16h0m20 128h0m-6 -153h0m3 90h0m-15 -72h0m10 -68h0m2 -263h0m-21 266h0m-2 161h0m19 -145h0m-19 66h0m19 -543h0m0 533h0m15 15h0m-30 -24h0m10 -57h0m18 12h0m5 100h0m-44 -119h0m44 91h0m-13 -479h0m-29 540h0m34 -240h0m13 201h0m-9 -21h0m-32 34h0m25 79h0m-16 -547h0m33 433h0m-5 -135h0m-32 257h0m28 -386h0m-14 242h0m-4 -119h0m-4 164h0m-10 -38h0m23 12h0m-3 20h0m-11 23h0m14 -185h0m-19 104h0m37 122h0m-10 -60h0m-13 -419h0m-13 148h0m4 -7h0m-6 267h0m10 -75h0m7 102h0m-15 -100h0m23 100h0m-25 -67h0m19 36h0m17 -30h0m-16 -18h0m-8 52h0m-18 3h0m36 -57h0m-37 -14h0m46 -30h0m-42 29h0m30 70h0m4 -73h0m-11 -215h0m-13 191h0m2 35h0m17 -3h0m0 9h0m3 53h0m14 30h0m-34 -452h0m14 -36h0m-19 473h0m-8 -52h0m20 113h0m-12 -222h0m20 171h0m15 -108h0m-49 25h0m18 -37h0m29 67h0m-4 22h0m8 -1h0m-16 -136h0m-15 240h0m-3 -81h0m-1 -101h0m6 88h0m16 -238h0m-34 264h0m9 -217h0m24 198h0m-7 -60h0m-27 -54h0m20 -364h0m-17 500h0m9 -54h0m-5 -41h0m34 123h0m-21 -113h0m4 -265h0m-27 274h0m43 80h0m-14 -327h0m-28 278h0m42 81h0m-24 -48h0m-8 19h0m29 -70h0m13 2h0m-22 -47h0m-12 110h0m27 2h0m4 -43h0m-17 -169h0m-29 223h0m37 -96h0m-6 11h0m-27 -26h0m-7 -16h0m34 -286h0m-24 393h0m39 11h0m-13 -487h0m5 418h0m-37 82h0m28 -161h0m-7 152h0m-13 1h0m33 -14h0m-26 -1h0m9 81h0m7 -232h0m-17 171h0m-15 -29h0m15 30h0m6 -401h0m18 291h0m5 -40h0m-45 101h0m41 -62h0m-14 29h0m-18 62h0m14 43h0m27 -6h0m-1 -31h0m-46 -73h0m-4 69h0m23 -94h0m-15 -205h0m32 257h0m-16 -299h0m2 320h0m24 -90h0m-27 116h0m-27 9h0m39 -308h0m-25 282h0m121 -477h0m9 257h0m1 -440h0m8 273h0m-25 -179h0m35 167h0m-24 -129h0m-7 -11h0m20 -89h0m6 231h0m-22 -66h0m10 -24h0m-20 -20h0m1 11h0m6 134h0m4 -194h0m12 134h0m0 190h0m-24 10h0m28 -178h0m11 -123h0m-30 132h0m30 -13h0m-17 -255h0m21 283h0m-44 -74h0m44 -31h0m-26 -189h0m-21 317h0m6 -19h0m4 186h0m28 -238h0m-24 229h0m-12 -315h0m7 296h0m24 -193h0m-26 -7h0m17 191h0m-1 -152h0m-27 -78h0m50 -84h0m-19 176h0m-10 -332h0m-1 192h0m-5 288h0m-5 -391h0m42 147h0m2 104h0m-27 -52h0m-18 -115h0m-1 -12h0m34 174h0m-6 -392h0m-5 489h0m-19 -158h0m21 -271h0m-34 223h0m44 25h0m-29 174h0m0 -259h0m8 130h0m7 125h0m3 -177h0m2 -64h0m4 40h0m-22 -51h0m-5 163h0m24 -69h0m-7 -279h0m-12 140h0m-6 -37h0m-2 208h0m18 67h0m20 100h0m-22 -128h0m12 -58h0m-31 -93h0m6 -111h0m6 110h0m13 -71h0m6 205h0m-7 138h0m-13 -169h0m12 -329h0m14 60h0m-39 303h0m12 -135h0m18 -12h0m6 67h0m-9 -105h0m-9 244h0m-15 -229h0m12 -200h0m-4 195h0m-5 63h0m41 -2h0m-35 193h0m-5 -183h0m-3 118h0m-7 -111h0m35 -119h0m16 246h0m-10 -254h0m3 201h0m7 -7h0m-29 99h0m0 -171h0m7 -145h0m-12 232h0m18 -64h0m26 251h0m45 90h0m-21 132h0m4 -193h0m0 121h0m21 -161h0m-28 193h0m-23 -174h0m37 162h0m12 -309h0m-47 196h0m11 21h0m13 -103h0m-13 86h0m14 226h0m22 -257h0m-41 13h0m-4 -5h0m20 17h0m-15 -6h0m33 -56h0m3 -23h0m0 169h0m-45 -26h0m26 -97h0m7 228h0m-18 -217h0m3 -66h0m28 148h0m0 -139h0m-1 56h0m-46 25h0m17 13h0m-15 -29h0m33 39h0m-18 -93h0m1 314h0m12 -211h0m14 -92h0m-3 -62h0m-25 -149h0m6 489h0m-9 -290h0m1 -118h0m35 -53h0m-27 240h0m27 101h0m-13 -37h0m-25 -195h0m28 -235h0m-31 181h0m37 187h0m-25 33h0m3 -141h0m14 135h0m-26 -23h0m16 -160h0m27 113h0m-38 233h0m-14 -67h0m9 -144h0m21 67h0m8 -83h0m-17 29h0m-4 9h0m28 -69h0m-5 210h0m-14 -133h0m13 85h0m-30 -541h0m32 265h0m-21 243h0m10 -98h0m15 40h0m-5 -67h0m-41 94h0m34 7h0m-29 -274h0m19 229h0m24 -75h0m-31 293h0m8 -233h0m13 233h0m11 -295h0m-45 81h0m10 138h0m35 -188h0m-31 -347h0m12 492h0m0 -119h0m-6 -24h0m27 199h0m-40 102h0m23 -160h0m-34 -106h0m17 2h0m11 -291h0m-4 273h0m-24 226h0m27 -533h0m6 351h0m-2 35h0m8 -115h0m-38 53h0m0 68h0m1 66h0m36 -297h0m13 176h0m-39 -249h0m22 88h0m-29 69h0m10 129h0m6 197h0m6 -172h0m-10 -95h0m-4 37h0m-11 -38h0m48 -187h0m-15 248h0m-3 133h0m14 -377h0m-29 -147h0m-14 133h0m-3 202h0m10 148h0m29 -389h0m-27 -64h0m7 354h0m-9 46h0m14 109h0m9 -167h0m8 42h0m-7 -26h0m-27 -118h0m42 100h0m-35 65h0m-13 -112h0m25 79h0m-27 10h0m29 -261h0m-10 -249h0m36 447h0m-36 18h0m4 -161h0m14 138h0m-26 54h0m14 -3h0m-7 -249h0m14 55h0m2 -115h0m7 14h0m9 471h0m-36 -269h0m-6 23h0m-6 65h0m40 23h0m-14 -122h0m-18 -9h0m40 110h0m-34 13h0m12 -120h0m1 303h0m18 -198h0m-21 -116h0m13 -300h0m-18 396h0m5 125h0m0 -153h0m-21 32h0m-1 -31h0m48 -25h0m-26 95h0m18 -58h0m-21 -239h0m-2 177h0m-3 31h0m4 -20h0m-5 42h0m31 25h0m-25 -27h0m17 -67h0m-9 63h0m-28 79h0m29 -69h0m10 -21h0m-31 -17h0m43 -26h0m-31 214h0m26 -105h0m-3 12h0m-9 -71h0m-22 -182h0m-8 7h0m7 -155h0m23 63h0m-35 259h0m50 92h0m-52 57h0m21 -179h0m-3 -299h0m-19 324h0m16 -65h0m4 -356h0m16 569h0m-29 71h0m5 -277h0m32 35h0m-39 0h0m23 44h0m-2 -7h0m-8 84h0m35 92h0m-34 13h0m11 -252h0m-23 -70h0m5 151h0m-11 124h0m40 -143h0m-8 78h0m1 -338h0m7 255h0m-6 -295h0m8 380h0m-8 -118h0m-33 -2h0m41 52h0m-22 -62h0m23 53h0m-42 80h0m43 -23h0m-1 -14h0m-23 -30h0m-13 167h0m-7 -158h0m32 90h0m-32 -99h0m49 107h0m-35 -46h0m26 -394h0m-35 325h0m4 -89h0m-3 30h0m29 165h0m-19 -52h0m33 -67h0m-49 6h0m53 227h0m-18 -374h0m-14 96h0m-3 326h0m-1 -263h0m23 131h0m-41 -170h0m50 136h0m2 -128h0m-33 -402h0m-15 363h0m27 7h0m-15 109h0m7 -2h0m7 -57h0m-23 174h0m13 -241h0m-5 20h0m16 212h0m-21 -168h0m15 95h0m15 -85h0m-8 5h0m-26 -57h0m-3 41h0m0 35h0m39 -180h0m12 231h0m-15 -78h0m-39 179h0m17 -14h0m34 -160h0m-44 44h0m15 -333h0m12 255h0m13 121h0m-25 -113h0m-17 246h0m38 -151h0m12 -124h0m-11 -6h0m-3 155h0m5 -426h0m-18 155h0m9 245h0m-16 -37h0m-17 -215h0m21 -98h0m-23 297h0m23 -55h0m-13 96h0m29 -50h0m-28 -284h0m31 213h0m-28 59h0m31 50h0m-2 -101h0m-7 116h0m16 -49h0m-1 12h0m-47 -18h0m47 -59h0m-21 54h0m-6 -206h0m0 107h0m-2 154h0m19 -493h0m-21 456h0m19 124h0m-8 -102h0m-17 -87h0m6 26h0m-7 -178h0m13 -34h0m-27 178h0m43 113h0m-5 -343h0m-6 501h0m18 -242h0m47 -15h0m-36 -48h0m45 307h0m-38 -137h0m-9 -227h0m49 314h0m-44 -193h0m28 -228h0m-33 95h0m7 298h0m8 -288h0m0 362h0m1 -183h0m29 -54h0m-12 153h0m12 118h0m-6 -174h0m-8 -100h0m-5 -3h0m20 30h0m-10 -242h0m-24 398h0m0 -336h0m-6 -97h0m16 -11h0m14 29h0m-31 323h0m23 37h0m21 -258h0m-21 69h0m23 231h0m-24 -52h0m-18 -273h0m18 77h0m20 193h0m-7 -290h0m12 130h0m-54 174h0m41 -158h0m-12 -281h0m-9 350h0m29 115h0m-47 -98h0m26 94h0m0 -96h0m26 -90h0m-20 -352h0m2 346h0m5 212h0m-22 -233h0m19 -190h0m-36 389h0m14 49h0m6 -193h0m-14 175h0m43 -179h0m-50 -34h0m7 10h0m19 -306h0m-6 310h0m2 -10h0m17 155h0m10 32h0m-17 130h0m-18 -269h0m31 192h0m-17 -86h0m14 162h0m-8 -125h0m1 0h0m-32 -108h0m39 66h0m3 -157h0m-6 47h0m-20 -209h0m12 367h0m-26 55h0m46 -64h0m-39 -70h0m1 -7h0m29 -474h0m-28 378h0m36 175h0m-7 124h0m-43 -373h0m24 210h0m-3 -110h0m18 -165h0m-26 318h0m0 -459h0m12 -89h0m21 454h0m-15 -91h0m-27 8h0m25 -102h0m-19 -285h0m8 669h0m34 -308h0m-35 -204h0m8 363h0m1 -235h0m-27 -17h0m25 157h0m20 -109h0m-44 -26h0m18 43h0m36 -78h0m-24 385h0m21 -268h0m-39 126h0m42 -93h0m-54 -159h0m27 171h0m-23 -128h0m42 112h0m5 -11h0m-24 228h0m-24 -161h0m45 -189h0m-12 231h0m-14 71h0m7 -248h0m14 -32h0m-21 -300h0m17 247h0m15 393h0m-2 -288h0m-24 170h0m4 47h0m10 -92h0m-31 -138h0m-12 38h0m54 104h0m-52 22h0m47 -12h0m-26 -326h0m10 138h0m4 359h0m6 -75h0m12 -65h0m-32 -11h0m-4 -40h0m-12 213h0m31 -145h0m1 -475h0m0 105h0m13 214h0m-17 -65h0m-24 325h0m4 -267h0m0 22h0m16 -73h0m-16 -56h0m5 151h0m27 108h0m-2 53h0m-15 -38h0m-4 -138h0m-26 -34h0m21 147h0m28 -71h0m-29 -118h0m20 -347h0m-31 658h0m39 -346h0m-32 8h0m4 217h0m32 114h0m-41 -365h0m31 303h0m6 -227h0m-20 168h0m13 -331h0m-15 504h0m27 -309h0m-52 172h0m54 -237h0m-35 100h0m8 41h0m4 -100h0m15 6h0m-38 175h0m31 -517h0m-8 452h0m4 -102h0m5 245h0m-15 -391h0m-13 247h0m23 -187h0m-27 111h0m41 -125h0m-9 -128h0m-33 519h0m15 -437h0m31 399h0m0 -163h0m-23 -198h0m-23 316h0m19 -279h0m-20 278h0m17 -107h0m-12 -290h0m23 224h0m-4 -167h0m22 277h0m-41 78h0m37 -291h0m-45 383h0m26 -381h0m5 367h0m2 16h0m10 -510h0m8 449h0m-41 -250h0m28 -100h0m-34 -16h0m43 187h0m-28 -70h0m-12 99h0m-4 151h0m29 -241h0m18 -12h0m-41 71h0m7 129h0m-18 -55h0m39 -197h0m2 -28h0m3 161h0m-21 40h0m-18 -123h0m26 21h0m-29 241h0m32 -96h0m13 -162h0m2 151h0m-8 -99h0m-28 113h0m17 11h0m7 -88h0m-37 -111h0m26 274h0m92 -306h0m35 93h0m-5 -203h0m-23 8h0m36 -175h0m-15 167h0m8 47h0m-11 -342h0m-16 318h0m37 131h0m-4 -209h0m-15 92h0m-28 48h0m26 -10h0m7 31h0m8 -168h0m-31 -112h0m-4 189h0m3 420h0m36 -494h0m-29 473h0m2 -502h0m-13 191h0m20 -115h0m28 -25h0m-43 -111h0m22 -155h0m15 355h0m-35 147h0m-1 -144h0m28 85h0m-2 30h0m-4 216h0m17 -349h0m-36 283h0m34 -189h0m-44 -181h0m8 63h0m8 143h0m-1 -257h0m-22 235h0m16 -57h0m12 -131h0m10 214h0m-38 -92h0m28 175h0m-24 -39h0m14 -250h0m16 469h0m-4 -71h0m11 78h0m-17 -304h0m-21 29h0m12 -164h0m-10 134h0m21 -314h0m27 250h0m-47 133h0m41 90h0m-25 -293h0m23 73h0m-32 36h0m35 206h0m2 -240h0m-43 24h0m12 111h0m11 -204h0m-24 160h0m10 -107h0m37 10h0m-14 -68h0m-13 108h0m21 -7h0m-26 354h0m-19 -308h0m2 -150h0m11 0h0m7 -71h0m-16 227h0m19 -136h0m-9 -209h0m10 240h0m4 117h0m-13 -132h0m5 304h0m4 65h0m24 -237h0m-28 -17h0m-7 -153h0m13 116h0m-11 147h0m32 -196h0m1 84h0m-26 -221h0m10 62h0m-19 172h0m24 -126h0m-32 -122h0m48 255h0m-42 3h0m29 200h0m-6 -506h0m-32 221h0m6 365h0m29 -564h0m-23 381h0m38 -277h0m-32 118h0m23 -270h0m-31 123h0m33 33h0m-3 -120h0m-43 177h0m8 -99h0m5 186h0m22 -69h0m-21 47h0m-11 -81h0m27 -12h0m-4 59h0m5 79h0m6 23h0m10 117h0m-14 -522h0m14 318h0m-10 -110h0m-29 53h0m15 -166h0m-24 136h0m10 117h0m-8 -92h0m37 -57h0m15 143h0m-33 -96h0m4 368h0m22 -252h0m-27 -63h0m-6 91h0m17 10h0m-17 -122h0m-8 266h0m26 -445h0m-2 477h0m-21 -211h0m33 93h0m-30 -167h0m3 269h0m28 -289h0m-3 -22h0m-10 184h0m18 -147h0m-4 346h0m-18 -394h0m-12 331h0m-6 -212h0m19 -44h0m12 -113h0m11 63h0m-42 -52h0m31 162h0m-39 -215h0m12 227h0m30 -21h0m-18 140h0m25 -264h0m-7 9h0m-18 97h0m19 -39h0m-25 268h0m21 -212h0m-23 -206h0m-15 184h0m34 -48h0m7 -1h0m-25 62h0m24 -111h0m-9 118h0m13 -71h0m-14 133h0m-24 -67h0m26 -11h0m6 -93h0m14 64h0m-13 68h0m-11 -404h0m-8 290h0m23 176h0m4 128h0m-2 68h0m-41 -374h0m30 38h0m-12 -36h0m-9 89h0m9 -252h0m25 294h0m-31 -70h0m5 -138h0m8 300h0m16 -101h0m-40 -68h0m21 -141h0m7 205h0m-8 -137h0m-16 76h0m43 -70h0m-30 48h0m11 24h0m-19 47h0m36 -58h0m-23 194h0m21 -242h0m-26 -324h0m-22 596h0m20 -268h0m-13 22h0m7 -7h0m6 -43h0m17 297h0m8 -148h0m-24 -222h0m30 46h0m-21 -9h0m-22 164h0m10 -158h0m-9 -283h0m-10 303h0m20 -227h0m20 521h0m-23 -521h0m-8 320h0m15 6h0m28 -96h0m-24 -309h0m5 335h0m-13 -84h0m-10 58h0m4 273h0m9 -272h0m15 148h0m16 -35h0m-6 75h0m-12 -190h0m14 169h0m-44 -67h0m45 -144h0m-48 93h0m48 -7h0m-8 84h0m7 -105h0m-27 122h0m6 24h0m-26 -187h0m12 128h0m6 47h0m12 -23h0m-20 -72h0m-6 53h0m7 -134h0m0 91h0m11 376h0m4 3h0m12 -325h0m-13 -159h0m13 152h0m-19 -353h0m7 230h0m-2 -80h0m13 75h0m-14 203h0m26 -86h0m-22 -403h0m-6 383h0m-21 61h0m17 7h0m18 -7h0m-23 -120h0m33 117h0m-43 -199h0m25 318h0m-29 -282h0m6 62h0m15 -245h0m-15 351h0m48 -50h0m-48 -251h0m16 231h0m20 -106h0m-4 148h0m13 4h0m-33 26h0m17 -369h0m-14 140h0m11 376h0m20 -291h0m-13 146h0m12 -122h0m-20 71h0m-6 -14h0m7 50h0m17 -221h0m-38 94h0m26 34h0m-24 196h0m8 96h0m18 -371h0m-8 -197h0m-13 558h0m-15 -262h0m2 -135h0m32 53h0m6 63h0m-34 -66h0m34 -42h0m-20 208h0m-3 -103h0m-6 125h0m12 -321h0m-2 124h0m-15 64h0m22 -7h0m11 -48h0m2 -78h0m-35 221h0m42 -95h0m-25 -30h0m7 -216h0m-8 186h0m7 -260h0m-8 504h0m21 -336h0m-12 291h0m20 -132h0m-6 -65h0m-29 -228h0m-12 247h0m7 402h0m26 -550h0m103 52h0m-20 24h0m43 87h0m-12 -307h0m-26 322h0m24 -297h0m15 378h0m-15 -273h0m11 307h0m-10 -83h0m-18 -161h0m-16 274h0m29 -146h0m1 -109h0m-31 126h0m6 110h0m16 -262h0m13 145h0m-27 199h0m3 -146h0m15 -107h0m-16 -5h0m25 -115h0m-5 63h0m-18 391h0m17 -220h0m-1 244h0m18 -282h0m2 35h0m-48 -56h0m35 -88h0m8 -113h0m-1 173h0m-44 36h0m30 89h0m19 191h0m0 -413h0m-8 65h0m-27 -63h0m1 454h0m14 -361h0m10 93h0m1 4h0m10 -275h0m4 245h0m-50 52h0m46 -6h0m-23 -19h0m-23 -22h0m9 -157h0m-11 39h0m5 -17h0m-5 34h0m20 350h0m5 -322h0m-6 -77h0m23 97h0m-21 -33h0m22 -72h0m-34 63h0m39 254h0m-6 -282h0m-22 120h0m-18 5h0m43 18h0m-2 4h0m-8 -57h0m12 135h0m-43 -97h0m-4 99h0m21 -466h0m17 17h0m1 189h0m-26 -21h0m19 187h0m19 -195h0m-53 202h0m10 22h0m-5 -81h0m2 -44h0m30 117h0m-26 -143h0m13 -154h0m-20 172h0m10 -91h0m28 434h0m11 -356h0m-8 338h0m-11 -505h0m18 250h0m-41 -138h0m41 109h0m-40 -238h0m-4 523h0m7 -399h0m5 -125h0m31 276h0m-8 -35h0m-12 96h0m-30 -232h0m6 187h0m28 -203h0m-21 231h0m27 127h0m0 -81h0m3 -188h0m-6 -7h0m-6 -245h0m20 356h0m-23 224h0m16 -368h0m-21 105h0m6 -42h0m21 35h0m-38 -98h0m8 138h0m32 -82h0m-48 15h0m-1 77h0m36 -174h0m-40 119h0m47 172h0m3 -88h0m-26 -186h0m-12 -86h0m44 165h0m-19 77h0m5 -106h0m-39 -75h0m30 -186h0m-23 591h0m1 -37h0m20 -199h0m9 268h0m-36 -322h0m50 -180h0m-21 278h0m-16 -48h0m12 -94h0m-25 -118h0m25 118h0m-19 -63h0m31 205h0m-6 61h0m-14 -317h0m-16 164h0m6 73h0m10 27h0m4 -326h0m11 539h0m17 -367h0m-44 322h0m-6 -460h0m31 264h0m-17 -102h0m37 84h0m-14 -172h0m-7 204h0m-9 -317h0m-16 464h0m17 -379h0m17 10h0m-39 -4h0m42 137h0m-26 255h0m-1 -365h0m17 208h0m5 -210h0m-29 420h0m7 -138h0m-11 -351h0m32 41h0m13 37h0m-30 41h0m-2 120h0m33 -21h0m0 63h0m-51 -296h0m49 -13h0m-41 57h0m23 146h0m13 -30h0m-4 172h0m-9 -202h0m-4 -200h0m-6 160h0m-7 163h0m-15 -59h0m44 -63h0m-5 160h0m-24 -92h0m-6 -1h0m27 -67h0m-13 32h0m-21 -135h0m24 136h0m-6 70h0m-16 -162h0m46 8h0m-7 81h0m8 114h0m-33 42h0m-17 -45h0m49 152h0m-32 -270h0m18 198h0m12 -99h0m-47 -36h0m7 -19h0m-4 22h0m35 79h0m-11 -254h0m-2 55h0m14 140h0m-36 -73h0m32 -114h0m-36 85h0m38 215h0m-17 196h0m0 -591h0m8 355h0m25 -146h0m-16 -18h0m-31 -32h0m6 164h0m19 63h0m-16 -61h0m12 -19h0m0 52h0m0 -190h0m1 -51h0m9 106h0m8 118h0m-19 -220h0m0 218h0m21 -34h0m-4 -185h0m1 108h0m9 118h0m-7 132h0m-15 -401h0m-6 -92h0m-16 121h0m-1 389h0m26 -298h0m-18 30h0m0 -100h0m34 34h0m-23 184h0m18 -133h0m-24 72h0m-1 14h0m29 -55h0m-38 -144h0m32 112h0m-18 161h0m-19 -257h0m15 323h0m-9 -49h0m-11 -77h0m-1 -253h0m24 425h0m28 -352h0m-11 -7h0m-32 385h0m39 -200h0m-16 -158h0m-29 317h0m10 52h0m6 -536h0m30 306h0m-16 -38h0m-17 164h0m-3 -327h0m14 243h0m-18 -211h0m-3 82h0m-4 118h0m15 -230h0m21 36h0m-24 182h0m13 -185h0m-1 -1h0m-16 166h0m16 -145h0m3 385h0m5 -192h0m-3 -138h0m-6 45h0m-14 -175h0m1 248h0m27 -103h0m-40 -40h0m15 269h0m-2 -183h0m12 235h0m6 -372h0m-7 237h0m26 103h0m-21 -234h0m17 -72h0m-39 133h0m25 8h0m10 -5h0m-24 -40h0m29 -103h0m-33 0h0m26 47h0m-6 -90h0m14 395h0m-20 -421h0m-4 37h0m28 214h0m-9 109h0m-34 -343h0m11 -79h0m6 114h0m1 301h0m14 -308h0m-35 387h0m22 -120h0m-19 -330h0m45 224h0m-15 148h0m-15 53h0m-23 -192h0m33 -162h0m-25 141h0m20 -180h0m17 246h0m-31 -45h0m36 -170h0m67 223h0m44 -43h0m-17 157h0m-26 -114h0m28 112h0m-2 -325h0m-15 143h0m27 54h0m2 2h0m-9 66h0m12 -71h0m-11 -132h0m-4 -60h0m-15 244h0m23 -30h0m-3 127h0m-23 -144h0m26 -43h0m-14 1h0m16 18h0m3 -1h0m-24 59h0m-7 -96h0m34 4h0m5 17h0m-19 0h0m-4 164h0m-8 -237h0m16 74h0m0 220h0m-1 -305h0m-16 168h0m-2 -97h0m19 274h0m-10 -211h0m7 -185h0m-15 248h0m13 164h0m-19 -446h0m5 401h0m-8 -184h0m14 -220h0m-4 294h0m9 -8h0m22 -78h0m-33 105h0m3 -147h0m-7 124h0m19 -52h0m3 -197h0m-13 274h0m20 -78h0m-35 1h0m12 19h0m11 -52h0m-13 -208h0m10 -14h0m25 217h0m31 -155h0m21 36h0m-13 -209h0m-4 294h0m11 -25h0m-30 -198h0m21 176h0m12 220h0m-24 -234h0m-5 -241h0m28 119h0m-40 37h0m32 334h0m-1 -307h0m2 162h0m-1 -81h0m0 -71h0m4 437h0m-18 -374h0m13 -156h0m-17 -101h0m12 181h0m16 37h0m2 -27h0m-38 272h0m36 -130h0m-12 -153h0m-4 -96h0m-9 327h0m2 -217h0m-20 -13h0m39 21h0m4 13h0m-13 -180h0m-23 434h0m14 -186h0m-6 -267h0m0 56h0m-9 155h0m28 81h0m5 -281h0m11 150h0m-32 107h0m-7 -49h0m35 -51h0m-23 58h0m1 25h0m11 43h0m0 -106h0m-12 9h0m-3 -87h0m6 242h0m14 -89h0m9 -3h0m-38 5h0m4 26h0m17 -255h0m-6 154h0m13 219h0m-5 -128h0m8 -60h0m8 -60h0m-42 -83h0m10 46h0m14 59h0m4 14h0m-12 -59h0m3 118h0m3 49h0m4 -23h0m-12 42h0m-13 -153h0m39 81h0m4 32h0m-29 -88h0m18 -169h0m-9 385h0m-24 34h0m19 -247h0m5 259h0m-14 -244h0m32 -8h0m-40 -43h0m4 93h0m5 113h0m29 -178h0m2 37h0m-15 -10h0m-13 17h0m-5 50h0m21 -22h0m6 -58h0m-20 432h0m-14 -464h0m-11 13h0m-1 -27h0m43 2h0m-35 21h0m-5 -45h0m31 153h0m-2 -31h0m-15 -135h0m20 -58h0m-13 227h0m-17 -86h0m12 97h0m30 -173h0m-24 -3h0m10 -109h0m-10 436h0m-16 -371h0m7 204h0m-7 94h0m17 -147h0m2 -260h0m18 229h0m-1 3h0m-16 -32h0m-16 152h0m17 25h0m-1 -163h0m17 38h0m-22 55h0m-5 -168h0m17 86h0m-2 146h0m-7 228h0m0 -410h0m4 92h0m-22 -10h0m4 209h0m16 148h0m-1 -313h0m7 -121h0m16 117h0m-38 117h0m3 -240h0m19 215h0m-9 -58h0m-22 -110h0m48 -33h0m-7 93h0m-11 -274h0m-21 278h0m20 152h0m-19 -133h0m-14 -95h0m23 91h0m29 -17h0m-16 260h0m-17 -349h0m31 -38h0m-48 69h0m44 -52h0m-46 132h0m34 -33h0m-31 -50h0m24 -62h0m-12 -7h0m40 65h0m-13 -31h0m-20 -6h0m30 -39h0m2 35h0m-10 119h0m8 -30h0m-50 14h0m38 -130h0m12 83h0m-30 9h0m-14 45h0m10 171h0m4 -181h0m29 40h0m-44 -122h0m32 -4h0m-32 -38h0m21 152h0m11 -108h0m-23 -44h0m13 -13h0m-16 -13h0m17 58h0m12 -23h0m-21 75h0m20 35h0m-3 64h0m-5 78h0m-26 -329h0m42 207h0m-9 -11h0m8 -90h0m-33 -141h0m46 340h0m34 62h0m10 67h0m-13 -125h0m8 131h0m-41 -173h0m9 189h0m35 -184h0m-36 38h0m33 -91h0m-3 159h0m2 -59h0m9 -8h0m-20 -215h0m10 106h0m-36 115h0m29 159h0m7 -87h0m-3 49h0m-8 -4h0m16 60h0m-19 -97h0m13 -92h0m-27 4h0m12 -4h0m14 46h0m-7 -196h0m-21 112h0m3 124h0m-8 -107h0m16 101h0m-3 -245h0m-8 295h0m33 -165h0m-20 -141h0m-20 230h0m17 112h0m30 -48h0m-37 -6h0m8 -353h0m16 424h0m-34 -54h0m-4 -122h0m17 -27h0m17 -17h0m-30 181h0m18 -28h0m13 -53h0m11 19h0m-16 -139h0m-23 172h0m10 -83h0m-10 -114h0m35 140h0m-2 34h0m-11 -6h0m7 -97h0m8 140h0m-41 -32h0m50 -25h0m-27 54h0m-5 133h0m29 -292h0m-26 45h0m19 164h0m-3 -379h0m-30 297h0m13 -252h0m-2 171h0m9 101h0m11 -181h0m-14 178h0m-23 -153h0m2 48h0m27 -25h0m-12 24h0m8 223h0m15 -89h0m-40 -61h0m47 -49h0m-34 57h0m-5 -124h0m7 -40h0m-3 224h0m-4 -85h0m36 -2h0m-36 21h0m5 -289h0m-16 356h0m1 -173h0m53 30h0m-44 -41h0m31 256h0m-30 -31h0m17 -15h0m4 -192h0m-5 44h0m-18 131h0m6 -257h0m38 230h0m-9 20h0m3 -155h0m-11 45h0m-18 -182h0m-5 -28h0m28 132h0m-19 -149h0m10 318h0m21 -41h0m99 130h0m-7 123h0m-21 -1h0m-3 -65h0m35 -8h0m-1 67h0m-20 -208h0m2 214h0m16 -71h0m-16 3h0m-9 34h0m21 -89h0m-12 0h0m29 98h0m-29 29h0m25 -127h0m-28 -7h0m28 41h0m-33 84h0m-10 -126h0m16 -9h0m-1 73h0m1 44h0m21 20h0m-31 4h0m15 -137h0m-22 30h0m20 -61h0m-19 60h0m43 103h0m-28 2h0m13 -145h0m-30 142h0m24 -219h0m0 123h0m-15 -24h0m17 3h0m-6 98h0m9 -16h0m-17 31h0m19 6h0m-11 -76h0m5 46h0m-11 -100h0m28 135h0m-38 9h0m27 -250h0m10 116h0m-43 136h0m45 -136h0m-30 38h0m3 79h0m-1 13h0m5 -70h0m-4 76h0m19 -2h0m-20 -2h0m21 -133h0m-20 67h0m30 44h0m-40 -71h0m13 -94h0m25 172h0m-16 2h0m-17 -94h0m22 -100h0m-18 139h0m10 -93h0m-13 61h0m22 50h0m8 6h0m-37 43h0m6 -13h0m-8 12h0m12 -114h0m22 10h0m-22 51h0m18 57h0m-11 -98h0m-20 66h0m47 -65h0m-22 -98h0m14 63h0m-3 73h0m-15 57h0m0 -94h0m20 -37h0m1 45h0m5 9h0m-7 63h0m-37 1h0m2 6h0m27 -51h0m-14 -74h0m-9 122h0m1 -244h0m35 240h0m-14 -152h0m5 120h0m-18 -30h0m-2 61h0m36 -80h0m-13 16h0m13 84h0m-24 -33h0m0 -103h0m-29 12h0m38 113h0m8 -95h0m-22 -37h0m17 50h0m-42 -6h0m25 -23h0m28 31h0m-29 -150h0m118 177h0m-25 -67h0m5 -5h0m24 67h0m-16 -342h0m26 228h0m5 -8h0m4 99h0m-32 59h0m-2 12h0m-5 2h0m-10 -85h0m37 106h0m-33 -117h0m8 -20h0m38 104h0m-46 -147h0m0 121h0m0 -68h0m10 -18h0m0 99h0m17 -101h0m-27 7h0m31 -17h0m-13 -56h0m-6 -24h0m8 126h0m13 64h0m-30 -17h0m29 -313h0m-30 356h0m29 -268h0m-23 187h0m34 10h0m0 -63h0m2 84h0m-22 -135h0m10 95h0m-35 81h0m22 -181h0m-3 174h0m2 -77h0m19 -64h0m-27 -49h0m2 179h0m32 -33h0m-22 -268h0m24 312h0m-12 -34h0m-29 -333h0m32 359h0m3 -143h0m-23 139h0m21 21h0m-36 -173h0m28 -16h0m5 148h0m-37 17h0m0 -105h0m28 152h0m24 -41h0m-21 -329h0m-31 187h0m27 115h0m6 -87h0m9 43h0m-35 112h0m-4 -73h0m41 -124h0m6 54h0m-24 107h0m-27 -181h0m29 31h0m-22 125h0m1 -6h0m1 24h0m7 -449h0m15 279h0m-14 34h0m21 -59h0m-15 198h0m-19 -152h0m-1 -4h0m25 199h0m0 -144h0m22 118h0m-5 -91h0m-15 93h0m-2 -227h0m5 144h0m-15 -52h0m-11 88h0m13 -130h0m6 -5h0m18 163h0m-1 -10h0m-10 10h0m-7 19h0m-23 -9h0m44 7h0m-47 -181h0m47 163h0m-4 -147h0m-26 173h0m17 -46h0m-5 -414h0m-11 312h0m-21 -33h0m26 158h0m-16 -72h0m8 -359h0m-10 427h0m17 -69h0m15 -2h0m9 -16h0m-11 1h0m-13 20h0m-20 -102h0m6 58h0m31 -339h0m-8 366h0m12 60h0m-14 -224h0m-8 49h0m0 78h0m19 120h0m-28 -238h0m30 228h0m-39 -16h0m-3 -97h0m0 -87h0m32 178h0m-31 -47h0m13 -261h0m-6 279h0m36 25h0m-20 -207h0m12 213h0m-4 -350h0m-31 189h0m43 178h0m-27 -151h0m35 86h0m-20 -60h0m-26 172h0m39 -37h0m-35 -138h0m6 135h0m33 -111h0m-46 -16h0m28 65h0m-29 -30h0m33 -201h0m1 296h0m-8 19h0m23 -128h0m-48 135h0m50 4h0m-55 -5h0m44 -317h0m2 281h0m-17 -14h0m21 -116h0m-46 -7h0m10 162h0m35 -166h0m-13 159h0m-13 -148h0m10 122h0m19 -148h0m-10 194h0m-29 -41h0m23 -28h0m-21 -85h0m0 -26h0m-16 4h0m23 121h0m9 30h0m6 31h0m-13 -315h0m19 -127h0m-25 243h0m15 186h0m2 -17h0m-35 -28h0m25 66h0m-10 -32h0m33 -114h0m-33 111h0m20 -210h0m-11 -207h0m0 418h0m30 -57h0m-41 -57h0m35 155h0m-39 -77h0m39 61h0m-6 -29h0m-29 -289h0m12 318h0m15 -41h0m-29 56h0m9 -422h0m-18 387h0m10 -20h0m16 -179h0m-5 39h0m-12 -14h0m-11 196h0m15 -148h0m-5 64h0m15 -339h0m20 413h0m-23 -86h0m23 -55h0m-34 99h0m2 -369h0m25 393h0m-6 -99h0m-4 102h0m-27 17h0m44 19h0m-27 -475h0m17 372h0m-16 73h0m28 27h0m-33 -65h0m30 -131h0m-30 146h0m-9 -94h0m-1 95h0m46 4h0m-25 5h0m28 -104h0m-13 -201h0m-24 298h0m13 7h0m-8 -13h0m-2 -122h0m-1 -168h0m32 179h0m-12 53h0m-17 83h0m-19 -95h0m53 11h0m-49 -246h0m25 197h0m7 82h0m-16 -43h0m-1 104h0m9 18h0m24 -232h0m-14 162h0m-24 30h0m-10 -93h0m28 -6h0m-5 45h0m-16 -272h0m9 315h0m19 -322h0m-32 346h0m41 -92h0m-32 24h0m-1 -380h0m-2 88h0m17 115h0m-29 63h0m35 206h0m-10 -296h0m16 184h0m4 7h0m-40 -12h0m36 -22h0m-30 -24h0m-3 -22h0m39 54h0m1 97h0m-8 -310h0m-26 289h0m32 -57h0m-34 -41h0m-5 30h0m-8 67h0m39 -13h0m-32 -159h0m2 212h0m36 -58h0m3 -12h0m-39 69h0m20 -142h0m11 35h0m-36 52h0m27 -83h0m-6 108h0m9 25h0m8 0h0m3 -4h0m-17 -22h0m15 -34h0m-7 54h0m-23 -18h0m9 -52h0m5 -150h0m26 202h0m-52 -24h0m45 -78h0m-3 95h0m-23 -17h0m-7 62h0m21 -27h0m7 -109h0m-14 -8h0m10 -141h0m2 234h0m-16 -212h0m-2 268h0m-22 -110h0m47 40h0m-30 -32h0m122 -512h0m20 147h0m-25 33h0m21 94h0m-32 -294h0m29 217h0m-28 -109h0m5 156h0m-4 -223h0m-5 -74h0m18 78h0m-21 113h0m19 -259h0m1 254h0m1 -205h0m-19 214h0m38 48h0m-23 -154h0m-1 58h0m1 137h0m26 -161h0m-13 73h0m-11 -222h0m24 274h0m-22 -34h0m-16 -133h0m10 251h0m-6 -232h0m6 -153h0m-9 125h0m37 121h0m7 16h0m-3 -137h0m-19 -76h0m-16 198h0m-4 -36h0m21 -49h0m15 205h0m-11 -251h0m-16 80h0m-13 60h0m7 -300h0m29 229h0m11 -72h0m-16 -149h0m-1 46h0m-26 373h0m25 -54h0m-28 -271h0m35 62h0m-17 52h0m14 -98h0m9 134h0m-37 -157h0m4 64h0m1 278h0m11 -325h0m12 96h0m-16 -35h0m24 8h0m-31 -75h0m11 90h0m-21 -17h0m19 19h0m17 18h0m-11 198h0m11 22h0m-32 -265h0m6 -147h0m33 284h0m-48 -169h0m6 121h0m4 -161h0m-7 71h0m18 78h0m13 86h0m2 -31h0m4 -155h0m-10 148h0m-19 -220h0m18 83h0m-12 -141h0m20 8h0m-32 120h0m26 165h0m11 -6h0m9 -29h0m-33 101h0m17 -224h0m10 -18h0m-13 -121h0m0 229h0m-15 -84h0m28 27h0m-32 -17h0m23 11h0m-34 106h0m9 -87h0m33 197h0m-29 -116h0m9 140h0m17 -238h0m-4 179h0m-24 -98h0m15 17h0m-18 -127h0m4 276h0m26 -95h0m-30 -127h0m30 -6h0m-7 81h0m16 -15h0m-8 -259h0m8 162h0m-24 227h0m23 -231h0m-26 174h0m-17 -82h0m-3 -112h0m152 218h0m-34 35h0m25 73h0m10 -432h0m-26 301h0m27 174h0m-30 -227h0m10 -27h0m-1 -13h0m8 -19h0m17 217h0m-30 -347h0m-15 232h0m22 -50h0m24 27h0m2 -123h0m-32 37h0m-1 343h0m-9 -233h0m16 -322h0m-3 174h0m2 9h0m-21 260h0m5 -20h0m-2 -184h0m33 -88h0m-30 278h0m23 -5h0m9 19h0m-10 -2h0m-11 -234h0m-16 260h0m29 -66h0m-18 5h0m16 -143h0m0 -161h0m-2 -79h0m-16 428h0m34 -264h0m-4 194h0m-33 -102h0m9 -275h0m-4 281h0m12 22h0m19 -136h0m-19 -146h0m-4 254h0m-12 -93h0m36 -50h0m-1 79h0m4 -235h0m-7 374h0m-6 -202h0m-20 71h0m41 -11h0m-12 373h0m-19 -221h0m-4 -227h0m28 203h0m-34 -238h0m24 380h0m-18 -172h0m19 -83h0m-16 318h0m21 -564h0m-7 478h0m1 -276h0m-21 173h0m31 102h0m-45 -177h0m22 220h0m25 -286h0m-16 98h0m16 91h0m-13 125h0m-22 -48h0m34 -137h0m-3 -163h0m-38 93h0m4 45h0m41 129h0m-18 -40h0m-6 -126h0m12 3h0m-38 -22h0m24 229h0m-18 -123h0m46 -188h0m-53 -2h0m27 166h0m-14 -91h0m24 96h0m-23 220h0m15 -580h0m12 241h0m-9 57h0m-5 228h0m18 -349h0m-7 27h0m-6 410h0m-24 -67h0m21 85h0m-19 -440h0m29 73h0m13 -76h0m-16 10h0m-22 -174h0m-15 267h0m30 -141h0m-1 260h0m16 -125h0m3 -32h0m-43 12h0m15 -29h0m-21 -19h0m32 348h0m-12 -57h0m7 -269h0m6 316h0m10 -97h0m-6 -465h0m-33 204h0m22 128h0m22 187h0m-30 112h0m-12 -425h0m-2 214h0m45 77h0m-2 -299h0m-39 -30h0m29 349h0m3 -227h0m-24 -111h0m16 200h0m-22 27h0m19 -166h0m-11 366h0m-4 -401h0m8 -27h0m23 109h0m-44 82h0m31 278h0m-30 -159h0m33 -281h0m-21 412h0m6 -440h0m-14 20h0m22 277h0m-7 -221h0m12 -259h0m-32 479h0m18 -398h0m-19 392h0m15 182h0m8 -313h0m25 -136h0m6 235h0m-47 -253h0m29 -73h0m-17 268h0m3 112h0m-3 -183h0m-8 150h0m8 -237h0m28 145h0m-9 -225h0m-16 333h0m-2 -238h0m8 -124h0m-1 247h0m10 222h0m49 -239h0m17 311h0m0 -257h0m0 -30h0m-29 134h0m2 -31h0m-7 164h0m38 -234h0m-21 197h0m-6 -273h0m20 358h0m-3 -258h0m-25 -59h0m30 258h0m-14 -224h0m3 -101h0m-20 284h0m15 -190h0m0 -89h0m-8 -139h0m12 486h0m-5 45h0m-15 -347h0m17 -216h0m-17 506h0m21 68h0m-5 -484h0m13 439h0m-8 -4h0m-12 -158h0m8 -254h0m-13 206h0m10 142h0m11 38h0m0 -128h0m-12 -110h0m5 236h0m0 -441h0m10 152h0m-17 -65h0m12 366h0m-3 -183h0m-3 60h0m2 96h0m-15 94h0m-7 -324h0m-2 231h0m5 32h0m31 -39h0m-17 -190h0m-12 23h0m29 -57h0m-23 50h0m22 -179h0m-28 426h0m-8 -301h0m37 189h0m-14 137h0m-18 -337h0m35 30h0m-4 58h0m-26 -24h0m-5 199h0m22 -19h0m7 70h0m-10 -321h0m0 268h0m-19 17h0m-2 -273h0m29 327h0m-10 -399h0m11 259h0m79 -181h0m38 -162h0m2 135h0m6 7h0m-38 -100h0m4 220h0m-7 -436h0m14 43h0m-18 -76h0m38 302h0m-22 128h0m-7 -323h0m20 6h0m5 251h0m-14 45h0m11 -406h0m-21 445h0m-8 -329h0m14 -206h0m28 112h0m-29 254h0m25 -216h0m4 232h0m-19 -212h0m-15 301h0m-9 -75h0m40 -153h0m-30 59h0m-8 89h0m40 -153h0m-8 -210h0m-25 341h0m21 -55h0m-23 -57h0m23 423h0m-6 -344h0m-16 91h0m10 -68h0m8 -210h0m-3 424h0m-22 -43h0m23 -377h0m-11 219h0m10 -209h0m-23 54h0m49 298h0m-18 -189h0m1 159h0m-31 -326h0m15 488h0m1 -436h0m3 266h0m-7 2h0m24 155h0m-22 -481h0m-19 322h0m28 -281h0m-6 214h0m4 302h0m23 -237h0m-3 -224h0m-37 216h0m-8 -109h0m16 -53h0m20 -83h0m-27 188h0m20 -152h0m1 -238h0m-26 199h0m31 375h0m-16 -159h0m32 -192h0m-45 80h0m11 8h0m-2 25h0m-15 -129h0m26 121h0m18 -165h0m-13 197h0m-31 -177h0m48 248h0m4 -64h0m-33 -130h0m15 -194h0m18 286h0m-41 -95h0m-4 115h0m-1 -313h0m-4 146h0m14 27h0m26 -38h0m-3 124h0m-1 -99h0m-25 21h0m29 199h0m-22 -139h0m-8 160h0m26 -168h0m-23 329h0m39 -97h0m-28 -203h0m-19 -22h0m40 -285h0m-33 279h0m13 -289h0m-12 94h0m14 105h0m2 -77h0m2 159h0m-6 356h0m26 -449h0m-26 228h0m20 126h0m-3 -484h0m-7 317h0m15 39h0m-24 86h0m-6 -23h0m16 -282h0m2 75h0m-30 186h0m23 -221h0m-25 106h0m-7 73h0m16 56h0m-9 52h0m1 -327h0m17 6h0m-22 -20h0m44 20h0m-36 94h0m-12 -148h0m28 102h0m6 181h0m18 -230h0m-52 317h0m10 -403h0m2 476h0m3 -463h0m-1 -60h0m5 621h0m19 -149h0m-20 42h0m-11 -507h0m16 114h0m-16 -124h0m1 372h0m18 -129h0m-15 -292h0m20 482h0m18 -296h0m-33 412h0m-2 13h0m-13 -297h0m44 -133h0m-25 334h0m31 -312h0m-33 -209h0m29 471h0m-41 1h0m19 64h0m-7 -60h0m14 -196h0m-4 217h0m-17 -325h0m-10 81h0m20 214h0m6 -472h0m19 456h0m-7 -190h0m14 55h0m0 141h0m-5 -332h0m-6 134h0m-6 192h0m-16 -388h0m17 223h0m-37 152h0m22 91h0m6 -346h0m16 214h0m-33 -97h0m37 -159h0m-24 -140h0m-4 300h0m-20 63h0m4 28h0m25 29h0m3 192h0m4 -521h0m-3 636h0m-31 -311h0m22 -270h0m-2 45h0m18 27h0m-9 -27h0m-17 -41h0m-11 297h0m2 -87h0m1 105h0m20 13h0m11 -422h0m16 259h0m-27 390h0m-17 -257h0m26 -59h0m-29 11h0m37 -14h0m-19 -134h0m11 -141h0m-13 -66h0m-13 303h0m14 -198h0m-2 262h0m-7 -87h0m29 19h0m-2 -75h0m-22 342h0m3 -228h0m23 -185h0m-35 111h0m6 -35h0m29 -105h0m-10 344h0m-32 -242h0m27 -162h0m5 269h0m19 -11h0m-46 -104h0m-7 -185h0m34 -53h0m-13 424h0m10 -233h0m-14 97h0m30 -148h0m-20 58h0m-2 -139h0m-2 473h0m-2 -409h0m-12 438h0m18 -411h0m-8 115h0m11 36h0m-26 -56h0m3 134h0m10 119h0m20 -220h0m-18 313h0m21 78h0m-16 -609h0m21 435h0m-31 67h0m-3 -572h0m1 557h0m13 -395h0m-26 144h0m17 88h0m19 -285h0m2 331h0m-18 -249h0m4 205h0m-16 142h0m14 -401h0m21 -88h0m-15 88h0m-20 129h0m18 -43h0m-10 447h0m-13 -154h0m15 -111h0m-4 -53h0m-8 -127h0m48 101h0m-40 107h0m105 -145h0m38 -182h0m5 266h0m-5 103h0m9 -148h0m-26 31h0m-14 -3h0m12 -195h0m-2 247h0m29 -83h0m-42 66h0m36 31h0m-6 -161h0m-5 -170h0m-4 198h0m-11 -15h0m8 91h0m6 -70h0m-15 -233h0m26 349h0m-24 42h0m-4 14h0m24 78h0m-13 -193h0m-15 58h0m28 -74h0m-23 -57h0m24 88h0m1 -155h0m4 248h0m-1 -130h0m-15 73h0m-13 -82h0m24 -34h0m4 122h0m-1 -156h0m8 90h0m-21 31h0m4 -99h0m-4 262h0m-25 -183h0m21 213h0m-14 -116h0m27 34h0m-28 -146h0m4 -53h0m-8 97h0m24 232h0m12 -183h0m-22 -254h0m-15 265h0m17 -48h0m4 -123h0m-4 151h0m-19 2h0m22 109h0m-11 -240h0m23 -74h0m2 178h0m6 -68h0m3 140h0m-36 35h0m39 -175h0m-17 -35h0m-24 55h0m32 -42h0m-8 79h0m-32 -15h0m6 212h0m27 -529h0m4 386h0m-4 -284h0m6 158h0m-33 98h0m2 175h0m2 -190h0m20 -14h0m-4 -20h0m-7 -71h0m-7 142h0m1 100h0m19 -376h0m2 474h0m-7 -170h0m-26 -76h0m13 11h0m11 47h0m-18 160h0m38 -152h0m-37 -116h0m10 256h0m6 -404h0m-2 320h0m-18 -136h0m15 -68h0m-12 65h0m18 127h0m1 103h0m31 -23h0m2 205h0m44 -105h0m-40 -83h0m40 132h0m3 -11h0m-40 -160h0m45 258h0m-3 -140h0m-3 144h0m-2 -97h0m-36 -35h0m13 -89h0m18 170h0m5 -137h0m-14 149h0m-11 24h0m26 26h0m-19 -94h0m-28 113h0m44 -135h0m-16 -52h0m20 94h0m-48 40h0m50 -50h0m-24 -227h0m-4 249h0m-4 -144h0m29 119h0m-24 -7h0m-25 -75h0m44 40h0m-30 -133h0m6 130h0m20 89h0m-24 -104h0m39 108h0m-3 -78h0m-26 59h0m-25 0h0m32 -124h0m-26 172h0m28 -2h0m-22 -1h0m14 10h0m23 -9h0m-31 -72h0m-7 33h0m12 -213h0m11 94h0m-27 136h0m17 -84h0m7 106h0m-3 -77h0m-15 -36h0m18 -87h0m-3 10h0m-23 187h0m42 7h0m-5 -70h0m2 67h0m5 6h0m-44 -212h0m-2 182h0m34 -92h0m0 -30h0m-16 138h0m15 7h0m-35 -152h0m39 53h0m-41 29h0m3 -79h0m40 12h0m-31 51h0m1 98h0m18 -238h0m2 181h0m6 -244h0m14 288h0m-25 -40h0m8 3h0m-29 16h0m4 51h0m3 -235h0m8 203h0m-12 -72h0m16 -196h0m16 224h0m-18 27h0m15 -105h0m16 17h0m-22 -8h0m-27 55h0m20 -69h0m3 -28h0m11 105h0m-21 -11h0m10 -3h0m26 -105h0m-18 170h0m-2 -119h0m9 114h0m-30 -71h0m34 -54h0m3 19h0m-5 114h0m-35 -257h0m-1 249h0m-4 -234h0m48 150h0m-50 88h0m3 -119h0m26 -43h0m-5 103h0m19 -103h0m-6 -72h0m-17 213h0m19 -130h0m-43 -37h0m36 189h0m-15 9h0m-7 -66h0m35 -20h0m-1 -89h0m-7 -96h0m-11 102h0m21 160h0m-16 -38h0m-24 -121h0m3 58h0m-13 112h0m39 -43h0m0 6h0m-33 -134h0m5 130h0m25 -54h0m-15 -121h0m8 104h0m0 29h0m-23 -82h0m29 -121h0m-16 15h0m29 179h0m0 106h0m2 10h0m-48 -24h0m40 -150h0m-3 67h0m5 -63h0m-22 14h0m-19 90h0m16 63h0m11 -89h0m-22 -13h0m-6 79h0m3 -83h0m16 99h0m-8 -137h0m5 43h0m14 -53h0m-5 135h0m16 -14h0m-11 -48h0m7 66h0m0 -145h0m-32 153h0m29 -26h0m-21 -154h0m-5 71h0m5 -181h0m36 216h0m-31 -53h0m17 90h0m-27 -181h0m-1 -42h0m1 56h0m-6 164h0m50 -162h0m0 -31h0m-9 97h0m-25 -43h0m-13 106h0m45 -206h0m-38 253h0m10 -178h0m-7 -58h0m23 236h0m-2 18h0m-6 -74h0m-14 -94h0m10 33h0m-19 -9h0m36 -87h0m-19 213h0m-18 23h0m22 -121h0m22 41h0m-3 -23h0m-39 -116h0m18 30h0m-6 172h0m23 -242h0m-18 240h0m0 3h0m-27 21h0m6 -128h0m44 95h0m-37 -83h0m6 -68h0m20 159h0m-19 13h0m24 -55h0m-42 -180h0m50 -7h0m-41 -17h0m31 212h0m-8 -87h0m-31 21h0m36 92h0m-31 -110h0m42 101h0m-16 17h0m2 -108h0m12 -48h0m-18 116h0m-21 7h0m34 37h0m-17 -165h0m-18 -145h0m7 194h0m31 -19h0m-36 -21h0m-7 -5h0m14 101h0m-14 6h0m19 -188h0m-13 165h0m42 58h0m-40 -132h0m-1 24h0m10 21h0m-21 -49h0m13 44h0m9 63h0m3 12h0m15 -124h0m-11 86h0m-1 -88h0m-27 165h0m51 -201h0m-14 127h0m-13 -165h0m-24 146h0m27 -71h0m27 155h0m-38 2h0m21 -39h0m-4 46h0m-29 -41h0m40 34h0m-29 16h0m9 -147h0m16 5h0m-34 -100h0m46 110h0m-44 -37h0m40 90h0m0 -220h0m-44 275h0m7 5h0m10 -243h0m25 22h0m-6 160h0m-26 46h0m38 -210h0m0 56h0m-7 38h0m1 132h0m-27 -51h0m34 -197h0m-20 117h0m0 125h0m-20 -30h0m35 -27h0m7 41h0m-52 -144h0m44 -23h0m-25 -73h0m7 164h0m24 85h0m-10 36h0m-33 -71h0m41 -1h0m-9 -97h0m-37 53h0m-1 -83h0m-2 21h0m48 36h0m-1 35h0m-18 -140h0m13 -25h0m-27 239h0m-1 -40h0m8 -70h0m-21 22h0m-1 112h0m32 20h0m-25 -157h0m15 -2h0m-1 -92h0m-22 26h0m12 228h0m-14 -61h0m34 25h0m-15 -2h0m11 -101h0m11 -62h0m-5 119h0m-16 20h0m5 -135h0m-9 122h0m30 -246h0m-32 127h0m9 23h0m3 108h0m-5 -76h0m23 79h0m3 -20h0m-22 -245h0m25 296h0m-17 -232h0m-29 192h0m12 34h0m14 -108h0m16 -103h0m-19 149h0m26 -67h0m-20 132h0m1 -45h0m16 -14h0m-3 -95h0m2 -84h0m-35 221h0m10 -89h0m11 84h0m9 28h0m100 -679h0m-26 60h0m46 59h0m-19 -263h0m-19 211h0m6 207h0m11 -296h0m-5 32h0m23 263h0m-10 171h0m-9 -144h0m8 31h0m-21 -191h0m21 -3h0m5 136h0m-9 -288h0m-17 258h0m29 11h0m-24 27h0m13 68h0m-14 268h0m-12 -336h0m21 -87h0m-23 -80h0m3 22h0m18 163h0m-13 3h0m24 -252h0m-2 75h0m-20 -19h0m22 -152h0m-7 23h0m4 -41h0m8 183h0m-23 -48h0m22 135h0m-20 196h0m3 -212h0m27 74h0m-27 -162h0m9 445h0m-20 -498h0m33 241h0m-12 -57h0m-14 297h0m-9 -445h0m-6 -25h0m27 -38h0m-8 241h0m-15 -156h0m27 -158h0m-2 121h0m-11 243h0m-3 -392h0m6 226h0m6 -217h0m21 179h0m-26 343h0m4 -385h0m-11 480h0m-1 -366h0m13 259h0m-12 -569h0m20 226h0m-9 114h0m4 -13h0m14 -144h0m-40 -19h0m35 237h0m-9 -152h0m15 10h0m-10 15h0m-7 -23h0m11 -48h0m9 52h0m-26 -88h0m70 217h0m-4 -19h0m-21 -13h0m17 -108h0m14 18h0m-12 102h0m24 101h0m-52 -108h0m20 -45h0m-2 -291h0m-5 31h0m19 644h0m-11 -293h0m-4 -63h0m32 145h0m-42 -173h0m11 175h0m32 81h0m-8 -175h0m3 -36h0m-27 307h0m2 -327h0m6 132h0m-24 -54h0m32 102h0m-26 7h0m4 -209h0m19 217h0m19 -219h0m-1 -210h0m-43 406h0m-5 -52h0m45 169h0m-15 -201h0m-28 6h0m46 -69h0m-9 -86h0m1 82h0m-38 6h0m21 -241h0m8 643h0m-21 -397h0m35 155h0m-22 -61h0m15 29h0m-41 -275h0m31 96h0m20 0h0m-8 40h0m-2 230h0m-40 -271h0m12 136h0m23 54h0m2 -178h0m13 209h0m-38 -398h0m-4 189h0m29 -161h0m-18 219h0m-10 -12h0m-7 156h0m47 -271h0m-48 180h0m44 59h0m-4 -292h0m-13 214h0m-20 -301h0m2 265h0m41 -100h0m-23 -206h0m15 448h0m-33 -63h0m1 -119h0m25 57h0m-17 66h0m-2 -167h0m0 220h0m3 -193h0m25 -238h0m-37 227h0m13 220h0m20 -238h0m-20 107h0m-13 -41h0m43 -163h0m-36 3h0m-16 243h0m15 -209h0m-11 286h0m19 229h0m6 -420h0m-4 189h0m-18 -51h0m36 -116h0m-25 83h0m-9 -84h0m27 -303h0m-9 481h0m20 -166h0m8 18h0m-8 -337h0m-30 344h0m19 -65h0m-20 129h0m12 15h0m-10 112h0m1 -275h0m30 118h0m5 54h0m-38 -24h0m19 -89h0m-2 190h0m13 -45h0m-31 -195h0m31 202h0m-10 210h0m3 -583h0m-17 115h0m-5 79h0m31 65h0m-19 121h0m-16 -126h0m35 53h0m1 42h0m-36 47h0m-10 -226h0m-2 218h0m23 6h0m22 -250h0m-39 223h0m19 -101h0m28 -27h0m-41 -255h0m19 419h0m21 -95h0m-23 345h0m5 -473h0m-29 200h0m17 -20h0m-5 -89h0m-4 -302h0m10 78h0m-4 342h0m-21 -218h0m48 312h0m-28 -545h0m-4 391h0m32 -211h0m-4 297h0m-41 -292h0m36 121h0m-37 -150h0m21 6h0m-21 283h0m8 128h0m17 -569h0m3 286h0m12 51h0m11 29h0m-15 -248h0m-24 31h0m14 185h0m9 -18h0m-17 -7h0m1 200h0m6 -4h0m-5 -3h0m-20 -189h0m15 -211h0m11 201h0m16 -171h0m-22 27h0m-20 71h0m24 -38h0m17 131h0m-6 -320h0m4 602h0m-21 -645h0m20 341h0m-22 -74h0m-6 -99h0m31 178h0m-28 -116h0m22 -160h0m3 63h0m-32 216h0m36 -17h0m-43 2h0m16 -324h0m20 254h0m0 152h0m-2 40h0m11 -147h0m-2 -45h0m-30 435h0m27 -237h0m7 12h0m-23 -226h0m23 279h0m-15 -224h0m-27 -82h0m24 254h0m-2 -212h0m7 401h0m-25 -394h0m22 -70h0m20 301h0m-22 -72h0m-2 -93h0m-17 166h0m14 -297h0m-24 92h0m8 21h0m30 188h0m-33 -208h0m25 66h0m-14 54h0m20 123h0m-7 -214h0m-21 1h0m2 -155h0m14 219h0m-12 341h0m35 -325h0m-1 -32h0m-24 311h0m31 -332h0m-35 9h0m5 -99h0m3 267h0m-3 -318h0m12 120h0m10 362h0m-30 -410h0m34 34h0m-28 161h0m10 132h0m7 -441h0m-4 231h0m7 -178h0m-14 152h0m-8 -170h0m-6 -136h0m6 518h0m16 -243h0m-5 277h0m-23 -274h0m-3 -79h0m40 49h0m-25 240h0m28 41h0m-1 -127h0m-1 167h0m-10 -140h0m5 -469h0m-2 584h0m-38 -218h0m7 49h0m16 -46h0m20 -339h0m-10 274h0m-29 -59h0m43 24h0m-21 181h0m18 3h0m-43 -120h0m3 -105h0m36 396h0m-40 -179h0m5 103h0m-4 -316h0m18 201h0m24 -95h0m-10 -85h0m5 19h0m13 -4h0m-50 38h0m30 -12h0m-25 -69h0m42 111h0m-34 -36h0m-2 338h0m38 -221h0m-1 42h0m-39 142h0m21 -297h0m-7 122h0m12 -98h0m-31 85h0m12 2h0m0 -268h0m7 421h0m-18 -308h0m30 164h0m17 -227h0m-45 61h0m40 -119h0m-4 144h0m-31 2h0m-10 -12h0m37 261h0m9 -243h0m-46 -152h0m41 109h0m-36 155h0m26 222h0m10 -333h0m-44 110h0m27 -86h0m21 126h0m-34 -108h0m30 -171h0m-23 -180h0m24 645h0m-26 -474h0m4 446h0m-17 -323h0m39 4h0m-29 50h0m1 -59h0m-2 40h0m-9 -192h0m39 549h0m-1 -533h0m-34 429h0m10 -410h0m0 356h0m15 -94h0m-35 -131h0m20 388h0m29 -180h0m-45 -256h0m19 -64h0m6 273h0m-12 -125h0m15 -163h0m16 131h0m-14 -157h0m11 135h0m4 309h0m-46 -336h0m26 -292h0m-27 600h0m14 -194h0m19 -102h0m6 59h0m11 205h0m-42 -339h0m14 180h0m-21 31h0m41 -254h0m-21 197h0m14 13h0m-2 -11h0m9 207h0m-44 -252h0m11 -4h0m33 286h0m-39 -227h0m20 -307h0m-15 202h0m134 148h0m4 -129h0m-5 68h0m2 -144h0m11 109h0m-1 -144h0m-15 54h0m10 -1h0m-4 -103h0m-5 305h0m-10 -204h0m11 -168h0m-10 300h0m16 -140h0m-17 -100h0m3 202h0m24 -67h0m-3 105h0m-12 -206h0m-3 340h0m13 -104h0m-3 -271h0m4 74h0m-14 70h0m13 265h0m-22 -467h0m11 29h0m9 188h0m-11 158h0m0 -42h0m-5 -139h0m-7 55h0m15 -71h0m-3 313h0m69 158h0m14 55h0m1 -4h0m-29 -44h0m18 -10h0m-16 -188h0m8 149h0m-16 19h0m20 -26h0m-25 105h0m37 -73h0m-22 -201h0m17 289h0m-17 -200h0m14 171h0m5 -112h0m10 123h0m-53 2h0m39 -1h0m-20 -179h0m-2 195h0m16 -60h0m-21 54h0m10 -2h0m20 -17h0m-36 -39h0m30 -16h0m-13 -131h0m31 182h0m-32 -51h0m28 69h0m-16 -18h0m18 -51h0m-18 -51h0m5 33h0m-13 78h0m-1 -29h0m2 -195h0m-17 229h0m38 -33h0m-31 -239h0m-11 278h0m3 -123h0m44 117h0m-51 -48h0m0 62h0m29 -263h0m-10 88h0m-11 46h0m38 114h0m-2 -54h0m-2 55h0m-15 13h0m11 -180h0" stroke="#ff0000" stroke-opacity="0.72" stroke-width="15" stroke-linecap="round" fill="none"/>
<path transform="scale(0.1)" d="M322 2096h0m1 204h0m-15 -286h0m13 126h0m6 -40h0m-8 25h0m7 -28h0m-15 -28h0m16 229h0m-10 -179h0m5 41h0m5 39h0m-9 -174h0m120 17h0m-12 173h0m0 70h0m36 -167h0m-6 -30h0m-15 144h0m12 69h0m-2 -221h0m12 37h0m-43 45h0m6 -171h0m-9 326h0m23 -6h0m-22 -16h0m40 2h0m-46 -8h0m24 -2h0m-10 -288h0m-2 215h0m13 17h0m-13 51h0m-1 1h0m19 -290h0m4 -23h0m-6 160h0m21 157h0m-13 3h0m-20 -45h0m28 -124h0m-11 60h0m-24 137h0m10 -205h0m20 55h0m-25 40h0m8 -133h0m7 176h0m-8 -22h0m-2 -179h0m10 122h0m8 120h0m14 -5h0m-23 -54h0m8 -99h0m-27 52h0m6 142h0m-10 -217h0m29 111h0m13 -81h0m-12 29h0m-12 54h0m-3 -215h0m-9 5h0m30 25h0m-2 20h0m-23 54h0m5 0h0m-17 -8h0m9 153h0m22 -141h0m19 161h0m-22 -120h0m-25 131h0m21 -200h0m-14 -45h0m12 -7h0m4 80h0m-29 0h0m13 52h0m3 -113h0m8 161h0m-5 -182h0m-9 268h0m34 -188h0m-19 184h0m7 -87h0m-18 -88h0m3 23h0m20 153h0m329 2h0m119 -8h0m10 -16h0m-18 27h0m5 10h0m5 4h0m10 -44h0m-15 35h0m126 -335h0m-11 -90h0m4 31h0m-6 -82h0m-10 38h0m10 -6h0m3 -46h0m1 170h0m15 -142h0m4 290h0m-10 -266h0m-8 203h0m14 -178h0m-16 -24h0m3 1h0m-9 45h0m5 205h0m7 -119h0m2 12h0m9 -5h0m-12 -157h0m-17 15h0m8 102h0m25 145h0m-7 -28h0m-4 -111h0m-19 -80h0m9 151h0m5 56h0m15 -70h0m167 124h0m-7 -184h0m9 150h0m4 -91h0m-7 226h0m3 -120h0m-16 -70h0m115 242h0m2 -6h0m18 -26h0m-16 31h0m-5 -22h0m139 -273h0m-21 144h0m4 -88h0m8 -29h0m-4 -80h0m7 246h0m-23 -53h0m7 -186h0m22 204h0m-18 32h0m8 -125h0m6 -92h0m-13 69h0m12 -94h0m-11 94h0m4 88h0m15 22h0m-6 -196h0m-24 196h0m6 -246h0m15 247h0m-17 -30h0m10 -214h0m-11 73h0m233 216h0m3 12h0m20 39h0m-27 -10h0m18 -11h0m3 70h0m13 -28h0m-7 0h0m-16 5h0m9 -1h0m-20 -29h0m11 -52h0m-1 81h0m-3 -56h0m9 -28h0m13 2h0m103 -20h0m-21 38h0m26 83h0m-22 -97h0m-4 28h0m-4 44h0m12 -44h0m20 60h0m-10 -103h0m13 13h0m-15 -66h0m-18 142h0m17 -39h0m31 47h0m-22 -57h0m-29 2h0m26 38h0m0 6h0m12 -124h0m-10 -10h0m-14 143h0m16 19h0m-13 -50h0m28 -25h0m-5 -15h0m-20 -29h0m12 -15h0m-6 27h0m-11 80h0m-7 -56h0m35 -27h0m-24 92h0m-14 -54h0m6 -67h0m41 52h0m-9 -17h0m-13 59h0m5 29h0m0 19h0m-1 -141h0m-21 64h0m34 53h0m-20 -51h0m-7 15h0m-19 -32h0m41 76h0m-5 -21h0m-14 -71h0m13 18h0m-18 -76h0m24 51h0m-15 67h0m22 16h0m97 9h0m-23 -52h0m40 7h0m-7 -6h0m-6 26h0m-10 23h0m14 -51h0m-18 52h0m4 22h0m10 -16h0m1 -61h0m-7 48h0m10 -73h0m-19 55h0m24 22h0m-28 -62h0m-8 31h0m14 31h0m-18 -2h0m20 -1h0m-8 -66h0m24 23h0m-1 63h0m247 -52h0m-32 91h0m27 -102h0m-23 94h0m-18 -54h0m20 -16h0m13 47h0m-31 22h0m3 -47h0m-14 -21h0m15 19h0m18 54h0m-33 -57h0m20 36h0m31 -50h0m-29 18h0m-20 -18h0m40 53h0m-6 -75h0m-13 91h0m14 -67h0m-27 19h0m14 -20h0m-9 4h0m25 61h0m-11 -92h0m-11 33h0m37 -5h0m-3 60h0m-15 -61h0m19 -7h0m-42 63h0m1 -58h0m16 70h0m11 -13h0m2 -54h0m-24 65h0m-7 -88h0m37 33h0m-8 -12h0m103 38h0m1 -58h0m-19 46h0m35 -127h0m-2 63h0m-21 -50h0m11 -2h0m-14 20h0m13 -22h0m4 98h0m5 -94h0m-38 80h0m17 -117h0m-10 35h0m27 79h0m-4 -60h0m-16 82h0m-4 -66h0m20 95h0m-30 -111h0m6 32h0m36 -18h0m-22 -31h0m14 82h0m13 -69h0m-18 11h0m-23 75h0m12 -66h0m-3 -10h0m-18 57h0m3 -30h0m18 -47h0m-13 77h0m18 12h0m-17 8h0m29 -39h0m-36 15h0m41 -84h0m-39 16h0m-2 15h0m37 35h0m-14 -101h0m129 -17h0m-20 185h0m9 -8h0m-14 -1h0m16 -172h0m3 134h0m-22 -17h0m11 59h0m-6 -76h0m2 67h0m-1 -187h0m7 17h0m1 26h0m-5 73h0m4 -52h0m-1 95h0m-14 -38h0m2 -16h0m36 58h0m-28 -77h0m7 -19h0m-13 23h0m12 -26h0m-1 -23h0m-15 130h0m17 -93h0m-12 4h0m26 75h0m-24 -26h0m21 43h0m-4 -94h0m-10 22h0m-10 48h0m7 -126h0m14 91h0m0 82h0m231 -158h0m-17 -29h0m13 -32h0m123 206h0m-18 0h0m124 5h0m16 -23h0m11 -42h0m-40 55h0m40 -51h0m-32 52h0m28 -15h0m1 -28h0m2 -29h0m-13 97h0m-23 -80h0m32 61h0m-4 -82h0m7 51h0m-33 -55h0m-8 87h0m0 -64h0m24 58h0m-4 -102h0m13 40h0m2 70h0m-31 -82h0m21 -41h0m-15 39h0m14 74h0m20 0h0m-29 -92h0m21 59h0m-11 -21h0m10 25h0m-18 2h0m18 -40h0m4 -7h0m-41 59h0m46 23h0m-49 -47h0m43 36h0m-42 -53h0m19 56h0m19 23h0m-4 -119h0m106 -266h0m-4 -34h0m13 -39h0m-6 0h0m8 28h0m0 -18h0m265 220h0m9 104h0m6 -116h0m5 180h0m2 16h0m-5 23h0m-2 -232h0m-1 171h0m-9 -114h0m3 47h0m-6 -138h0m-1 272h0m-2 -180h0m21 62h0m-23 -49h0m16 10h0m-3 -106h0m16 -31h0m-27 14h0m23 -17h0m-16 239h0m205 -47h0m-41 6h0m27 -26h0m-8 32h0m13 28h0m-33 -45h0m39 64h0m-6 -35h0m-37 0h0m36 7h0m-1 -50h0m-3 51h0m-32 -47h0m41 56h0m-36 38h0m1 -70h0m11 35h0m7 -108h0m26 50h0m-26 97h0m-10 -86h0m3 -43h0m0 32h0m-6 66h0m38 -44h0m-39 -19h0m15 131h0m14 -150h0m-9 147h0m-22 -154h0m9 106h0m-10 26h0m7 -31h0m3 -127h0m14 85h0m12 49h0m-42 -23h0m33 27h0m-34 -88h0m5 95h0m15 16h0m20 -14h0m156 -63h0m0 -96h0m-15 135h0m0 34h0m29 -109h0m-16 100h0m-11 -57h0m12 91h0m-1 -24h0m18 -96h0m-30 19h0m19 46h0m-20 -86h0m37 116h0m-23 -26h0m-15 39h0m9 -12h0m-4 -34h0m12 -27h0m17 -19h0m-8 8h0m-11 72h0m-5 4h0m-9 -94h0m1 -4h0" stroke="#0000ff" stroke-opacity="0.72" stroke-width="15" stroke-linecap="round" fill="none"/>
<path transform="scale(0.1)" d="M3117 2012h0m-1 -439h0m18 193h0m-39 87h0m27 50h0m8 -140h0m-15 380h0m0 -230h0m4 -103h0m-5 -115h0m8 375h0m-18 -339h0m17 95h0m-23 102h0m-12 -157h0m13 340h0m0 -22h0m2 -180h0m10 -351h0m1 519h0m0 -183h0m-14 -86h0m37 102h0m0 -43h0m-47 172h0m-7 -106h0m14 -230h0m18 139h0m-17 99h0m25 -208h0m-19 -78h0m28 237h0m-22 253h0m-1 -494h0m-24 63h0m6 24h0m4 -172h0m12 445h0m23 54h0m-43 -107h0m14 -217h0m14 77h0m-15 -102h0m30 146h0m-8 24h0m-26 23h0m19 81h0m19 -167h0m3 11h0m-13 117h0m12 -227h0m-13 280h0m-32 -142h0m29 -213h0m11 267h0m-7 -61h0m-23 264h0m-15 -180h0m12 -95h0m-14 107h0m5 -323h0m41 306h0m-15 -72h0m-21 -17h0m12 -176h0m-1 127h0m26 -201h0m-37 374h0m20 -64h0m-28 -67h0m37 -201h0m-7 71h0m-24 293h0m-3 -318h0m40 88h0m-39 73h0m29 -228h0m-11 357h0m1 -221h0m16 173h0m-17 -12h0m16 129h0m-3 -121h0m-14 -155h0m-9 -45h0m21 105h0m-33 32h0m12 220h0m28 89h0m-25 -426h0m28 47h0m4 155h0m-50 -199h0m28 83h0m1 93h0m-12 -120h0m12 313h0m8 -209h0m-27 -45h0m42 -139h0m-21 37h0m0 0h0m3 -51h0m-1 414h0m17 -216h0m-44 -117h0m29 310h0m-16 -67h0m11 -258h0m22 32h0m-44 121h0m14 1h0m30 -48h0m-25 -272h0m-7 320h0m-5 -126h0m28 7h0m-25 15h0m11 355h0m-14 4h0m8 -260h0m-8 201h0m-10 -321h0m46 -107h0m-9 57h0m-39 -28h0m4 7h0m9 225h0m12 -223h0m16 295h0m-40 -193h0m38 49h0m-31 252h0m5 -176h0m-14 -226h0m5 34h0m5 -16h0m4 127h0m6 -144h0m8 163h0m-22 -43h0m5 -63h0m-7 -179h0m-6 220h0m7 193h0m6 134h0m-13 -355h0m40 178h0m-3 -273h0m-19 216h0m26 -284h0m-36 102h0m2 -34h0m17 266h0m-18 -239h0m37 156h0m-22 1h0m7 27h0m-15 19h0m33 -170h0m-5 172h0m-28 -255h0m1 334h0m-5 -274h0m15 -13h0m28 206h0m-42 -68h0m22 311h0m-27 -285h0m-1 -283h0m11 120h0m31 269h0m-8 -416h0m7 344h0m-19 -17h0m19 -180h0m-11 0h0m3 74h0m-20 30h0m-3 -97h0m22 208h0m-30 -109h0m18 -65h0m5 -137h0m22 239h0m-8 -267h0m-18 403h0m7 -185h0m-5 296h0m0 -437h0m-30 228h0m43 38h0m5 -26h0m1 -318h0m5 160h0m-2 123h0m-13 -221h0m9 -37h0m-6 57h0m-19 41h0m28 170h0m-17 -35h0m-11 -207h0m26 204h0m6 -184h0m-5 47h0m-33 204h0m30 -157h0m-1 48h0m-17 90h0m-17 -172h0m5 -51h0m24 473h0m-10 -207h0m2 -277h0m-25 -84h0m-7 86h0m7 142h0m26 -24h0m-20 121h0m34 7h0m-36 -196h0m21 149h0m11 -163h0m-35 17h0m44 106h0m-40 9h0m33 239h0m-15 -503h0" stroke="#9933ff" stroke-opacity="0.72" stroke-width="15" stroke-linecap="round" fill="none"/>
<path transform="scale(0.1)" d="M205 2148h0m-13 54h0m23 -235h0m1 79h0m0 19h0m-22 188h0m5 -16h0m-1 -364h0m4 400h0m7 -428h0m-19 318h0m4 42h0m-3 14h0m2 -65h0m9 -274h0m-9 135h0m12 244h0m-14 2h0m3 -314h0m19 211h0m-11 -267h0m14 289h0m-3 -266h0m-18 -260h0m3 565h0m4 -144h0m-6 205h0m18 -453h0m-9 179h0m12 10h0m-22 65h0m22 179h0m-10 -634h0m-8 670h0m51 -311h0m17 -103h0m13 -60h0m-27 79h0m22 -42h0m-38 32h0m26 -157h0m13 140h0m12 -22h0m-50 -17h0m11 -92h0m30 113h0m-32 -111h0m42 145h0m-31 -81h0m33 48h0m-52 -3h0m15 17h0m3 -314h0m-21 428h0m25 99h0m19 86h0m-42 -430h0m48 21h0m-16 294h0m3 -399h0m-18 -152h0m-18 409h0m17 94h0m-14 -248h0m34 535h0m-34 -459h0m27 56h0m24 57h0m-50 -145h0m21 384h0m-15 -445h0m3 237h0m37 -151h0m-35 -59h0m9 130h0m10 -100h0m-14 -67h0m-3 416h0m-2 34h0m-6 -298h0m21 -48h0m-24 237h0m9 -82h0m28 112h0m-33 -142h0m-2 59h0m35 277h0m-16 8h0m24 -468h0m2 36h0m-44 -99h0m12 168h0m28 -176h0m-25 221h0m-19 -205h0m18 191h0m22 -134h0m6 96h0m0 69h0m-30 329h0m-12 -350h0m40 -71h0m-13 326h0m12 -417h0m-12 -63h0m-37 37h0m46 -152h0m-45 110h0m19 -27h0m0 334h0m7 -351h0m25 22h0m-44 -15h0m7 61h0m25 291h0m11 -136h0m-38 -224h0m31 125h0m-36 -31h0m9 536h0m0 -604h0m23 125h0m-14 324h0m-20 -431h0m-4 237h0m27 -238h0m-28 170h0m17 -114h0m-1 22h0m15 483h0m11 -117h0m-41 -215h0m50 -198h0m-44 -10h0m33 80h0m4 237h0m8 -84h0m-36 -525h0m-1 241h0m-4 165h0m12 94h0m-10 19h0m21 58h0m2 -521h0m-23 114h0m41 342h0m-10 -125h0m-17 413h0m11 57h0m14 -473h0m-25 99h0m8 95h0m-35 -353h0m49 58h0m-14 163h0m-18 -10h0m24 -97h0m-10 78h0m-13 325h0m28 -513h0m-38 262h0m0 19h0m32 -135h0m13 156h0m-29 -357h0m11 72h0m-10 34h0m0 316h0m9 -202h0m17 -85h0m3 126h0m-25 114h0m-1 -29h0m11 -564h0m2 624h0m-30 75h0m10 -193h0m-7 44h0m14 -336h0m-17 255h0m20 19h0m-22 73h0m30 -18h0m-26 11h0m30 -294h0m-5 591h0m-38 -523h0m13 110h0m-6 -54h0m157 179h0m-7 -105h0m4 -61h0m-1 25h0m-31 -1h0m19 -75h0m-32 -56h0m44 222h0m-14 7h0m-30 296h0m1 -414h0m32 -241h0m-15 209h0m-16 -78h0m17 74h0m13 -5h0m22 15h0m-40 187h0m13 -222h0m10 152h0m-15 58h0m-4 -23h0m2 -9h0m-8 -58h0m-5 -107h0m9 37h0m-13 427h0m29 -653h0m16 214h0m-33 -331h0m-15 390h0m48 -106h0m-41 320h0m4 -420h0m7 82h0m4 241h0m12 -248h0m6 2h0m-36 409h0m46 9h0m-46 -295h0m3 337h0m13 -312h0m31 163h0m-26 -152h0m25 16h0m-10 -191h0m8 0h0m-14 474h0m-20 -704h0m9 260h0m12 189h0m20 -140h0m-24 -316h0m14 469h0m4 -316h0m0 165h0m-2 546h0m-46 -372h0m53 -83h0m-4 -84h0m-10 -102h0m-36 531h0m-3 -576h0m4 50h0m50 48h0m-7 -159h0m-22 332h0m-3 211h0m15 -318h0m-19 -254h0m21 227h0m-31 -36h0m-6 108h0m48 -29h0m-38 -34h0m17 116h0m24 -103h0m1 222h0m-25 -323h0m3 315h0m-7 -192h0m-13 -179h0m-7 -119h0m7 181h0m-13 149h0m31 -331h0m-16 643h0m32 -104h0m-12 -631h0m7 478h0m0 119h0m-30 -322h0m33 -169h0m-14 400h0m-5 -231h0m-19 350h0m21 -214h0m27 159h0m-41 -38h0m9 333h0m-9 -63h0m16 -199h0m-13 -478h0m27 110h0m4 15h0m-11 124h0m-26 148h0m25 -2h0m-28 -33h0m30 84h0m8 -165h0m-11 134h0m-5 -127h0m-2 -428h0m1 765h0m-22 -463h0m46 -27h0m-51 342h0m23 293h0m16 -652h0m2 145h0m-18 149h0m3 -172h0m7 240h0m-27 -311h0m44 254h0m-26 139h0m3 -168h0m-4 23h0m-5 -246h0m2 -39h0m-16 102h0m43 373h0m-11 -443h0m3 466h0m-27 -497h0m-11 -104h0m1 314h0m7 419h0m-4 -496h0m4 38h0m24 -217h0m8 83h0m-4 168h0m4 95h0m3 101h0m0 -297h0m-2 -63h0m-17 360h0m-2 120h0m-9 -378h0m28 49h0m-7 157h0m8 -252h0m-26 239h0m-20 -152h0m45 -54h0m-25 67h0m17 77h0m18 -302h0m-53 301h0m48 -197h0m-11 -223h0m-19 79h0m-10 140h0m-7 193h0m51 -4h0m-43 -387h0m14 208h0m-10 95h0m29 67h0m9 123h0m-39 -11h0m31 -103h0m-3 -165h0m-22 -21h0m31 96h0m-32 -44h0m13 154h0m15 -136h0m2 -179h0m-15 156h0m12 141h0m-32 -503h0m4 196h0m17 226h0m-19 308h0m29 -308h0m1 -150h0m-27 253h0m13 -466h0m13 212h0m-15 205h0m14 -8h0m-11 -86h0m-7 -245h0m-10 59h0m9 68h0m15 84h0m0 -88h0m-28 -66h0m23 260h0m-15 -38h0m-3 -137h0m9 84h0m-20 88h0m40 -60h0m-17 156h0m-15 -54h0m33 -364h0m-46 354h0m29 -54h0m6 335h0m-14 -372h0m11 -263h0m7 319h0m-13 -105h0m-23 -262h0m51 221h0m-13 154h0m3 -96h0m-42 -6h0m49 -168h0m-37 236h0m25 50h0m5 -96h0m-16 -131h0m22 241h0m-6 150h0m-39 -650h0m43 362h0m-9 190h0m-23 -146h0m1 -28h0m-2 -11h0m7 84h0m29 135h0m-22 82h0m16 -96h0m8 -295h0m-42 220h0m39 -201h0m5 277h0m-14 -405h0m-27 196h0m24 120h0m0 -298h0m-35 177h0m4 73h0m31 99h0m4 251h0m-37 -661h0m10 282h0m-6 -112h0m22 -90h0m-28 208h0m44 -143h0m-7 300h0m3 -91h0m-38 -431h0m39 466h0m-32 129h0m34 -13h0m-7 -95h0m-30 -17h0m15 18h0m6 -49h0m-1 -242h0m-18 189h0m6 47h0m9 -406h0m2 14h0m1 449h0m7 81h0m-27 -258h0m-5 174h0m3 8h0m30 -145h0m15 -14h0m-27 119h0m28 -41h0m-31 232h0m15 -127h0m-17 -336h0m26 267h0m-13 -175h0m6 51h0m-26 103h0m40 -72h0m-51 98h0m20 -343h0m28 116h0m-50 -80h0m28 118h0m-18 11h0m3 -90h0m24 105h0m7 -185h0m-1 641h0m-1 -293h0m-30 -168h0m2 229h0m9 -194h0m30 419h0m-11 -561h0m-32 421h0m4 -105h0m-15 -392h0m39 127h0m-26 415h0m-12 -234h0m7 -210h0m21 269h0m-14 -421h0m-10 347h0m34 -137h0m-7 122h0m13 -31h0m-12 -269h0m11 148h0m-12 25h0m-18 79h0m27 -46h0m0 47h0m10 96h0m-36 70h0m2 -230h0m24 217h0m-7 -1h0m-23 -53h0m-5 -109h0m7 8h0m23 -103h0m15 366h0m-34 -166h0m8 270h0m-3 -229h0m32 33h0m-46 -120h0m-4 214h0m6 -225h0m9 154h0m-12 299h0m0 -501h0m47 280h0m-8 -242h0m-32 28h0m5 442h0m23 -737h0m-10 -26h0m14 490h0m-40 -367h0m36 94h0m-5 44h0m-11 -131h0m23 545h0m-30 -422h0m-13 -31h0m7 -39h0m41 104h0m-13 -41h0m-2 72h0m12 120h0m-31 -283h0m32 173h0m-35 43h0m24 -52h0m-3 -185h0m14 232h0m-18 -268h0m-29 129h0m37 404h0m9 -238h0m-11 -96h0m-15 71h0m10 341h0m21 -512h0m-13 117h0m-32 264h0m6 -224h0m-5 -108h0m-1 84h0m17 -58h0m-20 -203h0m14 490h0m31 -279h0m-15 55h0m-15 -17h0m22 -56h0m5 264h0m-34 -271h0m30 -97h0m-7 335h0m-28 -335h0m34 478h0m-32 -218h0m39 7h0m104 -97h0m-22 36h0m-1 -203h0m13 283h0m-28 -247h0m27 189h0m-17 -249h0m39 59h0m-1 131h0m-2 -171h0m-10 243h0m4 138h0m-20 -233h0m-16 -153h0m50 115h0m-30 28h0m-26 -139h0m48 33h0m-18 201h0m-9 -185h0m-2 -48h0m29 45h0m-25 9h0m13 150h0m-17 -424h0m16 242h0m-6 158h0m-10 -181h0m5 382h0m-17 -278h0m14 -184h0m-8 101h0m13 136h0m28 -118h0m-32 57h0m6 53h0m-16 -106h0m32 92h0m2 -143h0m-13 154h0m-7 -286h0m19 181h0m-34 110h0m-2 -49h0m0 -1h0m24 -121h0m14 167h0m5 -172h0m-25 126h0m14 -63h0m-26 -240h0m-10 170h0m9 143h0m-7 -128h0m-6 66h0m11 0h0m9 -107h0m6 178h0m5 13h0m-5 -59h0m14 -96h0m-7 234h0m-8 -323h0m8 180h0m2 282h0m5 -262h0m12 4h0m21 -1h0m33 -9h0m-18 -49h0m8 -37h0m0 150h0m-4 52h0m2 -121h0m-8 100h0m-1 77h0m8 -118h0m-21 -113h0m0 207h0m19 -306h0m8 275h0m2 -62h0m-20 -30h0m-3 163h0m-12 -92h0m19 38h0m18 -163h0m-4 131h0m2 -27h0m-14 1h0m-5 -166h0m-3 49h0m-2 -19h0m26 144h0m-33 -132h0m14 179h0m74 -131h0m-2 23h0m3 195h0m-37 -53h0m-2 -119h0m16 46h0m28 343h0m-23 -266h0m21 -91h0m-25 94h0m26 -11h0m-40 -142h0m33 68h0m-17 -62h0m-17 -41h0m39 -31h0m-5 58h0m-21 189h0m-10 -121h0m19 30h0m4 -163h0m11 154h0m7 0h0m-37 -221h0m0 527h0m38 -329h0m-36 36h0m14 320h0m-20 -241h0m15 -171h0m-9 382h0m3 -384h0m-2 199h0m-10 -103h0m3 -31h0m33 -61h0m-26 159h0m22 -79h0m-23 -79h0m39 -85h0m-21 485h0m18 -295h0m-45 35h0m20 24h0m20 63h0m-29 18h0m-10 -224h0m10 216h0m-13 -245h0m27 -5h0m-17 296h0m34 -283h0m0 -137h0m-29 65h0m26 100h0m-25 58h0m-4 -115h0m15 286h0m20 -258h0m-49 183h0m40 -192h0m-16 167h0m11 66h0m16 -30h0m-45 -57h0m28 24h0m-30 33h0m25 -196h0m-7 25h0m9 229h0m-29 -70h0m15 -176h0m-7 176h0m-11 -212h0m14 107h0m-6 26h0m-3 125h0m13 -100h0m14 -271h0m14 254h0m3 35h0m-34 -164h0m30 167h0m7 -110h0m-5 76h0m-3 -179h0m-13 176h0m-13 -65h0m28 152h0m0 -197h0m-23 203h0m-1 -195h0m-16 -138h0m42 277h0m5 -99h0m-49 223h0m13 -177h0m8 -26h0m-16 65h0m41 -2h0m-31 -220h0m3 281h0m8 -71h0m10 -45h0m7 82h0m-45 -206h0m34 171h0m-34 -36h0m21 2h0m6 56h0m13 -216h0m-30 59h0m-5 334h0m31 -317h0m-22 117h0m-17 86h0m19 2h0m26 -91h0m-22 -105h0m-17 49h0m0 143h0m6 -13h0m37 0h0m-18 -182h0m-26 145h0m1 -156h0m28 -11h0m0 157h0m-16 269h0m31 -35h0m-46 -238h0m41 -142h0m-38 106h0m29 262h0m-35 -172h0m21 -84h0m-11 321h0m3 -244h0m4 -190h0m10 123h0m-2 -89h0m6 29h0m-28 97h0m47 -2h0m-8 -149h0m-23 62h0m33 191h0m-42 -70h0m-1 -11h0m-1 -180h0m28 77h0m-7 -176h0m3 508h0m11 -246h0m-19 21h0m19 14h0m-14 -107h0m-26 -80h0m21 147h0m-3 -162h0m33 115h0m-35 52h0m25 -209h0m-37 104h0m11 135h0m14 -211h0m3 121h0m-23 -53h0m-6 -185h0m38 342h0m-18 -117h0m-24 -95h0m46 57h0m-43 199h0m28 -334h0m15 243h0m-35 -21h0m16 -189h0m-4 310h0m0 -199h0m18 -169h0m-31 242h0m-8 -134h0m26 -7h0m8 181h0m-33 -90h0m37 221h0m-9 -176h0m-22 -255h0m36 19h0m-33 126h0m34 -10h0m-20 54h0m-24 120h0m35 -237h0m-11 89h0m-12 98h0m-3 141h0m22 -378h0m1 463h0m-31 -254h0m9 130h0m14 -275h0m-1 226h0m-8 6h0m23 -119h0m-15 24h0m6 100h0m-3 -33h0m79 -273h0m-27 -41h0m4 284h0m11 -285h0m-16 -25h0m-17 49h0m13 396h0m15 -100h0m16 -251h0m-34 -169h0m16 68h0m3 132h0m-7 -58h0m-13 -95h0m31 127h0m-23 -50h0m6 176h0m1 -163h0m-19 129h0m-9 11h0m26 -10h0m-9 2h0m-8 -77h0m30 -120h0m-10 36h0m-21 337h0m19 -252h0m18 -13h0m6 4h0m-9 126h0m-32 -170h0m26 -30h0m-19 108h0m28 -27h0m6 -56h0m-50 108h0m25 -194h0m-19 217h0m25 137h0m-4 -216h0m-20 48h0m-2 -22h0m7 -159h0m27 194h0m-8 269h0m10 -116h0m-35 -204h0m8 -219h0m16 310h0m8 135h0m-6 -310h0m-21 -129h0m28 111h0m-6 -88h0m5 165h0m-13 -77h0m4 7h0m-21 45h0m24 -68h0m2 182h0m7 162h0m1 -24h0m-3 -395h0m-14 197h0m20 119h0m-22 -135h0m7 265h0m-33 -309h0m37 74h0m2 -105h0m-10 100h0m-11 -29h0m12 -180h0m-21 331h0m16 -160h0m24 67h0m31 -134h0m28 -120h0m-40 224h0m33 -15h0m-10 -97h0m-33 13h0m41 -39h0m8 20h0m-2 17h0m-4 41h0m11 53h0m-48 -147h0m9 -32h0m-3 320h0m0 -300h0m11 54h0m24 119h0m-35 -191h0m16 243h0m21 -175h0m6 121h0m-54 -167h0m35 350h0m-9 -357h0m-21 31h0m1 41h0m4 91h0m42 -156h0m-26 33h0m17 67h0m-32 -57h0m2 102h0m-2 -107h0m28 17h0m-16 -58h0m5 146h0m-29 -9h0m29 -104h0m0 -41h0m20 36h0m-34 -28h0m8 224h0m-11 147h0m35 -350h0m-11 7h0m-13 369h0m-11 -82h0m40 -127h0m2 -163h0m-42 132h0m13 -213h0m-18 286h0m-1 -102h0m8 263h0m28 -356h0m-8 54h0m-17 93h0m2 -140h0m23 425h0m10 -452h0m-25 71h0m24 63h0m-28 -137h0m17 75h0m7 -135h0m-6 186h0m-26 -144h0m5 77h0m15 -32h0m-23 128h0m-2 -111h0m8 -29h0m2 55h0m13 -58h0m-16 116h0m-15 37h0m50 -4h0m-16 -205h0m2 -11h0m-5 534h0m-11 -375h0m117 164h0m-8 115h0m22 44h0m-7 -189h0m11 152h0m-17 -202h0m7 354h0m-18 -133h0m7 -26h0m-4 210h0m9 -298h0m2 78h0m-5 -91h0m20 -10h0m118 -125h0m-7 409h0m-7 -527h0m-22 51h0m25 -95h0m-9 -27h0m10 598h0m-18 -482h0m5 -15h0m3 9h0m-12 57h0m34 -7h0m-8 -216h0m-29 192h0m33 131h0m7 -215h0m-13 130h0m-18 -192h0m-15 114h0m37 176h0m-17 28h0m7 -362h0m13 269h0m-30 -36h0m-3 -8h0m22 -221h0m5 165h0m-18 146h0m-11 -249h0m30 503h0m1 -359h0m-13 33h0m-5 207h0m9 -217h0m15 338h0m-33 -69h0m11 -214h0m14 224h0m-26 -387h0m7 -217h0m-2 495h0m21 6h0m-12 154h0m16 -135h0m-28 -147h0m-1 -152h0m23 -8h0m-11 225h0m8 -116h0m-1 122h0m0 -439h0m-1 317h0m13 58h0m-30 27h0m27 -168h0m3 -104h0m10 247h0m-11 -340h0m-11 234h0m20 -70h0m-35 134h0m4 74h0m13 -114h0m-29 148h0m6 228h0m31 74h0m-32 -478h0m40 84h0m-17 -191h0m-32 30h0m42 -142h0m-26 343h0m-6 -20h0m7 -191h0m-17 -38h0m31 99h0m0 28h0m-1 80h0m14 -193h0m-24 -73h0m11 248h0m-12 56h0m-10 -175h0m1 89h0m-5 102h0m27 -190h0m-12 134h0m-14 9h0m46 76h0m2 -306h0m-45 434h0m-9 -277h0m5 55h0m17 -189h0m-19 225h0m29 265h0m-32 -485h0m24 192h0m32 19h0m-39 -50h0m8 216h0m14 -299h0m-25 151h0m20 -161h0m-9 114h0m-21 63h0m17 -75h0m18 82h0m-12 -88h0m-13 -117h0m-11 141h0m13 312h0m33 -381h0m-14 121h0m-7 -8h0m14 151h0m-33 -148h0m1 -33h0m-3 -99h0m30 103h0m6 -151h0m-6 408h0m-37 -421h0m29 56h0m25 83h0m-18 29h0m3 -259h0m-8 251h0m-15 -238h0m7 -51h0m9 30h0m3 162h0m-2 222h0m-12 -189h0m-1 -286h0m2 342h0m14 -221h0m-10 113h0m7 88h0m-29 -184h0m12 216h0m31 162h0m-25 -207h0m17 405h0m-25 -347h0m31 -60h0m-7 -37h0m1 131h0m-20 137h0m-2 -158h0m139 -184h0m-2 -72h0m-11 0h0m7 322h0m-20 -75h0m3 109h0m8 -34h0m3 -3h0m2 -359h0m1 431h0m-15 -70h0m13 -104h0m-7 -303h0m16 -11h0m-4 424h0m0 33h0m-7 -151h0m6 -269h0m33 290h0m33 -228h0m-13 38h0m4 318h0m-29 -133h0m26 238h0m-14 -487h0m31 121h0m-35 -53h0m1 44h0m1 427h0m35 -460h0m-26 129h0m-1 -20h0m30 -122h0m-23 204h0m17 -11h0m-14 -60h0m19 -2h0m-40 14h0m10 332h0m9 -515h0m-8 133h0m22 -82h0m-8 46h0m-2 -130h0m1 40h0m-30 171h0m48 53h0m-36 -223h0m2 67h0m9 137h0m24 -139h0m-10 -96h0m-24 4h0m13 78h0m-18 25h0m5 47h0m11 375h0m-3 -274h0m-10 17h0m23 81h0m5 -430h0m-2 23h0m-32 162h0m6 375h0m13 -419h0m-27 31h0m22 360h0m4 29h0m-1 -602h0m0 361h0m-25 -190h0m-1 51h0m24 -138h0m13 313h0m15 -27h0m-40 -23h0m5 -78h0m0 398h0m-4 -316h0m12 329h0m-18 -573h0m17 116h0m-11 451h0m3 -666h0m2 192h0m15 200h0m-15 285h0m-2 -512h0m21 406h0m-1 -485h0m-25 -72h0m5 319h0m4 -151h0m105 338h0m13 17h0m-22 -122h0m23 156h0m18 83h0m-16 -61h0m27 -58h0m-25 -122h0m-20 49h0m10 77h0m3 78h0m17 -121h0m15 61h0m-51 -119h0m41 -214h0m-18 221h0m14 286h0m-12 -335h0m-25 34h0m46 -3h0m3 -1h0m-11 -88h0m-1 87h0m-6 -155h0m4 161h0m-10 155h0m15 51h0m-26 -76h0m8 -290h0m-15 276h0m13 143h0m-8 -137h0m29 28h0m6 -66h0m-7 197h0m-5 -200h0m-15 -248h0m7 391h0m3 -283h0m-1 43h0m-11 4h0m10 -26h0m-21 1h0m23 200h0m-4 19h0m-1 162h0m-13 -298h0m23 127h0m-4 -403h0m-11 463h0m9 -296h0m24 181h0m-4 40h0m-16 14h0m-17 -13h0m16 -429h0m3 581h0m-21 -221h0m13 -101h0m-13 -68h0m133 -82h0m-23 -121h0m5 90h0m20 517h0m20 -378h0m-16 224h0m-35 -435h0m47 -90h0m-42 211h0m15 7h0m-16 22h0m48 -28h0m-11 -40h0m-23 19h0m-13 169h0m25 -8h0m-21 -100h0m-4 -84h0m23 147h0m11 -223h0m-15 145h0m-12 -192h0m7 224h0m30 11h0m-29 351h0m3 -177h0m-23 -333h0m45 115h0m-13 309h0m-13 -291h0m15 53h0m-1 -76h0m20 72h0m-54 -97h0m44 104h0m-12 5h0m-29 119h0m6 -169h0m32 285h0m-32 -323h0m-7 109h0m46 18h0m-12 111h0m-38 -222h0m16 442h0m3 -562h0m13 -1h0m20 199h0m-11 -158h0m12 22h0m-35 167h0m-15 -19h0m21 -6h0m17 -67h0m-28 -68h0m5 169h0m-9 -187h0m34 -49h0m-26 365h0m31 -82h0m-34 -45h0m-11 -57h0m5 -7h0m0 -127h0m2 357h0m34 -27h0m-14 -118h0m-18 -87h0m-2 -22h0m22 88h0m0 -44h0m-29 -17h0m25 318h0m8 -578h0m-35 165h0m20 157h0m17 -137h0m-29 78h0m34 210h0m-43 -410h0m11 152h0m25 64h0m-17 -49h0m-3 17h0m12 -8h0m-10 -139h0m0 35h0m31 -39h0m-26 193h0m-13 197h0m15 -350h0m-17 390h0m5 -301h0m5 -213h0m15 182h0m18 -65h0m-12 71h0m-30 24h0m28 54h0m-1 129h0m-25 -104h0m42 -196h0m-13 112h0m-18 293h0m3 -267h0m-20 -95h0m40 21h0m-5 62h0m-26 105h0m19 -347h0m11 382h0m-23 -239h0m22 17h0m-28 251h0m18 -255h0m-3 358h0m-20 -177h0m40 -184h0m-48 -58h0m34 278h0m18 -222h0m-46 206h0m18 -115h0m-23 -153h0m37 21h0m-2 -61h0m-12 492h0m-2 -325h0m29 -22h0m-43 124h0m-4 -353h0m33 184h0m2 175h0m0 -348h0m-29 529h0m21 -367h0m-20 183h0m-10 -29h0m19 3h0m28 -84h0m0 6h0m-37 -104h0m5 349h0m21 -142h0m2 -276h0m15 211h0m-54 66h0m35 -29h0m12 -140h0m-22 43h0m1 -95h0m-4 -132h0m6 606h0m-13 -272h0m16 -133h0m-32 -16h0m36 340h0m15 -408h0m-14 -56h0m-18 187h0m-2 -184h0m-18 23h0m18 161h0m8 186h0m6 -276h0m6 240h0m-37 -320h0m8 186h0m-4 32h0m44 -90h0m-27 47h0m-17 -82h0m-3 41h0m33 99h0m3 -81h0m3 118h0m-19 91h0m-18 -281h0m41 -2h0m-23 72h0m33 -92h0m-32 523h0m11 -492h0m-32 227h0m16 -382h0m-5 217h0m27 255h0m-27 -314h0m-8 -104h0m161 54h0m-30 193h0m13 272h0m-11 -311h0m14 -159h0m-21 91h0m-6 -22h0m8 144h0m-5 -200h0m9 204h0m7 -165h0m9 -6h0m-23 4h0m12 131h0m-14 24h0m14 -156h0m-4 -74h0m19 108h0m-20 -80h0m18 -94h0m-1 426h0m-10 -246h0m11 135h0m-6 -145h0m-15 -53h0m13 101h0m-22 -123h0m5 -75h0m5 466h0m4 -431h0m17 28h0m40 10h0m13 89h0m-21 39h0m42 37h0m-5 106h0m-45 -283h0m21 34h0m-20 146h0m1 -55h0m28 108h0m9 -196h0m-34 -174h0m18 411h0m-1 -56h0m-18 -34h0m17 -118h0m-3 -39h0m5 59h0m1 75h0m-9 -20h0m0 130h0m-5 -407h0m7 235h0m-23 69h0m40 -76h0m-20 -45h0m1 394h0m21 -312h0m-26 205h0m32 -61h0m1 -203h0m3 11h0m-33 -38h0m18 -50h0m2 607h0m1 -516h0m0 334h0m8 -186h0m-22 -70h0m-14 -124h0m7 190h0m8 164h0m28 -392h0m-35 97h0m25 -188h0m-16 660h0m-11 -551h0m-3 405h0m16 -231h0m3 -157h0m-9 449h0m-5 -277h0m17 25h0m-17 -33h0m28 -82h0m-38 -70h0m20 5h0m1 432h0m21 -446h0m-14 -163h0m0 164h0m-26 359h0m43 -184h0m-10 -88h0m-2 -40h0m4 -144h0m-26 290h0m-19 24h0m25 -299h0m2 -8h0m11 409h0m0 -356h0m-25 234h0m20 -181h0m-10 -47h0m18 225h0m-34 -201h0m-8 4h0m13 466h0m38 -410h0m-4 221h0m-46 -277h0m13 27h0m22 89h0m0 -142h0m18 206h0m-31 286h0m-4 -255h0m17 -298h0m11 70h0m-21 212h0m-8 -131h0m12 99h0m-18 195h0m4 -290h0m3 -230h0m3 181h0m1 185h0m13 -228h0m-17 -77h0m-6 268h0m17 -114h0m11 -8h0m-11 277h0m-22 -309h0m41 181h0m-39 313h0m26 -127h0m9 -398h0m-36 20h0m-2 9h0m21 161h0m-27 -108h0m23 241h0m-2 -358h0m3 221h0m13 -170h0m-22 -93h0m-4 325h0m32 -2h0m-19 -118h0m17 288h0m-17 -321h0m-9 -105h0m1 81h0m18 134h0m-4 -58h0m13 375h0m-11 -204h0m17 -101h0m-49 -111h0m5 -6h0m40 20h0m-37 -65h0m27 -29h0m-6 -6h0m-11 129h0m6 129h0m-9 -29h0m32 -52h0m-44 -98h0m13 177h0m28 145h0m-33 7h0m9 -211h0m86 423h0m-36 -4h0m5 -37h0m5 46h0m-1 -268h0m15 153h0m15 101h0m-4 -26h0m2 37h0m-23 -157h0m-20 151h0m9 -93h0m24 -13h0m-11 36h0m0 61h0m120 -323h0m-2 44h0m-3 -383h0m-16 528h0m20 13h0m-27 -2h0m-2 59h0m11 -15h0m7 -368h0m-5 473h0m11 -581h0m10 358h0m-25 161h0m34 -121h0m-40 38h0m-3 27h0m-2 -130h0m20 96h0m9 137h0m-3 -450h0m-25 253h0m4 64h0m23 57h0m-1 9h0m5 -468h0m0 530h0m-27 -35h0m48 -128h0m-37 -24h0m13 -36h0m-14 -337h0m-3 450h0m11 24h0m29 34h0m-29 -282h0m-4 -276h0m20 522h0m5 72h0m-32 -120h0m33 -50h0m-15 81h0m-13 -287h0m32 228h0m-14 -129h0m18 159h0m-49 -92h0m-4 170h0m9 -136h0m17 107h0m-22 60h0m7 -61h0m-8 -164h0m0 85h0m8 49h0m37 -81h0m2 82h0m-41 -2h0m-7 38h0m26 -434h0m-9 -127h0m-9 478h0m41 -53h0m-17 237h0m-6 -77h0m-17 -112h0m6 17h0m4 -9h0m-13 179h0m28 -225h0m-12 132h0m20 -101h0m-34 -22h0m41 -21h0m-10 48h0m-35 19h0m-5 77h0m46 -146h0m-29 17h0m23 54h0m7 52h0m-16 -8h0m16 -76h0m-48 -19h0m39 100h0m15 14h0m-37 107h0m5 -163h0m12 -232h0m-35 212h0m54 55h0m-27 31h0m13 -62h0m-1 -490h0m-12 404h0m17 138h0m-42 -128h0m9 223h0m30 -590h0m-8 13h0m-12 458h0m6 32h0m26 -137h0m-22 72h0m23 60h0m-45 -74h0m4 12h0m25 -324h0m-13 487h0m-23 -232h0m11 18h0m6 158h0m-15 -36h0m12 -29h0m32 -40h0m-35 46h0m20 -103h0m-21 22h0m26 81h0m-31 56h0m38 -492h0m-28 474h0m-2 -390h0m-5 364h0m30 -394h0m-37 441h0m37 -264h0m-27 122h0m2 181h0m29 -72h0m-13 -15h0m-22 -228h0m-8 193h0m37 -32h0m-25 62h0m6 -101h0m32 101h0m-36 -221h0m-5 138h0m29 -34h0m-14 78h0m29 15h0m-38 52h0m17 -368h0m13 326h0m-6 11h0m-28 30h0m28 -351h0m-15 -99h0m15 -175h0m13 482h0m-8 -116h0m-29 210h0m35 -144h0m-46 172h0m16 -174h0m6 74h0m-13 -94h0m41 85h0m-17 197h0m-23 -232h0m-1 216h0m3 -77h0m34 -70h0m-44 138h0m31 -306h0m-30 193h0m26 -93h0m-9 159h0m27 -140h0m-9 207h0m-23 -264h0m-2 126h0m9 -185h0m12 226h0m-30 27h0m32 -41h0m-18 -390h0m3 452h0m29 -52h0m-16 -130h0m-10 -21h0m14 228h0m-27 -625h0m-7 528h0m40 -172h0m-19 274h0m-29 -95h0m41 -58h0m-8 -61h0m1 -289h0m20 314h0m0 126h0m-17 -35h0m-5 -29h0m11 0h0m-36 -80h0m45 11h0m112 74h0m6 78h0m-7 41h0m-25 -104h0m7 -446h0m-4 403h0m-4 30h0m19 -325h0m-32 279h0m26 17h0m14 -54h0m-26 143h0m15 73h0m-30 -210h0m3 103h0m-7 2h0m23 -102h0m12 83h0m-16 -453h0m-21 560h0m51 -149h0m-46 130h0m36 17h0m10 -63h0m2 -64h0m-53 70h0m4 37h0m-6 -14h0m55 -1h0m-37 -215h0m1 269h0m-13 -146h0m26 92h0m23 7h0m-26 62h0m2 6h0m-8 -60h0m-21 -120h0m27 34h0m-6 -14h0m-14 139h0m30 -62h0m-32 -7h0m0 39h0m-4 -142h0m33 113h0m-3 -16h0m-17 -185h0m11 206h0m8 -66h0m-2 -248h0m12 263h0m-11 79h0m-30 -175h0m2 15h0m34 -276h0m-1 327h0m-10 -204h0m-15 8h0m40 186h0m0 77h0m-3 -67h0m-47 74h0m0 -46h0m16 -25h0m18 84h0m-7 -76h0m-14 63h0m7 25h0m17 25h0m-18 -539h0m-2 353h0m-1 182h0m19 -138h0m8 84h0m-17 34h0m-25 2h0m11 -140h0m6 -457h0m-4 565h0m-11 -77h0m29 -73h0m-2 -289h0m-29 349h0m32 -18h0m14 -9h0m-32 -361h0m-10 495h0m39 -61h0m-13 39h0m20 -92h0m-28 -65h0m0 130h0m-12 -201h0m38 270h0m-33 -261h0m24 112h0m-34 115h0m32 -28h0m-36 -1h0m134 -472h0m13 75h0m-28 1h0m41 -128h0m-45 22h0m0 -1h0m25 234h0m16 -272h0m-7 150h0m3 80h0m-17 -177h0m-18 70h0m9 102h0m-8 -102h0m23 175h0m-24 -236h0m45 13h0m1 15h0m-48 103h0m19 -80h0m-1 146h0m-13 -192h0m30 313h0m-3 -373h0m0 331h0m5 -240h0m-13 -282h0m13 22h0m-25 393h0m11 27h0m9 -394h0m-25 176h0m-6 32h0m-6 -26h0m26 27h0m8 16h0m9 64h0m-13 -105h0m-16 -194h0m27 429h0m-25 -134h0m10 -95h0m22 155h0m-33 -80h0m12 94h0m-3 -360h0m0 28h0m7 191h0m5 270h0m-4 -313h0m15 149h0m-27 -275h0m-11 291h0m39 11h0m-36 -220h0m18 -45h0m11 189h0m-4 -62h0m-1 220h0m18 -93h0m-45 -52h0m16 -232h0m-1 372h0m42 281h0m0 -414h0m30 193h0m-10 152h0m6 106h0m3 -18h0m12 -209h0m-33 -38h0m12 194h0m26 -95h0m-23 -30h0m-21 -25h0m43 -46h0m-44 136h0m22 -15h0m-13 -63h0m-16 64h0m33 -171h0m-11 -68h0m-11 244h0m11 -71h0m29 160h0m-2 -204h0m-34 61h0m-9 -86h0m45 -133h0m-8 187h0m-16 14h0m-12 95h0m-2 -42h0m37 -150h0m-50 74h0m32 -203h0m-2 257h0m1 45h0m-22 -107h0m27 -36h0m-20 5h0m10 -148h0m-6 306h0m6 -406h0m-24 272h0m34 177h0m-26 -114h0m-5 73h0m19 -106h0m-24 -55h0m12 73h0m20 197h0m-14 -242h0m18 -120h0m-7 188h0m-6 149h0m14 -555h0m16 377h0m-53 28h0m46 20h0m0 -97h0m-36 247h0m-10 -234h0m-1 -52h0m23 -274h0m22 313h0m-14 215h0m18 -160h0m-3 -21h0m-33 -55h0m15 -262h0m7 548h0m-36 -283h0m13 186h0m33 90h0m-24 -600h0m-8 426h0m37 -37h0m-44 163h0m5 -159h0m9 -193h0m22 252h0m-12 34h0m0 -54h0m15 125h0m6 -154h0m-26 -380h0m-23 313h0m36 -17h0m-29 37h0m3 252h0m38 -219h0m-36 260h0m12 -457h0m12 306h0m-19 -328h0m7 -182h0m18 588h0m-39 -184h0m0 78h0m-2 -129h0m13 314h0m-11 -239h0m48 16h0m-20 152h0m-21 -219h0m20 5h0m17 -27h0m-15 10h0m-6 -147h0m21 215h0m-15 -103h0m7 313h0m-39 -179h0m-3 -123h0m36 118h0m6 31h0m-37 -45h0m14 -94h0m22 140h0m-20 -54h0m12 -135h0m-26 9h0m16 136h0m27 -6h0m-21 -113h0m-4 -347h0m17 333h0m-10 -145h0m1 207h0m-25 -32h0m13 27h0m28 68h0m-40 -59h0m14 105h0m-8 -37h0m16 46h0m6 -304h0m8 249h0m-35 35h0m19 46h0m-3 78h0m-1 -257h0m-18 -178h0m28 341h0m15 -124h0m-12 83h0m14 -113h0m-26 124h0m24 -8h0m-23 151h0m-5 -153h0m27 72h0m0 -132h0m-18 -17h0m5 -210h0m-17 327h0m6 -364h0m-3 396h0m-8 -124h0m23 -85h0m-22 145h0m-14 -91h0m2 -33h0m36 201h0m-14 -178h0m6 103h0m-26 -14h0m28 192h0m16 -331h0m-34 -264h0m12 540h0m9 -255h0m19 168h0m-39 110h0m30 -281h0m-31 -366h0m5 398h0m-13 -205h0m27 -155h0m-9 41h0m-12 357h0m24 -182h0m-11 40h0m-3 56h0m0 30h0m22 151h0m4 -138h0m-33 -123h0m16 186h0m12 222h0m-39 -77h0m34 -143h0m-20 166h0m90 -210h0m-45 153h0m6 -444h0m37 366h0m-12 -403h0m7 227h0m-7 249h0m2 -107h0m-2 77h0m5 -362h0m11 299h0m-37 -159h0m13 242h0m-28 -55h0m5 -134h0m27 -15h0m-6 -4h0m-15 162h0m20 -45h0m9 84h0m-1 -249h0m-19 -1h0m10 129h0m-9 123h0m4 -43h0m4 114h0m18 -382h0m-43 7h0m18 217h0m13 -365h0m-26 -9h0m27 -83h0m-31 264h0m30 295h0m-3 -134h0m3 -325h0m-34 444h0m26 -512h0m-21 504h0m19 -78h0m24 -85h0m-26 74h0m11 -318h0m15 111h0m-31 247h0m9 -25h0m4 -68h0m-19 -123h0m12 -95h0m4 270h0m19 -88h0m-35 205h0m4 101h0m-7 -288h0m23 -188h0m15 353h0m4 -160h0m-13 -91h0m0 376h0m1 -221h0m-23 -170h0m24 19h0m-30 196h0m32 -263h0m-36 391h0m4 -97h0m-6 -179h0m30 -330h0m-8 622h0m-19 -367h0m47 3h0m-42 10h0m39 -8h0m-26 325h0m12 -103h0m6 -358h0m-17 -111h0m18 521h0m-9 -290h0m4 -207h0m12 398h0m-31 -102h0m18 -60h0m-12 204h0m-8 -238h0m-6 100h0m17 -384h0m-29 390h0m21 109h0m1 34h0m-8 47h0m14 -247h0m-15 177h0m-8 -31h0m15 -461h0m6 371h0m7 -281h0m-15 233h0m15 221h0m-3 -166h0m20 134h0m-36 -33h0m7 -202h0m-6 131h0m1 -12h0m6 -190h0m2 244h0m10 37h0m-27 131h0m17 -290h0m3 298h0m22 -97h0m-20 -247h0m12 -13h0m-16 369h0m12 -137h0m-13 -222h0m10 345h0m-6 -148h0m-23 -118h0m15 186h0m25 114h0m-22 -674h0m10 508h0m-31 -50h0m8 -309h0m30 -113h0m-12 573h0m4 -512h0m2 300h0m100 -165h0m17 101h0m-36 -150h0m3 109h0m43 -56h0m-23 6h0m15 24h0m-26 -163h0m12 184h0m-9 33h0m30 29h0m-14 -28h0m-3 -72h0m8 -39h0m-19 21h0m-16 -24h0m43 -105h0m-38 174h0m43 74h0m5 -21h0m-36 -37h0m3 22h0m-3 36h0m-6 170h0m30 -62h0m-8 -182h0m-3 -91h0m2 178h0m19 -154h0m-5 155h0m-43 -22h0m15 -36h0m33 -218h0m-29 72h0m16 52h0m-27 191h0m3 -500h0m30 401h0m-3 -63h0m-11 280h0m-17 -425h0m14 201h0m18 -88h0m2 152h0m4 22h0m-24 -375h0m9 387h0m-35 -249h0m12 -124h0m4 246h0m14 98h0m19 61h0m-6 -167h0m-34 166h0m6 -164h0m5 84h0m-1 -147h0m-9 152h0m-3 -138h0m29 -125h0m-33 135h0m35 151h0m-10 267h0m15 -233h0m0 -495h0m-10 485h0m-32 -209h0m17 -95h0m20 352h0m-26 -125h0m-12 -11h0m41 50h0m-27 -41h0m18 9h0m-27 0h0m37 -65h0m5 81h0m2 27h0m-31 -62h0m-10 -82h0m2 158h0m22 -132h0m3 245h0m-23 63h0m28 -321h0m-6 19h0m-25 -290h0m-5 352h0m3 -144h0m16 -5h0m12 26h0m1 34h0m-22 -17h0m16 -260h0m-10 509h0m14 -165h0m9 -252h0m-26 151h0m6 41h0m9 -44h0m7 462h0m-19 -324h0m-8 -119h0m-7 227h0m6 -42h0m-13 -27h0m13 -145h0m-3 46h0m32 -61h0m-7 446h0m-13 -45h0m-3 -355h0m9 67h0m25 17h0m-38 -391h0m37 283h0m-21 -60h0m-27 148h0m41 -113h0m-19 16h0m-18 37h0m44 104h0m-5 153h0m-29 -304h0m-15 -49h0m44 179h0m-8 -88h0m-8 -61h0m0 -128h0m9 267h0m11 -100h0m-49 166h0m26 0h0m1 -491h0m15 761h0m-25 -260h0m-7 21h0m25 84h0m-35 -334h0m29 85h0m6 -34h0m-1 174h0m-12 -78h0m13 293h0m-1 -490h0m14 185h0m-35 306h0m18 -165h0m-2 78h0m-27 -234h0m38 -44h0m-4 -70h0m10 93h0m-47 92h0m52 -116h0m-1 58h0m-15 57h0m-29 -148h0m43 283h0m0 -315h0m-8 33h0m-22 28h0m19 87h0m-13 328h0m-2 -295h0m-7 47h0m-6 -37h0m35 140h0m-5 -355h0m-5 122h0m-32 34h0m21 -231h0m16 107h0m-22 -149h0m12 154h0m-17 -15h0m11 -149h0m10 267h0m120 -8h0m-16 -66h0m20 123h0m-14 54h0m-4 131h0m-12 -265h0m19 -276h0m-27 527h0m24 -26h0m-30 -232h0m19 -83h0m-19 43h0m31 244h0m-5 -310h0m10 121h0m16 -112h0m-14 -27h0m-12 -57h0m24 117h0m-26 47h0m-5 -168h0m8 201h0m-23 -54h0m25 -140h0m25 -81h0m-30 47h0m-8 341h0m1 81h0m6 -311h0m16 47h0m1 78h0m-34 -108h0m26 -215h0m-12 191h0m-17 243h0m4 -131h0m-2 -261h0m49 167h0m-6 -94h0m6 137h0m-13 20h0m11 -242h0m-1 6h0m-42 136h0m22 408h0m21 -533h0m0 287h0m-14 -396h0m-13 471h0m-6 -182h0m21 33h0m-36 84h0m17 -170h0m25 -77h0m-26 23h0m17 77h0m1 -97h0m3 369h0m-1 -123h0m14 -61h0m-42 13h0m24 -8h0m12 -12h0m-45 276h0m27 -317h0m15 170h0m-12 -98h0m-13 -209h0m16 92h0m-33 -41h0m3 304h0m7 -321h0m19 34h0m-32 122h0m9 54h0m-3 -315h0m34 543h0m-12 -138h0m-16 -495h0m18 505h0m-24 -130h0m26 -157h0m-2 141h0m-21 131h0m9 -40h0m-8 -83h0m6 153h0m15 137h0m16 -469h0m-46 80h0m28 412h0m1 -351h0m-2 254h0m22 -501h0m-14 337h0m-11 -111h0m22 -109h0m-16 192h0m23 -87h0m-19 269h0m-6 -131h0m-9 -247h0m2 101h0m-14 94h0m28 67h0m8 -233h0m-36 204h0m26 -325h0m-27 219h0m6 -20h0m3 -4h0m-9 165h0m6 -43h0m-2 210h0m15 -528h0m2 486h0m4 -197h0m-19 -108h0m9 -85h0m14 4h0m-1 204h0m-24 -61h0m0 -5h0m31 103h0m-20 -323h0m17 72h0m-7 110h0m-4 107h0m-11 -89h0m36 80h0m-26 -242h0m26 225h0m0 -26h0m-25 310h0m20 -319h0m-40 -91h0m39 59h0m-44 4h0m15 -3h0m-16 21h0m1 -18h0m40 -301h0m-36 152h0m36 163h0m-41 70h0m52 69h0m-26 -273h0m-15 210h0m37 -124h0m-35 -154h0m-8 -38h0m48 105h0m-21 208h0m5 -271h0m-10 -5h0m-7 -80h0m3 466h0m-2 -86h0m-17 -232h0m18 224h0m-13 -11h0m38 -99h0m-39 25h0m39 -12h0m-29 -279h0m19 333h0m-4 -309h0m3 291h0m-28 -86h0m133 128h0m21 7h0m-10 65h0m6 -74h0m-5 -4h0m-10 -57h0m15 26h0m-23 230h0m5 -103h0m-14 -155h0m8 202h0m21 -13h0m-29 -326h0m13 434h0m-16 -253h0m1 89h0m14 42h0m-2 -172h0m22 45h0m7 8h0m-8 -30h0m-25 84h0m23 21h0m-34 -54h0m21 189h0m-8 -100h0m10 -155h0m-8 331h0m12 -306h0m52 263h0m-14 -167h0m25 -274h0m-22 146h0m15 -12h0m-15 6h0m-7 -203h0m29 235h0m-17 -23h0m-9 -58h0m5 -70h0m27 88h0m5 -6h0m-12 14h0m11 -127h0m0 112h0m-11 286h0m9 -484h0m-4 141h0m-3 81h0m-9 29h0m11 46h0m2 -146h0m-5 30h0m-37 107h0m26 -151h0m-9 -36h0m-4 -106h0m5 146h0m27 67h0m-35 -202h0m23 99h0m-13 261h0m-16 -206h0m17 198h0m0 -284h0m28 20h0m-39 -26h0m1 256h0m36 -147h0m-25 -106h0m17 88h0m-18 -118h0m13 225h0m-34 -121h0m27 63h0m9 10h0m7 30h0m4 -8h0m2 -89h0m-17 441h0m-29 -354h0m19 23h0m31 -155h0m-49 56h0m6 16h0m35 -38h0m-8 304h0m-17 -242h0m12 2h0m20 27h0m-9 35h0m-42 -7h0m24 -233h0m0 184h0m-10 356h0m4 -310h0m1 69h0m-11 -41h0m15 -78h0m25 -70h0m-21 30h0m-1 4h0m-15 97h0m17 -222h0m5 106h0m-22 247h0m2 -248h0m-6 87h0m-10 -88h0m28 449h0m12 -64h0m0 -347h0m-12 126h0m13 -85h0m-39 -107h0m36 129h0m-8 -96h0m-23 -5h0m42 115h0m-15 -150h0m-31 81h0m1 -29h0m21 -71h0m14 140h0m-6 -36h0m-28 -21h0m15 4h0m-15 -72h0m35 185h0m3 -70h0m-17 219h0m17 -114h0m-14 -131h0m20 17h0m-20 32h0m9 -89h0m-24 -8h0m35 -8h0m-4 -117h0m15 374h0m21 -135h0m-2 -108h0m-3 190h0m7 58h0m-9 31h0m39 -89h0m-28 -58h0m17 141h0m-25 -250h0m29 243h0m-33 -27h0m-14 101h0m43 -238h0m-24 47h0m12 182h0m2 -88h0m-16 -85h0m15 169h0m4 -31h0m-1 -162h0m-27 114h0m26 -20h0m-1 -53h0m-3 -17h0m-13 177h0m13 -35h0m-5 64h0m13 -87h0m-5 95h0m-3 -290h0m9 72h0m-1 134h0m12 -34h0m-41 112h0m28 -79h0m-9 -51h0m14 -7h0m-41 -53h0m26 -61h0m-15 35h0m13 246h0m2 -24h0m1 15h0m6 -128h0m1 -35h0m17 -45h0m-7 -6h0m1 -50h0m-22 210h0m30 -135h0m-27 -15h0m-15 -47h0m-7 226h0m6 -134h0m26 -212h0m16 239h0m-27 -160h0m-7 57h0m28 109h0m-28 16h0m-2 -67h0m8 113h0m5 -163h0m-31 94h0m10 -55h0m8 130h0m18 -226h0m-4 301h0m96 12h0m36 114h0m-15 23h0m-22 -142h0m18 -86h0m-20 92h0m44 100h0m-7 -94h0m-8 87h0m-15 -127h0m5 159h0m20 -96h0m-25 32h0m28 -51h0m-45 48h0m-2 7h0m26 -49h0m22 48h0m-7 50h0m-24 -123h0m25 142h0m-15 -93h0m-8 -56h0m-8 115h0m-1 -40h0m12 -102h0m15 62h0m-12 112h0m0 -118h0m3 12h0m4 -122h0m-21 93h0m30 139h0m-24 -232h0m28 81h0m-30 5h0m-1 11h0m7 -15h0m25 139h0m-20 -61h0m18 -15h0m0 84h0m-6 -222h0m-40 226h0m30 1h0m-28 -21h0m7 -98h0m44 -37h0m-40 58h0m40 53h0m-21 -90h0m-6 124h0m-19 -93h0m40 90h0m2 -2h0m-10 -247h0m-1 195h0m-19 44h0m10 -226h0m24 234h0m-55 -6h0m27 -60h0m22 59h0m-47 0h0m138 -384h0m21 370h0m-10 -123h0m-19 -235h0m14 258h0m19 -6h0m-36 20h0m6 121h0m0 -100h0m22 -90h0m-33 148h0m35 -76h0m-27 -3h0m14 41h0m-9 32h0m11 3h0m-6 -135h0m-13 176h0m15 -122h0m-24 -94h0m42 101h0m-35 87h0m33 -20h0m8 -74h0m-40 85h0m42 -164h0m-36 -116h0m19 277h0m-31 21h0m50 -37h0m-32 22h0m-2 -70h0m-11 -133h0m40 203h0m-50 -19h0m51 -104h0m-44 17h0m35 110h0m-40 -23h0m-1 12h0m18 1h0m-18 -72h0m37 -111h0m3 5h0m-2 155h0m-6 19h0m16 -52h0m-9 -43h0m1 -89h0m-26 -83h0m11 -39h0m-7 59h0m34 100h0m-1 -33h0m-19 137h0m-22 -383h0m18 428h0m11 -76h0m-36 121h0m40 -19h0m-3 -109h0m-23 -202h0m-12 226h0m-4 58h0m26 -2h0m-11 -113h0m-16 35h0m26 -130h0m-14 22h0m1 191h0m0 10h0m26 -109h0m-14 98h0m-21 -31h0m15 -147h0m-5 200h0m-10 5h0m24 -59h0m-27 29h0m40 1h0m-16 -153h0m10 155h0m-7 -75h0m25 81h0m-22 -349h0m-24 308h0m11 -383h0m7 450h0m3 -174h0m7 -26h0m-14 -216h0m28 315h0m-30 -53h0m0 113h0m23 6h0m-30 7h0m15 -17h0m-8 32h0m14 -86h0m1 -33h0m5 -7h0m-26 -46h0m23 127h0m-36 -82h0m15 89h0m30 -39h0m-35 -47h0m0 -50h0m17 160h0m15 -127h0m9 -39h0m-25 113h0m2 -48h0m22 -61h0m-12 114h0m-38 29h0m21 2h0m31 21h0m-10 -441h0m-42 284h0m0 134h0m16 -382h0m-16 408h0m3 -146h0m0 -160h0m12 291h0m-8 -109h0m0 5h0m20 147h0m-26 -39h0m36 -313h0m-31 200h0m32 127h0m-8 -149h0m22 49h0m-9 76h0m-12 -133h0m8 -92h0m-39 100h0m1 126h0m18 -23h0m5 -130h0m9 20h0m0 23h0m-26 71h0m31 -86h0m-21 134h0m35 19h0m-35 -89h0m28 -131h0m-10 -242h0m13 475h0m-29 -447h0m23 325h0m-10 -213h0m0 109h0m-21 196h0m29 -30h0m-24 -422h0m11 444h0m-22 2h0m38 -53h0m1 -110h0m-16 -39h0m-16 150h0m15 -264h0m-11 104h0m-3 96h0m24 134h0m-22 -159h0m-10 143h0m4 -73h0m10 15h0m5 65h0m1 -6h0m6 -371h0m6 323h0m-5 -299h0m122 -300h0m-13 222h0m-2 -11h0m-15 6h0m9 -211h0m14 -1h0m-31 58h0m4 93h0m18 214h0m-4 -344h0m18 168h0m1 -29h0m-25 -110h0m25 307h0m-22 -269h0m-15 118h0m3 -166h0m4 178h0m34 -14h0m0 -126h0m-18 -31h0m1 -71h0m24 63h0m-13 -47h0m6 -57h0m-6 102h0m17 44h0m-24 91h0m-9 136h0m-21 -245h0m1 26h0m11 17h0m34 221h0m-30 -362h0m-7 56h0m1 118h0m46 49h0m-8 26h0m-4 -203h0m8 66h0m-16 54h0m0 -57h0m15 -39h0m-14 -67h0m12 342h0m-9 13h0m-34 -208h0m124 328h0m19 -313h0m-25 54h0m37 101h0m-12 219h0m-32 -260h0m54 -157h0m-48 175h0m1 -83h0m7 40h0m-13 122h0m14 9h0m-14 39h0m32 97h0m-14 -365h0m19 116h0m-3 6h0m-8 -54h0m-26 72h0m14 134h0m22 -238h0m-12 -240h0m-15 509h0m25 -51h0m-16 -349h0m-9 95h0m36 248h0m-46 -236h0m32 -116h0m18 342h0m-36 -107h0m14 111h0m7 -92h0m-25 -67h0m6 -1h0m21 -46h0m-13 293h0m1 71h0m-5 -540h0m-11 220h0m38 -20h0m-29 -230h0m14 250h0m-13 -123h0m1 -46h0m25 165h0m0 170h0m-38 -148h0m8 86h0m39 -223h0m-49 39h0m3 94h0m38 261h0m-22 -137h0m30 -242h0m-53 103h0m22 -292h0m-14 357h0m21 26h0m17 68h0m-20 -436h0m7 465h0m-23 -91h0m29 -236h0m-7 80h0m-29 34h0m35 320h0m-17 -96h0m6 34h0m-25 -173h0m47 -109h0m-20 -206h0m-9 234h0m-6 157h0m40 -90h0m-29 244h0m23 -173h0m-48 -194h0m51 67h0m-47 169h0m23 19h0m-1 -145h0m-9 -64h0m27 -87h0m-3 287h0m-5 -96h0m16 -43h0m-25 78h0m72 152h0m-2 -166h0m-14 240h0m12 -402h0m-7 18h0m-7 58h0m-8 19h0m-3 0h0m11 319h0m17 -277h0m-36 27h0m18 153h0m14 -354h0m7 174h0m-27 337h0m4 -269h0m3 -123h0m1 -99h0m-8 88h0m25 278h0m-16 -186h0m-8 82h0m10 12h0m4 171h0m-6 -332h0m-1 295h0m-17 -219h0m35 222h0m-6 -61h0m-16 -318h0m18 -134h0m94 71h0m-16 158h0m46 28h0m-18 -95h0m-16 -73h0m-10 119h0m48 -78h0m-35 48h0m33 -166h0m-29 -98h0m1 205h0m-13 33h0m23 -63h0m-3 -279h0m-28 468h0m22 -373h0m4 107h0m0 258h0m-14 -214h0m3 -6h0m33 116h0m-34 -1h0m26 -280h0m-20 399h0m1 -272h0m-9 108h0m1 9h0m29 363h0m-37 -370h0m11 299h0m31 -325h0m5 212h0m-25 23h0m-4 -61h0m31 -124h0m-23 31h0m-31 69h0m3 -204h0m19 182h0m20 274h0m-8 -441h0m10 50h0m11 33h0m-35 -124h0m20 -10h0m-11 53h0m9 239h0m-8 -365h0m6 181h0m-7 -39h0m-13 -83h0m-6 20h0m42 224h0m-25 -376h0m-5 431h0m12 -111h0m-10 -181h0m-22 -96h0m12 250h0m-12 -87h0m38 -242h0m-14 231h0m19 96h0m-42 12h0m9 181h0m28 -208h0m-13 -21h0m-9 388h0m-17 -439h0m18 140h0m22 327h0m-3 -516h0m-22 94h0m10 46h0m-1 117h0m-20 57h0m4 -76h0m9 -246h0m13 -137h0m-3 287h0m-19 91h0m10 224h0m18 -215h0m18 -21h0m-15 -245h0m0 -131h0m-39 415h0m6 -143h0m13 412h0m9 -278h0m5 -253h0m-5 354h0m-17 -122h0m20 -96h0m-30 -139h0m15 458h0m24 -436h0m-9 159h0m-8 -22h0m17 -7h0m-16 -355h0m15 525h0m13 -130h0m-37 -101h0m22 -193h0m-2 243h0m0 -14h0m3 -67h0m-8 -58h0m17 -3h0m-20 5h0m-2 183h0m18 -251h0m-9 26h0m-4 84h0m15 -7h0m-38 -11h0m7 -95h0m-11 349h0m12 -264h0m-11 66h0m36 -37h0m-8 -151h0m18 363h0m-3 -256h0m7 256h0m-22 1h0m-33 2h0m17 -25h0m-1 231h0m11 -311h0m-13 76h0m39 -230h0m-46 -10h0m4 433h0m36 -228h0m-5 9h0m5 15h0m4 -52h0m-10 104h0m-20 149h0m122 -170h0m3 -346h0m5 316h0m-27 60h0m29 23h0m12 -171h0m-10 -190h0m-3 484h0m-25 -239h0m11 -13h0m26 -43h0m-3 147h0m-8 -36h0m-9 -332h0m-5 312h0m-23 16h0m41 21h0m-27 -159h0m23 169h0m-9 -228h0m27 196h0m-37 81h0m16 77h0m-7 -292h0m13 71h0m-30 234h0m24 -454h0m-20 368h0m1 -86h0m11 126h0m-6 -229h0m15 -212h0m4 152h0m7 41h0m-27 41h0m3 9h0m13 -60h0m20 23h0m-22 -159h0m-14 232h0m1 88h0m11 -20h0m-12 143h0m-8 -133h0m39 -123h0m-32 285h0m18 -405h0m5 42h0m-18 39h0m18 332h0m-13 -259h0m5 105h0m75 53h0m-3 324h0m6 -3h0m-18 -22h0m17 18h0m-11 -60h0m-33 -123h0m-1 91h0m14 62h0m11 -49h0m-32 -36h0m27 14h0m-4 -201h0m22 197h0m8 46h0m-4 63h0m-42 -208h0m25 90h0m-15 -11h0m20 -56h0m-24 55h0m5 38h0m10 -94h0m23 -28h0m-47 37h0m43 -23h0m-22 187h0m-1 -20h0m-19 -287h0m-2 268h0m48 -5h0m0 -113h0m-30 141h0m-18 33h0m40 -36h0m-42 -154h0m2 97h0m44 -149h0m-37 4h0m-2 -9h0m34 160h0m-8 -20h0m-28 -6h0m32 58h0m-7 -208h0m-3 153h0m-4 17h0m2 64h0m-26 -145h0m4 87h0m7 59h0m29 -17h0m10 -159h0m-37 200h0m-3 -167h0m2 -45h0m-10 156h0m18 16h0m32 -103h0m-12 -42h0m-32 84h0m-5 -8h0m3 -4h0m29 -13h0m0 -117h0m-3 102h0m-2 -3h0m11 92h0m0 -150h0m-28 107h0m13 75h0m-1 2h0m-15 -153h0m15 112h0m30 -127h0m-14 51h0m3 42h0m-28 -94h0m38 119h0m-31 32h0m-22 -223h0m28 26h0m26 -45h0m-2 280h0m-24 -338h0m-27 326h0m32 0h0m-31 -215h0m12 163h0m22 8h0m7 -135h0m-17 97h0m-5 81h0m28 -175h0m-30 43h0m-3 145h0m15 -136h0m16 72h0m-25 -12h0m31 -93h0m-18 121h0m5 -111h0m-3 137h0m11 -12h0m-16 5h0m22 -78h0m-15 -7h0m-17 64h0m15 -268h0m12 185h0m-48 64h0m7 -117h0m30 76h0m0 34h0m-7 -27h0m15 16h0m-6 -88h0m-5 45h0m-10 119h0m17 5h0m0 -51h0m4 -38h0m-9 -54h0m-28 118h0m10 -138h0m-5 62h0m2 110h0m-13 -1h0m26 -90h0m5 60h0m-4 -169h0m-12 121h0m8 45h0m-13 19h0m17 -46h0m-23 -94h0m14 122h0m-1 26h0m2 -108h0m-2 -88h0m-2 154h0m-14 -96h0m13 -45h0m13 84h0m-29 95h0m2 -20h0m37 -125h0m1 45h0m12 51h0m-16 -114h0m-13 168h0m23 -31h0m-31 10h0m21 -203h0m15 -84h0m85 -267h0m-13 149h0m18 264h0m20 -489h0m-22 410h0m-23 -395h0m26 -11h0m9 148h0m-12 114h0m20 -220h0m-30 36h0m-3 117h0m6 9h0m-5 -76h0m16 -125h0m-5 163h0m-10 70h0m24 382h0m16 -615h0m-39 -54h0m15 30h0m-4 344h0m4 -347h0m10 41h0m-23 -21h0m-6 -20h0m28 -105h0m-6 504h0m3 -192h0m-3 -54h0m-15 -321h0m14 699h0m-10 -288h0m9 98h0m-8 -187h0m-6 -313h0m25 283h0m-5 369h0m-15 -307h0m11 26h0m5 -118h0m-18 -80h0m-3 603h0m-2 -522h0m91 310h0m-37 101h0m-5 -220h0m41 -32h0m-22 -100h0m27 66h0m-9 -331h0m-21 385h0m-6 28h0m6 -195h0m-8 203h0m22 145h0m-24 37h0m7 -104h0m29 -338h0m-42 130h0m-4 -69h0m34 200h0m6 -176h0m-38 132h0m21 -140h0m-12 109h0m20 -54h0m-29 25h0m9 -332h0m-4 337h0m38 -353h0m-7 484h0m-37 158h0m12 97h0m25 -234h0m-8 -157h0m-30 -151h0m51 353h0m-42 -212h0m4 -229h0m13 205h0m-28 156h0m2 -20h0m11 27h0m23 -291h0m-35 436h0m22 47h0m27 -315h0m-40 -339h0m-5 586h0m38 -305h0m-27 354h0m-4 -343h0m-11 109h0m44 187h0m-7 -219h0m1 -27h0m3 145h0m-33 -121h0m34 58h0m-8 -95h0m-25 368h0m16 -559h0m29 291h0m-6 -356h0m-9 520h0m-22 -317h0m-6 29h0m-8 83h0m7 19h0m14 -256h0m-8 183h0m23 18h0m-5 100h0m-11 -457h0m10 556h0m6 -491h0m-31 307h0m37 105h0m-5 -111h0m-11 -36h0m15 -5h0m-25 428h0m-18 -387h0m46 -7h0m0 15h0m4 -104h0m-25 103h0m5 -269h0m-6 239h0m2 250h0m11 -122h0m16 35h0m-47 -177h0m21 196h0m-8 -115h0m3 50h0m16 -35h0m-38 36h0m41 293h0m-5 -40h0m15 -425h0m-22 50h0m-19 294h0m12 -566h0m-7 211h0m32 -120h0m-15 129h0m-14 208h0m30 -189h0m-32 160h0m25 -154h0m-35 54h0m8 48h0m-5 28h0m-5 -178h0m7 94h0m30 35h0m-40 203h0m47 -117h0m2 -42h0m-8 -443h0m-27 650h0m18 -174h0m5 -127h0m-33 107h0m40 89h0m-27 -202h0m-10 -91h0m3 193h0m0 -103h0m1 -352h0m-4 540h0m42 -74h0m-10 -94h0m-19 -363h0m4 499h0m26 -181h0m-36 -7h0m-3 193h0m7 -150h0m34 -43h0m-15 -158h0m-32 173h0m29 -37h0m-34 159h0m38 58h0m-34 -233h0m13 154h0m16 -128h0m1 -116h0m8 311h0m-45 -48h0m32 21h0m7 -89h0m1 -226h0m-4 310h0m9 -157h0m-22 -267h0m4 194h0m-27 280h0m51 -117h0m-17 -98h0m-16 21h0m-3 107h0m20 -348h0m-10 226h0m12 118h0m-15 81h0m-8 -208h0m-9 44h0m19 -256h0m4 358h0m-25 51h0m40 -163h0m-4 212h0m-23 -405h0m27 -145h0m-18 161h0m-24 296h0m7 99h0m-7 -262h0m27 113h0m27 109h0m-7 -162h0m-42 273h0m-2 -309h0m40 198h0m98 -212h0m-2 48h0m15 -9h0m-4 -129h0m-8 -46h0m-14 223h0m1 -79h0m2 87h0m21 -57h0m6 83h0m-24 163h0m3 -417h0m-8 207h0m18 55h0m-11 86h0m-5 -273h0m6 -71h0m20 -3h0m-5 263h0m5 -1h0m-20 -168h0m1 61h0m12 -9h0m61 419h0m-26 -1h0m4 54h0m-1 -109h0m-14 121h0m34 -117h0m-13 -11h0m30 110h0m-39 -21h0m-1 56h0m24 -60h0m0 -197h0m19 239h0m-2 19h0m-14 -37h0m-29 -30h0m28 54h0m-26 -32h0m-8 20h0m3 -1h0m19 -300h0m13 226h0m-17 -40h0m28 59h0m-32 -47h0m3 -159h0" stroke="#ff0000" stroke-opacity="0.72" stroke-width="15" stroke-linecap="round" fill="none"/>
<path transform="scale(0.1)" d="M324 2101h0m-8 146h0m6 54h0m-1 -304h0m14 14h0m0 95h0m99 216h0m22 -193h0m-19 23h0m12 6h0m13 -18h0m-39 102h0m15 -253h0m-3 298h0m23 23h0m-25 -173h0m5 75h0m23 -51h0m-29 -136h0m-4 63h0m14 240h0m22 -218h0m1 4h0m-55 9h0m44 33h0m-27 102h0m26 -22h0m9 40h0m-10 -301h0m0 160h0m-1 59h0m-33 80h0m37 30h0m-14 -13h0m-15 -126h0m18 108h0m-30 24h0m18 -216h0m31 200h0m-44 -158h0m375 172h0m-8 3h0m109 17h0m22 1h0m85 -420h0m4 218h0m26 -189h0m-7 24h0m-4 136h0m-18 -56h0m29 -1h0m-10 -192h0m1 109h0m-13 -54h0m-1 -28h0m193 298h0m-10 -167h0m-11 80h0m18 111h0m228 -281h0m9 22h0m-18 33h0m17 56h0m-1 56h0m6 -96h0m-7 152h0m-1 -130h0m-7 116h0m-12 -2h0m7 -153h0m17 217h0m-26 -7h0m11 -169h0m10 100h0m-9 -148h0m-3 -21h0m-6 291h0m-2 -320h0m13 336h0m227 -15h0m-7 82h0m-6 -19h0m34 -52h0m-7 50h0m-22 -14h0m9 -78h0m1 29h0m-3 -18h0m140 60h0m-7 -95h0m-17 -5h0m15 20h0m-33 42h0m4 22h0m-2 37h0m29 -8h0m-26 12h0m37 -3h0m-27 32h0m11 -57h0m-19 -43h0m36 32h0m-8 -9h0m11 -19h0m-37 93h0m27 -145h0m-10 93h0m114 -16h0m-20 46h0m20 -82h0m-16 31h0m3 -37h0m8 56h0m-17 27h0m3 -25h0m11 -6h0m246 71h0m1 -62h0m-32 73h0m23 -77h0m-10 -2h0m23 25h0m-9 58h0m5 -41h0m-15 36h0m-12 -61h0m120 -2h0m12 -17h0m5 48h0m-12 -152h0m-3 53h0m18 24h0m-11 -3h0m-1 -109h0m7 116h0m-14 -17h0m21 33h0m13 9h0m-16 -56h0m-3 91h0m-1 -69h0m-6 36h0m-13 -95h0m158 105h0m-11 -80h0m-19 63h0m-3 -32h0m30 -54h0m-16 -50h0m-12 166h0m2 -122h0m9 14h0m16 61h0m-8 -141h0m-2 148h0m-25 21h0m5 -98h0m6 -21h0m236 -25h0m130 166h0m82 -9h0m21 -22h0m11 -77h0m-19 43h0m15 62h0m6 -63h0m-15 22h0m25 51h0m-35 -81h0m12 40h0m5 46h0m123 -452h0m0 -25h0m-7 189h0m4 -114h0m278 374h0m-5 -213h0m10 88h0m-4 -42h0m7 92h0m2 -196h0m0 63h0m-2 133h0m-3 -163h0m1 143h0m10 -38h0m-11 -68h0m14 123h0m-5 40h0m146 -52h0m22 95h0m-19 -2h0m32 -23h0m-25 25h0m25 -93h0m-43 -8h0m38 34h0m-8 62h0m18 -63h0m-18 23h0m12 -47h0m6 -5h0m-25 4h0m13 31h0m-3 -93h0m-23 111h0m198 32h0m2 14h0m9 -97h0m-28 -36h0m25 46h0m-16 86h0m10 -20h0m-4 43h0m4 -146h0m-16 137h0" stroke="#0000ff" stroke-opacity="0.72" stroke-width="15" stroke-linecap="round" fill="none"/>
<path transform="scale(0.1)" d="M3112 1703h0m2 -137h0m-7 242h0m-19 -29h0m13 105h0m-9 12h0m1 -260h0m-3 183h0m8 104h0m14 -117h0m9 -141h0m-21 445h0m-7 -434h0m14 268h0m19 -117h0m-21 -208h0m-12 457h0m29 -268h0m10 -76h0m-41 118h0m30 -90h0m-1 -13h0m4 162h0m-36 -300h0m26 196h0m-12 144h0m18 -83h0m-3 -143h0m-27 314h0m30 -143h0m0 -114h0m-2 355h0m3 -40h0m-20 46h0m-8 -213h0m8 -208h0m25 159h0m-30 -169h0m31 117h0m-43 -52h0m41 -51h0m1 163h0m-13 -7h0m6 -47h0m-24 148h0m25 102h0m11 -180h0m-7 33h0m-7 131h0m-17 -291h0m-12 -144h0m21 100h0m21 102h0m-16 -121h0m-22 252h0m-6 -260h0m-2 -17h0m-2 52h0m46 135h0m-38 -148h0m16 148h0m14 163h0m9 -215h0m-41 -141h0m3 197h0m1 244h0m2 -319h0m-4 -14h0m1 -189h0m15 298h0m3 -114h0m16 218h0m-8 -148h0m-22 -44h0m34 -88h0m-9 120h0m-28 2h0m6 -182h0m12 187h0m15 231h0m-43 -236h0m50 43h0m-33 161h0m19 -50h0m-33 -265h0m17 140h0m-7 94h0m26 -62h0m0 178h0m-3 -182h0m3 140h0m-27 -286h0m26 17h0m-3 -64h0m13 22h0m-11 180h0m-30 -1h0m-5 -279h0m19 -31h0m7 150h0m8 54h0m12 -78h0m-23 94h0m15 82h0m9 -144h0m-30 -2h0m12 115h0m-14 -236h0m36 96h0m-23 161h0m-11 -113h0m-4 157h0m26 94h0m7 -63h0m-4 -82h0m2 -11h0m-36 -182h0m6 3h0m22 366h0m-36 -393h0m14 222h0m32 -168h0m-41 -29h0m45 34h0m-30 90h0m30 -110h0m-22 17h0m23 89h0m-16 -43h0m-13 265h0m21 -192h0m-15 -23h0m16 11h0m-47 3h0m10 -75h0m23 -13h0m13 44h0m-31 -56h0m10 20h0" stroke="#9933ff" stroke-opacity="0.72" stroke-width="15" stroke-linecap="round" fill="none"/>
</g>
<line x1="20.60" y1="161.00" x2="20.60" y2="190.00" stroke="#e81e1e" stroke-width="0.45"/>
<line x1="20.60" y1="218.00" x2="20.60" y2="232.00" stroke="#e81e1e" stroke-width="0.45"/>
<rect x="18.40" y="190.00" width="4.40" height="28.00" fill="#ffffff" stroke="#e81e1e" stroke-width="0.6" fill-opacity="0.3"/>
<line x1="18.40" y1="207.00" x2="22.80" y2="207.00" stroke="#c00000" stroke-width="0.6"/>
<line x1="26.41" y1="142.70" x2="26.41" y2="174.60" stroke="#e81e1e" stroke-width="0.45"/>
<line x1="26.41" y1="199.00" x2="26.41" y2="234.70" stroke="#e81e1e" stroke-width="0.45"/>
<rect x="24.21" y="174.60" width="4.40" height="24.40" fill="#ffffff" stroke="#e81e1e" stroke-width="0.6" fill-opacity="0.3"/>
<line x1="24.21" y1="186.00" x2="28.61" y2="186.00" stroke="#c00000" stroke-width="0.6"/>
<line x1="32.21" y1="182.30" x2="32.21" y2="210.40" stroke="#1a1ad0" stroke-width="0.45"/>
<line x1="32.21" y1="229.60" x2="32.21" y2="233.00" stroke="#1a1ad0" stroke-width="0.45"/>
<rect x="30.01" y="210.40" width="4.40" height="19.20" fill="#ffffff" stroke="#1a1ad0" stroke-width="0.6" fill-opacity="0.75"/>
<line x1="30.01" y1="216.80" x2="34.41" y2="216.80" stroke="#1a1ad0" stroke-width="0.6"/>
<line x1="38.02" y1="144.00" x2="38.02" y2="173.40" stroke="#e81e1e" stroke-width="0.45"/>
<line x1="38.02" y1="199.00" x2="38.02" y2="236.00" stroke="#e81e1e" stroke-width="0.45"/>
<rect x="35.81" y="173.40" width="4.40" height="25.60" fill="#ffffff" stroke="#e81e1e" stroke-width="0.6" fill-opacity="0.2"/>
<line x1="35.81" y1="186.00" x2="40.22" y2="186.00" stroke="#c00000" stroke-width="0.6"/>
<line x1="43.82" y1="196.40" x2="43.82" y2="211.70" stroke="#1a1ad0" stroke-width="0.45"/>
<line x1="43.82" y1="228.30" x2="43.82" y2="233.00" stroke="#1a1ad0" stroke-width="0.45"/>
<rect x="41.62" y="211.70" width="4.40" height="16.60" fill="#ffffff" stroke="#1a1ad0" stroke-width="0.6" fill-opacity="0.75"/>
<line x1="41.62" y1="219.00" x2="46.02" y2="219.00" stroke="#1a1ad0" stroke-width="0.6"/>
<line x1="49.62" y1="146.50" x2="49.62" y2="170.80" stroke="#e81e1e" stroke-width="0.45"/>
<line x1="49.62" y1="187.40" x2="49.62" y2="211.70" stroke="#e81e1e" stroke-width="0.45"/>
<rect x="47.42" y="170.80" width="4.40" height="16.60" fill="#ffffff" stroke="#e81e1e" stroke-width="0.6" fill-opacity="0.3"/>
<line x1="47.42" y1="177.20" x2="51.83" y2="177.20" stroke="#c00000" stroke-width="0.6"/>
<line x1="55.43" y1="155.50" x2="55.43" y2="174.60" stroke="#e81e1e" stroke-width="0.45"/>
<line x1="55.43" y1="188.70" x2="55.43" y2="201.50" stroke="#e81e1e" stroke-width="0.45"/>
<rect x="53.23" y="174.60" width="4.40" height="14.10" fill="#ffffff" stroke="#e81e1e" stroke-width="0.6" fill-opacity="0.3"/>
<line x1="53.23" y1="178.50" x2="57.63" y2="178.50" stroke="#c00000" stroke-width="0.6"/>
<line x1="61.23" y1="168.00" x2="61.23" y2="183.60" stroke="#e81e1e" stroke-width="0.45"/>
<line x1="61.23" y1="202.80" x2="61.23" y2="227.00" stroke="#e81e1e" stroke-width="0.45"/>
<rect x="59.03" y="183.60" width="4.40" height="19.20" fill="#ffffff" stroke="#e81e1e" stroke-width="0.6" fill-opacity="0.2"/>
<line x1="59.03" y1="193.80" x2="63.44" y2="193.80" stroke="#c00000" stroke-width="0.6"/>
<line x1="67.04" y1="153.00" x2="67.04" y2="169.50" stroke="#e81e1e" stroke-width="0.45"/>
<line x1="67.04" y1="186.00" x2="67.04" y2="210.75" stroke="#e81e1e" stroke-width="0.45"/>
<rect x="64.84" y="169.50" width="4.40" height="16.50" fill="#ffffff" stroke="#e81e1e" stroke-width="0.6" fill-opacity="0.3"/>
<line x1="64.84" y1="177.20" x2="69.24" y2="177.20" stroke="#c00000" stroke-width="0.6"/>
<line x1="72.84" y1="155.00" x2="72.84" y2="165.70" stroke="#e81e1e" stroke-width="0.45"/>
<line x1="72.84" y1="179.70" x2="72.84" y2="200.70" stroke="#e81e1e" stroke-width="0.45"/>
<rect x="70.64" y="165.70" width="4.40" height="14.00" fill="#ffffff" stroke="#e81e1e" stroke-width="0.6" fill-opacity="0.3"/>
<line x1="70.64" y1="172.00" x2="75.05" y2="172.00" stroke="#c00000" stroke-width="0.6"/>
<line x1="78.65" y1="227.00" x2="78.65" y2="227.00" stroke="#1a1ad0" stroke-width="0.45"/>
<line x1="78.65" y1="231.00" x2="78.65" y2="231.00" stroke="#1a1ad0" stroke-width="0.45"/>
<rect x="76.45" y="227.00" width="4.40" height="4.00" fill="#ffffff" stroke="#1a1ad0" stroke-width="0.6" fill-opacity="0.75"/>
<line x1="76.45" y1="229.00" x2="80.85" y2="229.00" stroke="#1a1ad0" stroke-width="0.6"/>
<line x1="84.45" y1="178.50" x2="84.45" y2="191.00" stroke="#e81e1e" stroke-width="0.45"/>
<line x1="84.45" y1="209.00" x2="84.45" y2="232.00" stroke="#e81e1e" stroke-width="0.45"/>
<rect x="82.25" y="191.00" width="4.40" height="18.00" fill="#ffffff" stroke="#e81e1e" stroke-width="0.6" fill-opacity="0.3"/>
<line x1="82.25" y1="202.00" x2="86.66" y2="202.00" stroke="#c00000" stroke-width="0.6"/>
<line x1="90.26" y1="227.00" x2="90.26" y2="228.00" stroke="#1a1ad0" stroke-width="0.45"/>
<line x1="90.26" y1="231.50" x2="90.26" y2="232.00" stroke="#1a1ad0" stroke-width="0.45"/>
<rect x="88.06" y="228.00" width="4.40" height="3.50" fill="#ffffff" stroke="#1a1ad0" stroke-width="0.6" fill-opacity="0.75"/>
<line x1="88.06" y1="229.50" x2="92.46" y2="229.50" stroke="#1a1ad0" stroke-width="0.6"/>
<line x1="96.06" y1="145.00" x2="96.06" y2="167.00" stroke="#e81e1e" stroke-width="0.45"/>
<line x1="96.06" y1="186.00" x2="96.06" y2="214.50" stroke="#e81e1e" stroke-width="0.45"/>
<rect x="93.86" y="167.00" width="4.40" height="19.00" fill="#ffffff" stroke="#e81e1e" stroke-width="0.6" fill-opacity="0.2"/>
<line x1="93.86" y1="176.00" x2="98.27" y2="176.00" stroke="#c00000" stroke-width="0.6"/>
<line x1="101.87" y1="181.00" x2="101.87" y2="187.40" stroke="#1a1ad0" stroke-width="0.45"/>
<line x1="101.87" y1="202.80" x2="101.87" y2="214.00" stroke="#1a1ad0" stroke-width="0.45"/>
<rect x="99.67" y="187.40" width="4.40" height="15.40" fill="#ffffff" stroke="#1a1ad0" stroke-width="0.6" fill-opacity="0.75"/>
<line x1="99.67" y1="192.50" x2="104.07" y2="192.50" stroke="#1a1ad0" stroke-width="0.6"/>
<line x1="107.67" y1="148.00" x2="107.67" y2="167.00" stroke="#e81e1e" stroke-width="0.45"/>
<line x1="107.67" y1="191.00" x2="107.67" y2="209.00" stroke="#e81e1e" stroke-width="0.45"/>
<rect x="105.47" y="167.00" width="4.40" height="24.00" fill="#ffffff" stroke="#e81e1e" stroke-width="0.6" fill-opacity="0.3"/>
<line x1="105.47" y1="179.70" x2="109.87" y2="179.70" stroke="#c00000" stroke-width="0.6"/>
<line x1="113.48" y1="143.00" x2="113.48" y2="163.00" stroke="#e81e1e" stroke-width="0.45"/>
<line x1="113.48" y1="182.30" x2="113.48" y2="211.25" stroke="#e81e1e" stroke-width="0.45"/>
<rect x="111.28" y="163.00" width="4.40" height="19.30" fill="#ffffff" stroke="#e81e1e" stroke-width="0.6" fill-opacity="0.3"/>
<line x1="111.28" y1="173.00" x2="115.68" y2="173.00" stroke="#c00000" stroke-width="0.6"/>
<line x1="119.28" y1="188.70" x2="119.28" y2="208.00" stroke="#1a1ad0" stroke-width="0.45"/>
<line x1="119.28" y1="225.80" x2="119.28" y2="231.00" stroke="#1a1ad0" stroke-width="0.45"/>
<rect x="117.08" y="208.00" width="4.40" height="17.80" fill="#ffffff" stroke="#1a1ad0" stroke-width="0.6" fill-opacity="0.75"/>
<line x1="117.08" y1="216.30" x2="121.48" y2="216.30" stroke="#1a1ad0" stroke-width="0.6"/>
<line x1="125.09" y1="160.00" x2="125.09" y2="186.00" stroke="#e81e1e" stroke-width="0.45"/>
<line x1="125.09" y1="204.00" x2="125.09" y2="224.00" stroke="#e81e1e" stroke-width="0.45"/>
<rect x="122.89" y="186.00" width="4.40" height="18.00" fill="#ffffff" stroke="#e81e1e" stroke-width="0.6" fill-opacity="0.3"/>
<line x1="122.89" y1="195.60" x2="127.29" y2="195.60" stroke="#c00000" stroke-width="0.6"/>
<line x1="130.89" y1="227.00" x2="130.89" y2="227.50" stroke="#1a1ad0" stroke-width="0.45"/>
<line x1="130.89" y1="231.00" x2="130.89" y2="231.50" stroke="#1a1ad0" stroke-width="0.45"/>
<rect x="128.69" y="227.50" width="4.40" height="3.50" fill="#ffffff" stroke="#1a1ad0" stroke-width="0.6" fill-opacity="0.75"/>
<line x1="128.69" y1="229.00" x2="133.09" y2="229.00" stroke="#1a1ad0" stroke-width="0.6"/>
<line x1="136.70" y1="153.00" x2="136.70" y2="170.80" stroke="#e81e1e" stroke-width="0.45"/>
<line x1="136.70" y1="188.70" x2="136.70" y2="215.55" stroke="#e81e1e" stroke-width="0.45"/>
<rect x="134.50" y="170.80" width="4.40" height="17.90" fill="#ffffff" stroke="#e81e1e" stroke-width="0.6" fill-opacity="0.2"/>
<line x1="134.50" y1="179.70" x2="138.90" y2="179.70" stroke="#c00000" stroke-width="0.6"/>
<line x1="142.50" y1="190.00" x2="142.50" y2="197.60" stroke="#1a1ad0" stroke-width="0.45"/>
<line x1="142.50" y1="216.80" x2="142.50" y2="225.80" stroke="#1a1ad0" stroke-width="0.45"/>
<rect x="140.31" y="197.60" width="4.40" height="19.20" fill="#ffffff" stroke="#1a1ad0" stroke-width="0.6" fill-opacity="0.75"/>
<line x1="140.31" y1="206.60" x2="144.70" y2="206.60" stroke="#1a1ad0" stroke-width="0.6"/>
<line x1="148.31" y1="153.00" x2="148.31" y2="165.70" stroke="#e81e1e" stroke-width="0.45"/>
<line x1="148.31" y1="184.90" x2="148.31" y2="213.70" stroke="#e81e1e" stroke-width="0.45"/>
<rect x="146.11" y="165.70" width="4.40" height="19.20" fill="#ffffff" stroke="#e81e1e" stroke-width="0.6" fill-opacity="0.3"/>
<line x1="146.11" y1="173.40" x2="150.51" y2="173.40" stroke="#c00000" stroke-width="0.6"/>
<line x1="154.11" y1="150.00" x2="154.11" y2="168.00" stroke="#e81e1e" stroke-width="0.45"/>
<line x1="154.11" y1="187.40" x2="154.11" y2="216.50" stroke="#e81e1e" stroke-width="0.45"/>
<rect x="151.91" y="168.00" width="4.40" height="19.40" fill="#ffffff" stroke="#e81e1e" stroke-width="0.6" fill-opacity="0.3"/>
<line x1="151.91" y1="178.50" x2="156.31" y2="178.50" stroke="#c00000" stroke-width="0.6"/>
<line x1="159.92" y1="201.50" x2="159.92" y2="215.50" stroke="#e81e1e" stroke-width="0.45"/>
<line x1="159.92" y1="228.30" x2="159.92" y2="232.00" stroke="#e81e1e" stroke-width="0.45"/>
<rect x="157.72" y="215.50" width="4.40" height="12.80" fill="#ffffff" stroke="#e81e1e" stroke-width="0.6" fill-opacity="0.3"/>
<line x1="157.72" y1="222.00" x2="162.12" y2="222.00" stroke="#c00000" stroke-width="0.6"/>
<line x1="165.72" y1="218.00" x2="165.72" y2="222.00" stroke="#1a1ad0" stroke-width="0.45"/>
<line x1="165.72" y1="229.00" x2="165.72" y2="231.50" stroke="#1a1ad0" stroke-width="0.45"/>
<rect x="163.53" y="222.00" width="4.40" height="7.00" fill="#ffffff" stroke="#1a1ad0" stroke-width="0.6" fill-opacity="0.75"/>
<line x1="163.53" y1="226.00" x2="167.92" y2="226.00" stroke="#1a1ad0" stroke-width="0.6"/>
<line x1="171.53" y1="188.95" x2="171.53" y2="208.00" stroke="#e81e1e" stroke-width="0.45"/>
<line x1="171.53" y1="220.70" x2="171.53" y2="232.00" stroke="#e81e1e" stroke-width="0.45"/>
<rect x="169.33" y="208.00" width="4.40" height="12.70" fill="#ffffff" stroke="#e81e1e" stroke-width="0.6" fill-opacity="0.2"/>
<line x1="169.33" y1="214.30" x2="173.73" y2="214.30" stroke="#c00000" stroke-width="0.6"/>
<line x1="177.33" y1="214.00" x2="177.33" y2="220.70" stroke="#1a1ad0" stroke-width="0.45"/>
<line x1="177.33" y1="228.30" x2="177.33" y2="232.00" stroke="#1a1ad0" stroke-width="0.45"/>
<rect x="175.13" y="220.70" width="4.40" height="7.60" fill="#ffffff" stroke="#1a1ad0" stroke-width="0.6" fill-opacity="0.75"/>
<line x1="175.13" y1="224.50" x2="179.53" y2="224.50" stroke="#1a1ad0" stroke-width="0.6"/>
<line x1="183.14" y1="191.20" x2="183.14" y2="210.40" stroke="#e81e1e" stroke-width="0.45"/>
<line x1="183.14" y1="223.20" x2="183.14" y2="232.00" stroke="#e81e1e" stroke-width="0.45"/>
<rect x="180.94" y="210.40" width="4.40" height="12.80" fill="#ffffff" stroke="#e81e1e" stroke-width="0.6" fill-opacity="0.3"/>
<line x1="180.94" y1="217.00" x2="185.34" y2="217.00" stroke="#c00000" stroke-width="0.6"/>
<line x1="188.94" y1="220.00" x2="188.94" y2="224.00" stroke="#1a1ad0" stroke-width="0.45"/>
<line x1="188.94" y1="229.00" x2="188.94" y2="231.50" stroke="#1a1ad0" stroke-width="0.45"/>
<rect x="186.75" y="224.00" width="4.40" height="5.00" fill="#ffffff" stroke="#1a1ad0" stroke-width="0.6" fill-opacity="0.75"/>
<line x1="186.75" y1="227.00" x2="191.14" y2="227.00" stroke="#1a1ad0" stroke-width="0.6"/>
<line x1="194.75" y1="145.00" x2="194.75" y2="169.50" stroke="#e81e1e" stroke-width="0.45"/>
<line x1="194.75" y1="186.10" x2="194.75" y2="204.00" stroke="#e81e1e" stroke-width="0.45"/>
<rect x="192.55" y="169.50" width="4.40" height="16.60" fill="#ffffff" stroke="#e81e1e" stroke-width="0.6" fill-opacity="0.3"/>
<line x1="192.55" y1="176.00" x2="196.95" y2="176.00" stroke="#c00000" stroke-width="0.6"/>
<line x1="200.55" y1="179.95" x2="200.55" y2="199.00" stroke="#e81e1e" stroke-width="0.45"/>
<line x1="200.55" y1="211.70" x2="200.55" y2="230.75" stroke="#e81e1e" stroke-width="0.45"/>
<rect x="198.35" y="199.00" width="4.40" height="12.70" fill="#ffffff" stroke="#e81e1e" stroke-width="0.6" fill-opacity="0.2"/>
<line x1="198.35" y1="205.00" x2="202.75" y2="205.00" stroke="#c00000" stroke-width="0.6"/>
<line x1="206.36" y1="158.00" x2="206.36" y2="190.00" stroke="#e81e1e" stroke-width="0.45"/>
<line x1="206.36" y1="217.00" x2="206.36" y2="230.00" stroke="#e81e1e" stroke-width="0.45"/>
<rect x="204.16" y="190.00" width="4.40" height="27.00" fill="#ffffff" stroke="#e81e1e" stroke-width="0.6" fill-opacity="0.3"/>
<line x1="204.16" y1="203.00" x2="208.56" y2="203.00" stroke="#c00000" stroke-width="0.6"/>
<line x1="212.16" y1="224.00" x2="212.16" y2="227.00" stroke="#1a1ad0" stroke-width="0.45"/>
<line x1="212.16" y1="233.40" x2="212.16" y2="234.50" stroke="#1a1ad0" stroke-width="0.45"/>
<rect x="209.97" y="227.00" width="4.40" height="6.40" fill="#ffffff" stroke="#1a1ad0" stroke-width="0.6" fill-opacity="0.75"/>
<line x1="209.97" y1="230.00" x2="214.36" y2="230.00" stroke="#1a1ad0" stroke-width="0.6"/>
<line x1="217.97" y1="154.65" x2="217.97" y2="179.70" stroke="#e81e1e" stroke-width="0.45"/>
<line x1="217.97" y1="196.40" x2="217.97" y2="221.45" stroke="#e81e1e" stroke-width="0.45"/>
<rect x="215.77" y="179.70" width="4.40" height="16.70" fill="#ffffff" stroke="#e81e1e" stroke-width="0.6" fill-opacity="0.2"/>
<line x1="215.77" y1="187.40" x2="220.17" y2="187.40" stroke="#c00000" stroke-width="0.6"/>
<line x1="223.77" y1="211.70" x2="223.77" y2="218.00" stroke="#1a1ad0" stroke-width="0.45"/>
<line x1="223.77" y1="225.80" x2="223.77" y2="231.00" stroke="#1a1ad0" stroke-width="0.45"/>
<rect x="221.57" y="218.00" width="4.40" height="7.80" fill="#ffffff" stroke="#1a1ad0" stroke-width="0.6" fill-opacity="0.75"/>
<line x1="221.57" y1="221.50" x2="225.97" y2="221.50" stroke="#1a1ad0" stroke-width="0.6"/>
<line x1="229.58" y1="150.00" x2="229.58" y2="170.80" stroke="#e81e1e" stroke-width="0.45"/>
<line x1="229.58" y1="191.30" x2="229.58" y2="219.00" stroke="#e81e1e" stroke-width="0.45"/>
<rect x="227.38" y="170.80" width="4.40" height="20.50" fill="#ffffff" stroke="#e81e1e" stroke-width="0.6" fill-opacity="0.2"/>
<line x1="227.38" y1="182.30" x2="231.78" y2="182.30" stroke="#c00000" stroke-width="0.6"/>
<line x1="235.38" y1="208.00" x2="235.38" y2="216.80" stroke="#1a1ad0" stroke-width="0.45"/>
<line x1="235.38" y1="225.80" x2="235.38" y2="231.00" stroke="#1a1ad0" stroke-width="0.45"/>
<rect x="233.19" y="216.80" width="4.40" height="9.00" fill="#ffffff" stroke="#1a1ad0" stroke-width="0.6" fill-opacity="0.75"/>
<line x1="233.19" y1="221.00" x2="237.58" y2="221.00" stroke="#1a1ad0" stroke-width="0.6"/>
<line x1="241.19" y1="168.00" x2="241.19" y2="186.00" stroke="#e81e1e" stroke-width="0.45"/>
<line x1="241.19" y1="200.00" x2="241.19" y2="219.00" stroke="#e81e1e" stroke-width="0.45"/>
<rect x="238.99" y="186.00" width="4.40" height="14.00" fill="#ffffff" stroke="#e81e1e" stroke-width="0.6" fill-opacity="0.3"/>
<line x1="238.99" y1="192.50" x2="243.39" y2="192.50" stroke="#c00000" stroke-width="0.6"/>
<line x1="246.99" y1="155.50" x2="246.99" y2="174.60" stroke="#e81e1e" stroke-width="0.45"/>
<line x1="246.99" y1="187.40" x2="246.99" y2="206.60" stroke="#e81e1e" stroke-width="0.45"/>
<rect x="244.79" y="174.60" width="4.40" height="12.80" fill="#ffffff" stroke="#e81e1e" stroke-width="0.6" fill-opacity="0.3"/>
<line x1="244.79" y1="181.00" x2="249.19" y2="181.00" stroke="#c00000" stroke-width="0.6"/>
<line x1="252.80" y1="170.80" x2="252.80" y2="192.50" stroke="#e81e1e" stroke-width="0.45"/>
<line x1="252.80" y1="209.00" x2="252.80" y2="222.00" stroke="#e81e1e" stroke-width="0.45"/>
<rect x="250.60" y="192.50" width="4.40" height="16.50" fill="#ffffff" stroke="#e81e1e" stroke-width="0.6" fill-opacity="0.3"/>
<line x1="250.60" y1="200.00" x2="255.00" y2="200.00" stroke="#c00000" stroke-width="0.6"/>
<line x1="258.61" y1="207.00" x2="258.61" y2="208.00" stroke="#1a1ad0" stroke-width="0.45"/>
<line x1="258.61" y1="214.30" x2="258.61" y2="215.00" stroke="#1a1ad0" stroke-width="0.45"/>
<rect x="256.41" y="208.00" width="4.40" height="6.30" fill="#ffffff" stroke="#1a1ad0" stroke-width="0.6" fill-opacity="0.75"/>
<line x1="256.41" y1="211.00" x2="260.81" y2="211.00" stroke="#1a1ad0" stroke-width="0.6"/>
<line x1="264.41" y1="204.00" x2="264.41" y2="218.00" stroke="#e81e1e" stroke-width="0.45"/>
<line x1="264.41" y1="229.60" x2="264.41" y2="232.00" stroke="#e81e1e" stroke-width="0.45"/>
<rect x="262.21" y="218.00" width="4.40" height="11.60" fill="#ffffff" stroke="#e81e1e" stroke-width="0.6" fill-opacity="0.3"/>
<line x1="262.21" y1="224.00" x2="266.61" y2="224.00" stroke="#c00000" stroke-width="0.6"/>
<line x1="270.21" y1="227.50" x2="270.21" y2="227.80" stroke="#1a1ad0" stroke-width="0.45"/>
<line x1="270.21" y1="228.80" x2="270.21" y2="229.00" stroke="#1a1ad0" stroke-width="0.45"/>
<rect x="268.01" y="227.80" width="4.40" height="1.00" fill="#ffffff" stroke="#1a1ad0" stroke-width="0.6" fill-opacity="0.75"/>
<line x1="268.01" y1="228.30" x2="272.41" y2="228.30" stroke="#1a1ad0" stroke-width="0.6"/>
<line x1="276.02" y1="188.75" x2="276.02" y2="211.70" stroke="#e81e1e" stroke-width="0.45"/>
<line x1="276.02" y1="227.00" x2="276.02" y2="232.00" stroke="#e81e1e" stroke-width="0.45"/>
<rect x="273.82" y="211.70" width="4.40" height="15.30" fill="#ffffff" stroke="#e81e1e" stroke-width="0.6" fill-opacity="0.2"/>
<line x1="273.82" y1="220.00" x2="278.22" y2="220.00" stroke="#c00000" stroke-width="0.6"/>
<line x1="281.82" y1="216.00" x2="281.82" y2="222.00" stroke="#1a1ad0" stroke-width="0.45"/>
<line x1="281.82" y1="228.30" x2="281.82" y2="231.00" stroke="#1a1ad0" stroke-width="0.45"/>
<rect x="279.62" y="222.00" width="4.40" height="6.30" fill="#ffffff" stroke="#1a1ad0" stroke-width="0.6" fill-opacity="0.75"/>
<line x1="279.62" y1="225.00" x2="284.02" y2="225.00" stroke="#1a1ad0" stroke-width="0.6"/>
<line x1="287.63" y1="153.00" x2="287.63" y2="168.00" stroke="#e81e1e" stroke-width="0.45"/>
<line x1="287.63" y1="183.60" x2="287.63" y2="201.50" stroke="#e81e1e" stroke-width="0.45"/>
<rect x="285.43" y="168.00" width="4.40" height="15.60" fill="#ffffff" stroke="#e81e1e" stroke-width="0.6" fill-opacity="0.3"/>
<line x1="285.43" y1="174.60" x2="289.83" y2="174.60" stroke="#c00000" stroke-width="0.6"/>
<line x1="293.44" y1="174.60" x2="293.44" y2="182.30" stroke="#1a1ad0" stroke-width="0.45"/>
<line x1="293.44" y1="197.60" x2="293.44" y2="201.50" stroke="#1a1ad0" stroke-width="0.45"/>
<rect x="291.24" y="182.30" width="4.40" height="15.30" fill="#ffffff" stroke="#1a1ad0" stroke-width="0.6" fill-opacity="0.75"/>
<line x1="291.24" y1="188.70" x2="295.63" y2="188.70" stroke="#1a1ad0" stroke-width="0.6"/>
<line x1="299.24" y1="153.00" x2="299.24" y2="173.40" stroke="#e81e1e" stroke-width="0.45"/>
<line x1="299.24" y1="199.00" x2="299.24" y2="219.00" stroke="#e81e1e" stroke-width="0.45"/>
<rect x="297.04" y="173.40" width="4.40" height="25.60" fill="#ffffff" stroke="#e81e1e" stroke-width="0.6" fill-opacity="0.3"/>
<line x1="297.04" y1="186.00" x2="301.44" y2="186.00" stroke="#c00000" stroke-width="0.6"/>
<line x1="305.05" y1="163.00" x2="305.05" y2="186.00" stroke="#e81e1e" stroke-width="0.45"/>
<line x1="305.05" y1="215.00" x2="305.05" y2="226.00" stroke="#e81e1e" stroke-width="0.45"/>
<rect x="302.85" y="186.00" width="4.40" height="29.00" fill="#ffffff" stroke="#e81e1e" stroke-width="0.6" fill-opacity="0.3"/>
<line x1="302.85" y1="200.00" x2="307.25" y2="200.00" stroke="#c00000" stroke-width="0.6"/>
<line x1="310.85" y1="155.50" x2="310.85" y2="173.40" stroke="#8a2be2" stroke-width="0.45"/>
<line x1="310.85" y1="192.50" x2="310.85" y2="219.00" stroke="#8a2be2" stroke-width="0.45"/>
<rect x="308.65" y="173.40" width="4.40" height="19.10" fill="#ffffff" stroke="#8a2be2" stroke-width="0.6" fill-opacity="0.3"/>
<line x1="308.65" y1="183.00" x2="313.05" y2="183.00" stroke="#c00000" stroke-width="0.6"/>
<line x1="316.66" y1="145.00" x2="316.66" y2="165.70" stroke="#e81e1e" stroke-width="0.45"/>
<line x1="316.66" y1="191.30" x2="316.66" y2="222.00" stroke="#e81e1e" stroke-width="0.45"/>
<rect x="314.46" y="165.70" width="4.40" height="25.60" fill="#ffffff" stroke="#e81e1e" stroke-width="0.6" fill-opacity="0.3"/>
<line x1="314.46" y1="178.50" x2="318.86" y2="178.50" stroke="#c00000" stroke-width="0.6"/>
<line x1="322.46" y1="184.90" x2="322.46" y2="202.80" stroke="#1a1ad0" stroke-width="0.45"/>
<line x1="322.46" y1="223.20" x2="322.46" y2="232.20" stroke="#1a1ad0" stroke-width="0.45"/>
<rect x="320.26" y="202.80" width="4.40" height="20.40" fill="#ffffff" stroke="#1a1ad0" stroke-width="0.6" fill-opacity="0.75"/>
<line x1="320.26" y1="211.70" x2="324.66" y2="211.70" stroke="#1a1ad0" stroke-width="0.6"/>
<line x1="328.26" y1="153.90" x2="328.26" y2="177.00" stroke="#e81e1e" stroke-width="0.45"/>
<line x1="328.26" y1="192.40" x2="328.26" y2="211.70" stroke="#e81e1e" stroke-width="0.45"/>
<rect x="326.06" y="177.00" width="4.40" height="15.40" fill="#ffffff" stroke="#e81e1e" stroke-width="0.6" fill-opacity="0.3"/>
<line x1="326.06" y1="184.70" x2="330.46" y2="184.70" stroke="#c00000" stroke-width="0.6"/>
<line x1="334.07" y1="198.70" x2="334.07" y2="214.00" stroke="#e81e1e" stroke-width="0.45"/>
<line x1="334.07" y1="229.30" x2="334.07" y2="233.20" stroke="#e81e1e" stroke-width="0.45"/>
<rect x="331.87" y="214.00" width="4.40" height="15.30" fill="#ffffff" stroke="#e81e1e" stroke-width="0.6" fill-opacity="0.2"/>
<line x1="331.87" y1="222.00" x2="336.27" y2="222.00" stroke="#c00000" stroke-width="0.6"/>
<line x1="339.88" y1="212.00" x2="339.88" y2="217.90" stroke="#1a1ad0" stroke-width="0.45"/>
<line x1="339.88" y1="226.80" x2="339.88" y2="231.00" stroke="#1a1ad0" stroke-width="0.45"/>
<rect x="337.68" y="217.90" width="4.40" height="8.90" fill="#ffffff" stroke="#1a1ad0" stroke-width="0.6" fill-opacity="0.75"/>
<line x1="337.68" y1="222.00" x2="342.07" y2="222.00" stroke="#1a1ad0" stroke-width="0.6"/>
<line x1="345.68" y1="147.70" x2="345.68" y2="168.00" stroke="#e81e1e" stroke-width="0.45"/>
<line x1="345.68" y1="189.80" x2="345.68" y2="222.50" stroke="#e81e1e" stroke-width="0.45"/>
<rect x="343.48" y="168.00" width="4.40" height="21.80" fill="#ffffff" stroke="#e81e1e" stroke-width="0.6" fill-opacity="0.3"/>
<line x1="343.48" y1="177.00" x2="347.88" y2="177.00" stroke="#c00000" stroke-width="0.6"/>
<line x1="351.49" y1="150.55" x2="351.49" y2="181.00" stroke="#e81e1e" stroke-width="0.45"/>
<line x1="351.49" y1="201.30" x2="351.49" y2="229.30" stroke="#e81e1e" stroke-width="0.45"/>
<rect x="349.29" y="181.00" width="4.40" height="20.30" fill="#ffffff" stroke="#e81e1e" stroke-width="0.6" fill-opacity="0.2"/>
<line x1="349.29" y1="189.80" x2="353.69" y2="189.80" stroke="#c00000" stroke-width="0.6"/>
<line x1="357.29" y1="209.00" x2="357.29" y2="219.00" stroke="#1a1ad0" stroke-width="0.45"/>
<line x1="357.29" y1="228.00" x2="357.29" y2="231.00" stroke="#1a1ad0" stroke-width="0.45"/>
<rect x="355.09" y="219.00" width="4.40" height="9.00" fill="#ffffff" stroke="#1a1ad0" stroke-width="0.6" fill-opacity="0.75"/>
<line x1="355.09" y1="223.50" x2="359.49" y2="223.50" stroke="#1a1ad0" stroke-width="0.6"/>
<line x1="363.10" y1="158.00" x2="363.10" y2="175.80" stroke="#e81e1e" stroke-width="0.45"/>
<line x1="363.10" y1="193.60" x2="363.10" y2="211.50" stroke="#e81e1e" stroke-width="0.45"/>
<rect x="360.90" y="175.80" width="4.40" height="17.80" fill="#ffffff" stroke="#e81e1e" stroke-width="0.6" fill-opacity="0.3"/>
<line x1="360.90" y1="184.70" x2="365.30" y2="184.70" stroke="#c00000" stroke-width="0.6"/>
<line x1="368.90" y1="201.60" x2="368.90" y2="219.00" stroke="#e81e1e" stroke-width="0.45"/>
<line x1="368.90" y1="230.60" x2="368.90" y2="233.20" stroke="#e81e1e" stroke-width="0.45"/>
<rect x="366.70" y="219.00" width="4.40" height="11.60" fill="#ffffff" stroke="#e81e1e" stroke-width="0.6" fill-opacity="0.3"/>
<line x1="366.70" y1="225.00" x2="371.10" y2="225.00" stroke="#c00000" stroke-width="0.6"/>
<text x="26.76" y="145.70" font-size="5.4" font-weight="bold" text-anchor="middle" fill="#222" stroke="#222" stroke-width="0.12">*</text>
<text x="29.31" y="145.70" font-size="5.4" font-weight="bold" text-anchor="middle" fill="#222" stroke="#222" stroke-width="0.12">*</text>
<text x="31.86" y="145.70" font-size="5.4" font-weight="bold" text-anchor="middle" fill="#222" stroke="#222" stroke-width="0.12">*</text>
<text x="38.37" y="145.70" font-size="5.4" font-weight="bold" text-anchor="middle" fill="#222" stroke="#222" stroke-width="0.12">*</text>
<text x="40.92" y="145.70" font-size="5.4" font-weight="bold" text-anchor="middle" fill="#222" stroke="#222" stroke-width="0.12">*</text>
<text x="43.47" y="145.70" font-size="5.4" font-weight="bold" text-anchor="middle" fill="#222" stroke="#222" stroke-width="0.12">*</text>
<text x="74.47" y="145.70" font-size="5.4" font-weight="bold" text-anchor="middle" fill="#222" stroke="#222" stroke-width="0.12">*</text>
<text x="77.02" y="145.70" font-size="5.4" font-weight="bold" text-anchor="middle" fill="#222" stroke="#222" stroke-width="0.12">*</text>
<text x="84.81" y="145.70" font-size="5.4" font-weight="bold" text-anchor="middle" fill="#222" stroke="#222" stroke-width="0.12">*</text>
<text x="87.36" y="145.70" font-size="5.4" font-weight="bold" text-anchor="middle" fill="#222" stroke="#222" stroke-width="0.12">*</text>
<text x="89.91" y="145.70" font-size="5.4" font-weight="bold" text-anchor="middle" fill="#222" stroke="#222" stroke-width="0.12">*</text>
<text x="96.42" y="145.70" font-size="5.4" font-weight="bold" text-anchor="middle" fill="#222" stroke="#222" stroke-width="0.12">*</text>
<text x="98.97" y="145.70" font-size="5.4" font-weight="bold" text-anchor="middle" fill="#222" stroke="#222" stroke-width="0.12">*</text>
<text x="101.52" y="145.70" font-size="5.4" font-weight="bold" text-anchor="middle" fill="#222" stroke="#222" stroke-width="0.12">*</text>
<text x="113.83" y="145.70" font-size="5.4" font-weight="bold" text-anchor="middle" fill="#222" stroke="#222" stroke-width="0.12">*</text>
<text x="116.38" y="145.70" font-size="5.4" font-weight="bold" text-anchor="middle" fill="#222" stroke="#222" stroke-width="0.12">*</text>
<text x="118.93" y="145.70" font-size="5.4" font-weight="bold" text-anchor="middle" fill="#222" stroke="#222" stroke-width="0.12">*</text>
<text x="125.44" y="145.70" font-size="5.4" font-weight="bold" text-anchor="middle" fill="#222" stroke="#222" stroke-width="0.12">*</text>
<text x="127.99" y="145.70" font-size="5.4" font-weight="bold" text-anchor="middle" fill="#222" stroke="#222" stroke-width="0.12">*</text>
<text x="130.54" y="145.70" font-size="5.4" font-weight="bold" text-anchor="middle" fill="#222" stroke="#222" stroke-width="0.12">*</text>
<text x="137.05" y="145.70" font-size="5.4" font-weight="bold" text-anchor="middle" fill="#222" stroke="#222" stroke-width="0.12">*</text>
<text x="139.60" y="145.70" font-size="5.4" font-weight="bold" text-anchor="middle" fill="#222" stroke="#222" stroke-width="0.12">*</text>
<text x="142.15" y="145.70" font-size="5.4" font-weight="bold" text-anchor="middle" fill="#222" stroke="#222" stroke-width="0.12">*</text>
<text x="148.66" y="145.70" font-size="5.4" font-weight="bold" text-anchor="middle" fill="#222" stroke="#222" stroke-width="0.12">*</text>
<text x="151.21" y="145.70" font-size="5.4" font-weight="bold" text-anchor="middle" fill="#222" stroke="#222" stroke-width="0.12">*</text>
<text x="153.76" y="145.70" font-size="5.4" font-weight="bold" text-anchor="middle" fill="#222" stroke="#222" stroke-width="0.12">*</text>
<text x="171.88" y="145.70" font-size="5.4" font-weight="bold" text-anchor="middle" fill="#222" stroke="#222" stroke-width="0.12">*</text>
<text x="174.43" y="145.70" font-size="5.4" font-weight="bold" text-anchor="middle" fill="#222" stroke="#222" stroke-width="0.12">*</text>
<text x="176.98" y="145.70" font-size="5.4" font-weight="bold" text-anchor="middle" fill="#222" stroke="#222" stroke-width="0.12">*</text>
<text x="183.49" y="145.70" font-size="5.4" font-weight="bold" text-anchor="middle" fill="#222" stroke="#222" stroke-width="0.12">*</text>
<text x="186.04" y="145.70" font-size="5.4" font-weight="bold" text-anchor="middle" fill="#222" stroke="#222" stroke-width="0.12">*</text>
<text x="188.59" y="145.70" font-size="5.4" font-weight="bold" text-anchor="middle" fill="#222" stroke="#222" stroke-width="0.12">*</text>
<text x="206.71" y="145.70" font-size="5.4" font-weight="bold" text-anchor="middle" fill="#222" stroke="#222" stroke-width="0.12">*</text>
<text x="209.26" y="145.70" font-size="5.4" font-weight="bold" text-anchor="middle" fill="#222" stroke="#222" stroke-width="0.12">*</text>
<text x="211.81" y="145.70" font-size="5.4" font-weight="bold" text-anchor="middle" fill="#222" stroke="#222" stroke-width="0.12">*</text>
<text x="218.32" y="145.70" font-size="5.4" font-weight="bold" text-anchor="middle" fill="#222" stroke="#222" stroke-width="0.12">*</text>
<text x="220.87" y="145.70" font-size="5.4" font-weight="bold" text-anchor="middle" fill="#222" stroke="#222" stroke-width="0.12">*</text>
<text x="223.42" y="145.70" font-size="5.4" font-weight="bold" text-anchor="middle" fill="#222" stroke="#222" stroke-width="0.12">*</text>
<text x="229.93" y="145.70" font-size="5.4" font-weight="bold" text-anchor="middle" fill="#222" stroke="#222" stroke-width="0.12">*</text>
<text x="232.48" y="145.70" font-size="5.4" font-weight="bold" text-anchor="middle" fill="#222" stroke="#222" stroke-width="0.12">*</text>
<text x="235.03" y="145.70" font-size="5.4" font-weight="bold" text-anchor="middle" fill="#222" stroke="#222" stroke-width="0.12">*</text>
<text x="276.37" y="145.70" font-size="5.4" font-weight="bold" text-anchor="middle" fill="#222" stroke="#222" stroke-width="0.12">*</text>
<text x="278.92" y="145.70" font-size="5.4" font-weight="bold" text-anchor="middle" fill="#222" stroke="#222" stroke-width="0.12">*</text>
<text x="281.47" y="145.70" font-size="5.4" font-weight="bold" text-anchor="middle" fill="#222" stroke="#222" stroke-width="0.12">*</text>
<text x="287.98" y="145.70" font-size="5.4" font-weight="bold" text-anchor="middle" fill="#222" stroke="#222" stroke-width="0.12">*</text>
<text x="290.53" y="145.70" font-size="5.4" font-weight="bold" text-anchor="middle" fill="#222" stroke="#222" stroke-width="0.12">*</text>
<text x="293.08" y="145.70" font-size="5.4" font-weight="bold" text-anchor="middle" fill="#222" stroke="#222" stroke-width="0.12">*</text>
<text x="305.40" y="145.70" font-size="5.4" font-weight="bold" text-anchor="middle" fill="#222" stroke="#222" stroke-width="0.12">*</text>
<text x="307.95" y="145.70" font-size="5.4" font-weight="bold" text-anchor="middle" fill="#222" stroke="#222" stroke-width="0.12">*</text>
<text x="310.50" y="145.70" font-size="5.4" font-weight="bold" text-anchor="middle" fill="#222" stroke="#222" stroke-width="0.12">*</text>
<text x="317.01" y="145.70" font-size="5.4" font-weight="bold" text-anchor="middle" fill="#222" stroke="#222" stroke-width="0.12">*</text>
<text x="319.56" y="145.70" font-size="5.4" font-weight="bold" text-anchor="middle" fill="#222" stroke="#222" stroke-width="0.12">*</text>
<text x="322.11" y="145.70" font-size="5.4" font-weight="bold" text-anchor="middle" fill="#222" stroke="#222" stroke-width="0.12">*</text>
<text x="336.97" y="145.70" font-size="5.4" font-weight="bold" text-anchor="middle" fill="#222" stroke="#222" stroke-width="0.12">*</text>
<text x="351.84" y="145.70" font-size="5.4" font-weight="bold" text-anchor="middle" fill="#222" stroke="#222" stroke-width="0.12">*</text>
<text x="354.39" y="145.70" font-size="5.4" font-weight="bold" text-anchor="middle" fill="#222" stroke="#222" stroke-width="0.12">*</text>
<text x="356.94" y="145.70" font-size="5.4" font-weight="bold" text-anchor="middle" fill="#222" stroke="#222" stroke-width="0.12">*</text>
<rect x="17.10" y="136.90" width="355.40" height="100.10" fill="none" stroke="#666" stroke-width="0.5"/>
<line x1="17.10" y1="136.90" x2="372.50" y2="136.90" stroke="#888" stroke-width="0.9"/>
<line x1="15.60" y1="232.90" x2="17.10" y2="232.90" stroke="#222" stroke-width="0.5"/>
<text x="14.40" y="234.30" font-size="4.0" text-anchor="end" fill="#222">0</text>
<line x1="15.60" y1="204.20" x2="17.10" y2="204.20" stroke="#222" stroke-width="0.5"/>
<text x="14.40" y="205.60" font-size="4.0" text-anchor="end" fill="#222">2</text>
<line x1="15.60" y1="175.50" x2="17.10" y2="175.50" stroke="#222" stroke-width="0.5"/>
<text x="14.40" y="176.90" font-size="4.0" text-anchor="end" fill="#222">4</text>
<line x1="15.60" y1="146.80" x2="17.10" y2="146.80" stroke="#222" stroke-width="0.5"/>
<text x="14.40" y="148.20" font-size="4.0" text-anchor="end" fill="#222">6</text>
<text x="9.60" y="186.90" font-size="5.45" text-anchor="middle" fill="#1a1a1a" transform="rotate(-90 9.60 186.90)" stroke="#1a1a1a" stroke-width="0.06">HMMR Expression Level (log2 TPM)</text>
<line x1="20.60" y1="237.00" x2="20.60" y2="238.20" stroke="#222" stroke-width="0.45"/>
<text x="23.00" y="240.50" font-size="4.5" text-anchor="end" fill="#333" transform="rotate(-90 23.00 240.50)">ACC Tumor (n=79)</text>
<line x1="26.41" y1="237.00" x2="26.41" y2="238.20" stroke="#222" stroke-width="0.45"/>
<text x="28.80" y="240.50" font-size="4.5" text-anchor="end" fill="#333" transform="rotate(-90 28.80 240.50)">BLCA Tumor (n=408)</text>
<line x1="32.21" y1="237.00" x2="32.21" y2="238.20" stroke="#222" stroke-width="0.45"/>
<text x="34.61" y="240.50" font-size="4.5" text-anchor="end" fill="#333" transform="rotate(-90 34.61 240.50)">BLCA Normal (n=19)</text>
<line x1="38.02" y1="237.00" x2="38.02" y2="238.20" stroke="#222" stroke-width="0.45"/>
<text x="40.41" y="240.50" font-size="4.5" text-anchor="end" fill="#333" transform="rotate(-90 40.41 240.50)">BRCA Tumor (n=1093)</text>
<line x1="43.82" y1="237.00" x2="43.82" y2="238.20" stroke="#222" stroke-width="0.45"/>
<text x="46.22" y="240.50" font-size="4.5" text-anchor="end" fill="#333" transform="rotate(-90 46.22 240.50)">BRCA Normal (n=112)</text>
<line x1="49.62" y1="237.00" x2="49.62" y2="238.20" stroke="#222" stroke-width="0.45"/>
<text x="52.02" y="240.50" font-size="4.5" text-anchor="end" fill="#333" transform="rotate(-90 52.02 240.50)">BRCA-Basal Tumor (n=190)</text>
<line x1="55.43" y1="237.00" x2="55.43" y2="238.20" stroke="#222" stroke-width="0.45"/>
<text x="57.83" y="240.50" font-size="4.5" text-anchor="end" fill="#333" transform="rotate(-90 57.83 240.50)">BRCA-Her2 Tumor (n=82)</text>
<line x1="61.23" y1="237.00" x2="61.23" y2="238.20" stroke="#222" stroke-width="0.45"/>
<text x="63.63" y="240.50" font-size="4.5" text-anchor="end" fill="#333" transform="rotate(-90 63.63 240.50)">BRCA-LumA Tumor (n=564)</text>
<line x1="67.04" y1="237.00" x2="67.04" y2="238.20" stroke="#222" stroke-width="0.45"/>
<text x="69.44" y="240.50" font-size="4.5" text-anchor="end" fill="#333" transform="rotate(-90 69.44 240.50)">BRCA-LumB Tumor (n=217)</text>
<line x1="72.84" y1="237.00" x2="72.84" y2="238.20" stroke="#222" stroke-width="0.45"/>
<text x="75.25" y="240.50" font-size="4.5" text-anchor="end" fill="#333" transform="rotate(-90 75.25 240.50)">CESC Tumor (n=304)</text>
<line x1="78.65" y1="237.00" x2="78.65" y2="238.20" stroke="#222" stroke-width="0.45"/>
<text x="81.05" y="240.50" font-size="4.5" text-anchor="end" fill="#333" transform="rotate(-90 81.05 240.50)">CESC Normal (n=3)</text>
<line x1="84.45" y1="237.00" x2="84.45" y2="238.20" stroke="#222" stroke-width="0.45"/>
<text x="86.86" y="240.50" font-size="4.5" text-anchor="end" fill="#333" transform="rotate(-90 86.86 240.50)">CHOL Tumor (n=36)</text>
<line x1="90.26" y1="237.00" x2="90.26" y2="238.20" stroke="#222" stroke-width="0.45"/>
<text x="92.66" y="240.50" font-size="4.5" text-anchor="end" fill="#333" transform="rotate(-90 92.66 240.50)">CHOL Normal (n=9)</text>
<line x1="96.06" y1="237.00" x2="96.06" y2="238.20" stroke="#222" stroke-width="0.45"/>
<text x="98.47" y="240.50" font-size="4.5" text-anchor="end" fill="#333" transform="rotate(-90 98.47 240.50)">COAD Tumor (n=457)</text>
<line x1="101.87" y1="237.00" x2="101.87" y2="238.20" stroke="#222" stroke-width="0.45"/>
<text x="104.27" y="240.50" font-size="4.5" text-anchor="end" fill="#333" transform="rotate(-90 104.27 240.50)">COAD Normal (n=41)</text>
<line x1="107.67" y1="237.00" x2="107.67" y2="238.20" stroke="#222" stroke-width="0.45"/>
<text x="110.07" y="240.50" font-size="4.5" text-anchor="end" fill="#333" transform="rotate(-90 110.07 240.50)">DLBC Tumor (n=48)</text>
<line x1="113.48" y1="237.00" x2="113.48" y2="238.20" stroke="#222" stroke-width="0.45"/>
<text x="115.88" y="240.50" font-size="4.5" text-anchor="end" fill="#333" transform="rotate(-90 115.88 240.50)">ESCA Tumor (n=184)</text>
<line x1="119.28" y1="237.00" x2="119.28" y2="238.20" stroke="#222" stroke-width="0.45"/>
<text x="121.69" y="240.50" font-size="4.5" text-anchor="end" fill="#333" transform="rotate(-90 121.69 240.50)">ESCA Normal (n=11)</text>
<line x1="125.09" y1="237.00" x2="125.09" y2="238.20" stroke="#222" stroke-width="0.45"/>
<text x="127.49" y="240.50" font-size="4.5" text-anchor="end" fill="#333" transform="rotate(-90 127.49 240.50)">GBM Tumor (n=153)</text>
<line x1="130.89" y1="237.00" x2="130.89" y2="238.20" stroke="#222" stroke-width="0.45"/>
<text x="133.29" y="240.50" font-size="4.5" text-anchor="end" fill="#333" transform="rotate(-90 133.29 240.50)">GBM Normal (n=5)</text>
<line x1="136.70" y1="237.00" x2="136.70" y2="238.20" stroke="#222" stroke-width="0.45"/>
<text x="139.10" y="240.50" font-size="4.5" text-anchor="end" fill="#333" transform="rotate(-90 139.10 240.50)">HNSC Tumor (n=520)</text>
<line x1="142.50" y1="237.00" x2="142.50" y2="238.20" stroke="#222" stroke-width="0.45"/>
<text x="144.91" y="240.50" font-size="4.5" text-anchor="end" fill="#333" transform="rotate(-90 144.91 240.50)">HNSC Normal (n=44)</text>
<line x1="148.31" y1="237.00" x2="148.31" y2="238.20" stroke="#222" stroke-width="0.45"/>
<text x="150.71" y="240.50" font-size="4.5" text-anchor="end" fill="#333" transform="rotate(-90 150.71 240.50)">HNSC-HPV+ Tumor (n=97)</text>
<line x1="154.11" y1="237.00" x2="154.11" y2="238.20" stroke="#222" stroke-width="0.45"/>
<text x="156.51" y="240.50" font-size="4.5" text-anchor="end" fill="#333" transform="rotate(-90 156.51 240.50)">HNSC-HPV- Tumor (n=421)</text>
<line x1="159.92" y1="237.00" x2="159.92" y2="238.20" stroke="#222" stroke-width="0.45"/>
<text x="162.32" y="240.50" font-size="4.5" text-anchor="end" fill="#333" transform="rotate(-90 162.32 240.50)">KICH Tumor (n=66)</text>
<line x1="165.72" y1="237.00" x2="165.72" y2="238.20" stroke="#222" stroke-width="0.45"/>
<text x="168.12" y="240.50" font-size="4.5" text-anchor="end" fill="#333" transform="rotate(-90 168.12 240.50)">KICH Normal (n=25)</text>
<line x1="171.53" y1="237.00" x2="171.53" y2="238.20" stroke="#222" stroke-width="0.45"/>
<text x="173.93" y="240.50" font-size="4.5" text-anchor="end" fill="#333" transform="rotate(-90 173.93 240.50)">KIRC Tumor (n=533)</text>
<line x1="177.33" y1="237.00" x2="177.33" y2="238.20" stroke="#222" stroke-width="0.45"/>
<text x="179.73" y="240.50" font-size="4.5" text-anchor="end" fill="#333" transform="rotate(-90 179.73 240.50)">KIRC Normal (n=72)</text>
<line x1="183.14" y1="237.00" x2="183.14" y2="238.20" stroke="#222" stroke-width="0.45"/>
<text x="185.54" y="240.50" font-size="4.5" text-anchor="end" fill="#333" transform="rotate(-90 185.54 240.50)">KIRP Tumor (n=290)</text>
<line x1="188.94" y1="237.00" x2="188.94" y2="238.20" stroke="#222" stroke-width="0.45"/>
<text x="191.34" y="240.50" font-size="4.5" text-anchor="end" fill="#333" transform="rotate(-90 191.34 240.50)">KIRP Normal (n=32)</text>
<line x1="194.75" y1="237.00" x2="194.75" y2="238.20" stroke="#222" stroke-width="0.45"/>
<text x="197.15" y="240.50" font-size="4.5" text-anchor="end" fill="#333" transform="rotate(-90 197.15 240.50)">LAML Tumor (n=173)</text>
<line x1="200.55" y1="237.00" x2="200.55" y2="238.20" stroke="#222" stroke-width="0.45"/>
<text x="202.95" y="240.50" font-size="4.5" text-anchor="end" fill="#333" transform="rotate(-90 202.95 240.50)">LGG Tumor (n=516)</text>
<line x1="206.36" y1="237.00" x2="206.36" y2="238.20" stroke="#222" stroke-width="0.45"/>
<text x="208.76" y="240.50" font-size="4.5" text-anchor="end" fill="#333" transform="rotate(-90 208.76 240.50)">LIHC Tumor (n=371)</text>
<line x1="212.16" y1="237.00" x2="212.16" y2="238.20" stroke="#222" stroke-width="0.45"/>
<text x="214.56" y="240.50" font-size="4.5" text-anchor="end" fill="#333" transform="rotate(-90 214.56 240.50)">LIHC Normal (n=50)</text>
<line x1="217.97" y1="237.00" x2="217.97" y2="238.20" stroke="#222" stroke-width="0.45"/>
<text x="220.37" y="240.50" font-size="4.5" text-anchor="end" fill="#ff2a2a" transform="rotate(-90 220.37 240.50)">LUAD Tumor (n=515)</text>
<line x1="223.77" y1="237.00" x2="223.77" y2="238.20" stroke="#222" stroke-width="0.45"/>
<text x="226.17" y="240.50" font-size="4.5" text-anchor="end" fill="#4a4ae0" transform="rotate(-90 226.17 240.50)">LUAD Normal (n=59)</text>
<line x1="229.58" y1="237.00" x2="229.58" y2="238.20" stroke="#222" stroke-width="0.45"/>
<text x="231.98" y="240.50" font-size="4.5" text-anchor="end" fill="#333" transform="rotate(-90 231.98 240.50)">LUSC Tumor (n=501)</text>
<line x1="235.38" y1="237.00" x2="235.38" y2="238.20" stroke="#222" stroke-width="0.45"/>
<text x="237.78" y="240.50" font-size="4.5" text-anchor="end" fill="#333" transform="rotate(-90 237.78 240.50)">LUSC Normal (n=51)</text>
<line x1="241.19" y1="237.00" x2="241.19" y2="238.20" stroke="#222" stroke-width="0.45"/>
<text x="243.59" y="240.50" font-size="4.5" text-anchor="end" fill="#333" transform="rotate(-90 243.59 240.50)">MESO Tumor (n=87)</text>
<line x1="246.99" y1="237.00" x2="246.99" y2="238.20" stroke="#222" stroke-width="0.45"/>
<text x="249.39" y="240.50" font-size="4.5" text-anchor="end" fill="#333" transform="rotate(-90 249.39 240.50)">OV Tumor (n=303)</text>
<line x1="252.80" y1="237.00" x2="252.80" y2="238.20" stroke="#222" stroke-width="0.45"/>
<text x="255.20" y="240.50" font-size="4.5" text-anchor="end" fill="#333" transform="rotate(-90 255.20 240.50)">PAAD Tumor (n=178)</text>
<line x1="258.61" y1="237.00" x2="258.61" y2="238.20" stroke="#222" stroke-width="0.45"/>
<text x="261.00" y="240.50" font-size="4.5" text-anchor="end" fill="#333" transform="rotate(-90 261.00 240.50)">PAAD Normal (n=4)</text>
<line x1="264.41" y1="237.00" x2="264.41" y2="238.20" stroke="#222" stroke-width="0.45"/>
<text x="266.81" y="240.50" font-size="4.5" text-anchor="end" fill="#333" transform="rotate(-90 266.81 240.50)">PCPG Tumor (n=179)</text>
<line x1="270.21" y1="237.00" x2="270.21" y2="238.20" stroke="#222" stroke-width="0.45"/>
<text x="272.61" y="240.50" font-size="4.5" text-anchor="end" fill="#333" transform="rotate(-90 272.61 240.50)">PCPG Normal (n=3)</text>
<line x1="276.02" y1="237.00" x2="276.02" y2="238.20" stroke="#222" stroke-width="0.45"/>
<text x="278.42" y="240.50" font-size="4.5" text-anchor="end" fill="#333" transform="rotate(-90 278.42 240.50)">PRAD Tumor (n=497)</text>
<line x1="281.82" y1="237.00" x2="281.82" y2="238.20" stroke="#222" stroke-width="0.45"/>
<text x="284.22" y="240.50" font-size="4.5" text-anchor="end" fill="#333" transform="rotate(-90 284.22 240.50)">PRAD Normal (n=52)</text>
<line x1="287.63" y1="237.00" x2="287.63" y2="238.20" stroke="#222" stroke-width="0.45"/>
<text x="290.03" y="240.50" font-size="4.5" text-anchor="end" fill="#333" transform="rotate(-90 290.03 240.50)">READ Tumor (n=166)</text>
<line x1="293.44" y1="237.00" x2="293.44" y2="238.20" stroke="#222" stroke-width="0.45"/>
<text x="295.83" y="240.50" font-size="4.5" text-anchor="end" fill="#333" transform="rotate(-90 295.83 240.50)">READ Normal (n=10)</text>
<line x1="299.24" y1="237.00" x2="299.24" y2="238.20" stroke="#222" stroke-width="0.45"/>
<text x="301.64" y="240.50" font-size="4.5" text-anchor="end" fill="#333" transform="rotate(-90 301.64 240.50)">SARC Tumor (n=259)</text>
<line x1="305.05" y1="237.00" x2="305.05" y2="238.20" stroke="#222" stroke-width="0.45"/>
<text x="307.44" y="240.50" font-size="4.5" text-anchor="end" fill="#333" transform="rotate(-90 307.44 240.50)">SKCM Tumor (n=103)</text>
<line x1="310.85" y1="237.00" x2="310.85" y2="238.20" stroke="#222" stroke-width="0.45"/>
<text x="313.25" y="240.50" font-size="4.5" text-anchor="end" fill="#333" transform="rotate(-90 313.25 240.50)">SKCM Metastasis (n=368)</text>
<line x1="316.66" y1="237.00" x2="316.66" y2="238.20" stroke="#222" stroke-width="0.45"/>
<text x="319.06" y="240.50" font-size="4.5" text-anchor="end" fill="#333" transform="rotate(-90 319.06 240.50)">STAD Tumor (n=415)</text>
<line x1="322.46" y1="237.00" x2="322.46" y2="238.20" stroke="#222" stroke-width="0.45"/>
<text x="324.86" y="240.50" font-size="4.5" text-anchor="end" fill="#333" transform="rotate(-90 324.86 240.50)">STAD Normal (n=35)</text>
<line x1="328.26" y1="237.00" x2="328.26" y2="238.20" stroke="#222" stroke-width="0.45"/>
<text x="330.66" y="240.50" font-size="4.5" text-anchor="end" fill="#333" transform="rotate(-90 330.66 240.50)">TGCT Tumor (n=150)</text>
<line x1="334.07" y1="237.00" x2="334.07" y2="238.20" stroke="#222" stroke-width="0.45"/>
<text x="336.47" y="240.50" font-size="4.5" text-anchor="end" fill="#333" transform="rotate(-90 336.47 240.50)">THCA Tumor (n=501)</text>
<line x1="339.88" y1="237.00" x2="339.88" y2="238.20" stroke="#222" stroke-width="0.45"/>
<text x="342.27" y="240.50" font-size="4.5" text-anchor="end" fill="#333" transform="rotate(-90 342.27 240.50)">THCA Normal (n=59)</text>
<line x1="345.68" y1="237.00" x2="345.68" y2="238.20" stroke="#222" stroke-width="0.45"/>
<text x="348.08" y="240.50" font-size="4.5" text-anchor="end" fill="#333" transform="rotate(-90 348.08 240.50)">THYM Tumor (n=120)</text>
<line x1="351.49" y1="237.00" x2="351.49" y2="238.20" stroke="#222" stroke-width="0.45"/>
<text x="353.88" y="240.50" font-size="4.5" text-anchor="end" fill="#333" transform="rotate(-90 353.88 240.50)">UCEC Tumor (n=545)</text>
<line x1="357.29" y1="237.00" x2="357.29" y2="238.20" stroke="#222" stroke-width="0.45"/>
<text x="359.69" y="240.50" font-size="4.5" text-anchor="end" fill="#333" transform="rotate(-90 359.69 240.50)">UCEC Normal (n=35)</text>
<line x1="363.10" y1="237.00" x2="363.10" y2="238.20" stroke="#222" stroke-width="0.45"/>
<text x="365.50" y="240.50" font-size="4.5" text-anchor="end" fill="#333" transform="rotate(-90 365.50 240.50)">UCS Tumor (n=57)</text>
<line x1="368.90" y1="237.00" x2="368.90" y2="238.20" stroke="#222" stroke-width="0.45"/>
<text x="371.30" y="240.50" font-size="4.5" text-anchor="end" fill="#333" transform="rotate(-90 371.30 240.50)">UVM Tumor (n=80)</text>
<text x="0.00" y="306.60" font-size="5.6" font-weight="bold" text-anchor="start" fill="#000">C</text>
<rect x="21.30" y="312.40" width="116.70" height="76.20" fill="none" stroke="#222" stroke-width="0.55"/>
<line x1="20.00" y1="384.70" x2="21.30" y2="384.70" stroke="#222" stroke-width="0.5"/>
<text x="19.10" y="385.90" font-size="3.4" font-weight="bold" text-anchor="end" fill="#111" stroke="#111" stroke-width="0.13">0</text>
<line x1="20.00" y1="370.60" x2="21.30" y2="370.60" stroke="#222" stroke-width="0.5"/>
<text x="19.10" y="371.80" font-size="3.4" font-weight="bold" text-anchor="end" fill="#111" stroke="#111" stroke-width="0.13">5</text>
<line x1="20.00" y1="356.50" x2="21.30" y2="356.50" stroke="#222" stroke-width="0.5"/>
<text x="19.10" y="357.70" font-size="3.4" font-weight="bold" text-anchor="end" fill="#111" stroke="#111" stroke-width="0.13">10</text>
<line x1="20.00" y1="342.40" x2="21.30" y2="342.40" stroke="#222" stroke-width="0.5"/>
<text x="19.10" y="343.60" font-size="3.4" font-weight="bold" text-anchor="end" fill="#111" stroke="#111" stroke-width="0.13">15</text>
<line x1="20.00" y1="328.30" x2="21.30" y2="328.30" stroke="#222" stroke-width="0.5"/>
<text x="19.10" y="329.50" font-size="3.4" font-weight="bold" text-anchor="end" fill="#111" stroke="#111" stroke-width="0.13">20</text>
<line x1="20.00" y1="314.20" x2="21.30" y2="314.20" stroke="#222" stroke-width="0.5"/>
<text x="19.10" y="315.40" font-size="3.4" font-weight="bold" text-anchor="end" fill="#111" stroke="#111" stroke-width="0.13">25</text>
<text x="12.70" y="351.00" font-size="3.5" font-weight="bold" text-anchor="middle" fill="#111" transform="rotate(-90 12.70 351.00)" stroke="#111" stroke-width="0.13">HMMR expression</text>
<line x1="49.00" y1="388.60" x2="49.00" y2="389.80" stroke="#222" stroke-width="0.5"/>
<line x1="109.50" y1="388.60" x2="109.50" y2="389.80" stroke="#222" stroke-width="0.5"/>
<text x="49.00" y="394.60" font-size="3.7" font-weight="bold" text-anchor="middle" fill="#111" stroke="#111" stroke-width="0.13">Normal (54)</text>
<text x="109.50" y="394.60" font-size="3.7" font-weight="bold" text-anchor="middle" fill="#111" stroke="#111" stroke-width="0.13">Tumor (497)</text>
<text x="79.00" y="399.60" font-size="3.6" font-weight="bold" text-anchor="middle" fill="#111" stroke="#111" stroke-width="0.13">TCGA samples</text>
<line x1="49.10" y1="320.00" x2="109.60" y2="320.00" stroke="#222" stroke-width="0.55"/>
<line x1="49.10" y1="320.00" x2="49.10" y2="321.20" stroke="#222" stroke-width="0.5"/>
<line x1="109.60" y1="320.00" x2="109.60" y2="321.20" stroke="#222" stroke-width="0.5"/>
<text x="79.00" y="318.30" font-size="3.8" font-weight="bold" text-anchor="middle" fill="#111" stroke="#111" stroke-width="0.13">p = 4.46e-30</text>
<text x="79.00" y="325.00" font-size="3.8" font-weight="bold" text-anchor="middle" fill="#111" stroke="#111" stroke-width="0.13">(independent t-test)</text>
<path d="M109.6 384.3h0M110.7 384.3h0M108.4 384.2h0M112.1 384.3h0M107.1 384.4h0M113.2 384.1h0M105.9 384.1h0M114.5 384.1h0M104.5 384.0h0M115.8 384.4h0M103.2 384.4h0M116.9 384.1h0M102.1 384.3h0M118.1 384.0h0M100.8 384.0h0M119.5 384.0h0M99.6 384.4h0M120.9 384.2h0M98.2 384.2h0M121.9 384.2h0M97.0 384.2h0M123.2 384.2h0M95.6 384.3h0M124.6 384.2h0M94.5 384.1h0M125.8 384.3h0M93.3 384.3h0M109.4 383.0h0M110.9 383.1h0M108.3 382.9h0M112.0 383.2h0M107.0 382.9h0M113.1 382.8h0M105.8 382.8h0M114.4 383.0h0M104.6 383.0h0M115.8 382.9h0M103.2 383.1h0M117.1 383.0h0M102.1 383.1h0M118.1 383.1h0M100.7 383.0h0M119.4 383.0h0M99.6 382.8h0M120.7 383.0h0M98.3 383.0h0M122.1 383.1h0M97.0 382.9h0M123.2 383.0h0M95.6 383.0h0M124.4 382.9h0M94.5 383.0h0M125.6 383.0h0M93.2 383.1h0M127.1 383.0h0M91.9 383.2h0M128.1 383.2h0M90.8 383.1h0M129.6 382.8h0M89.6 383.0h0M109.4 381.7h0M110.8 381.6h0M108.2 381.9h0M112.0 381.7h0M107.1 381.9h0M113.1 381.6h0M105.8 381.8h0M114.4 381.8h0M104.6 381.7h0M115.8 381.7h0M103.2 381.7h0M116.9 381.7h0M102.1 381.7h0M118.2 381.8h0M100.6 381.9h0M119.4 381.8h0M99.5 381.6h0M120.9 381.9h0M98.1 381.7h0M122.1 381.7h0M96.9 381.7h0M123.1 381.7h0M95.8 381.8h0M124.4 381.7h0M94.5 381.8h0M125.8 381.7h0M93.3 381.6h0M127.1 381.9h0M92.1 381.8h0M128.2 381.8h0M109.5 380.6h0M110.9 380.7h0M108.2 380.6h0M112.0 380.7h0M106.9 380.4h0M113.2 380.5h0M105.9 380.5h0M114.4 380.7h0M104.4 380.5h0M115.9 380.6h0M103.3 380.4h0M117.1 380.4h0M102.0 380.4h0M118.2 380.4h0M100.8 380.6h0M119.4 380.4h0M99.4 380.5h0M120.9 380.4h0M98.3 380.5h0M122.1 380.6h0M97.1 380.5h0M123.3 380.7h0M95.9 380.5h0M124.6 380.4h0M94.5 380.7h0M125.9 380.6h0M93.2 380.7h0M127.1 380.6h0M109.4 379.4h0M110.8 379.5h0M108.3 379.1h0M112.0 379.4h0M107.1 379.5h0M113.3 379.5h0M105.8 379.2h0M114.5 379.2h0M104.4 379.2h0M115.6 379.1h0M103.2 379.5h0M116.9 379.4h0M102.0 379.2h0M118.2 379.2h0M100.7 379.5h0M119.4 379.1h0M99.6 379.3h0M120.9 379.4h0M98.3 379.3h0M121.9 379.2h0M97.0 379.3h0M123.1 379.3h0M95.9 379.4h0M124.6 379.5h0M94.4 379.4h0M125.9 379.4h0M93.2 379.4h0M127.0 379.3h0M91.9 379.1h0M109.6 378.0h0M110.8 377.9h0M108.3 377.9h0M111.9 378.0h0M107.0 378.0h0M113.3 378.0h0M105.8 378.0h0M114.4 378.0h0M104.6 378.2h0M115.7 378.2h0M103.3 378.0h0M116.9 378.0h0M101.9 378.2h0M118.3 378.0h0M100.7 378.2h0M119.4 377.9h0M99.6 378.3h0M120.7 377.9h0M98.2 377.9h0M122.1 378.1h0M96.9 378.3h0M123.4 378.2h0M95.9 378.2h0M124.4 378.0h0M94.4 378.0h0M109.4 376.9h0M110.6 376.9h0M108.1 376.9h0M112.1 376.7h0M107.0 376.7h0M113.2 376.9h0M105.9 377.0h0M114.6 377.0h0M104.4 376.9h0M115.9 376.9h0M103.3 376.7h0M117.0 376.7h0M102.0 376.8h0M118.2 376.9h0M100.8 377.1h0M119.4 376.8h0M99.5 376.9h0M120.7 376.9h0M98.2 376.8h0M121.9 376.7h0M96.9 377.0h0M123.1 377.0h0M95.8 376.8h0M124.6 377.1h0M94.6 376.7h0M125.9 377.0h0M93.4 377.0h0M127.0 376.8h0M92.0 376.8h0M128.2 377.0h0M90.7 377.0h0M129.4 376.9h0M89.5 377.1h0M130.8 377.1h0M109.6 375.7h0M110.8 375.7h0M108.3 375.8h0M111.9 375.8h0M107.0 375.7h0M113.2 375.8h0M105.9 375.6h0M114.5 375.7h0M104.6 375.7h0M115.6 375.7h0M103.3 375.8h0M117.1 375.5h0M102.0 375.7h0M118.2 375.5h0M100.8 375.6h0M119.4 375.5h0M99.6 375.8h0M120.8 375.7h0M98.3 375.8h0M122.0 375.8h0M96.9 375.8h0M123.2 375.5h0M95.7 375.6h0M124.5 375.7h0M94.6 375.6h0M125.8 375.5h0M93.2 375.5h0M127.1 375.5h0M109.5 374.3h0M110.7 374.3h0M108.3 374.3h0M112.1 374.5h0M107.1 374.3h0M113.2 374.5h0M105.7 374.5h0M114.6 374.4h0M104.6 374.3h0M115.7 374.5h0M103.3 374.4h0M117.0 374.3h0M102.1 374.4h0M118.3 374.4h0M100.8 374.4h0M119.6 374.6h0M99.6 374.4h0M120.9 374.3h0M98.2 374.3h0M122.0 374.4h0M97.0 374.6h0M109.4 373.3h0M110.7 373.3h0M108.3 373.2h0M112.1 373.3h0M107.1 373.3h0M113.2 373.2h0M105.9 373.0h0M114.4 373.2h0M104.5 373.4h0M115.7 373.2h0M103.4 373.3h0M116.9 373.4h0M101.9 373.2h0M118.1 373.1h0M100.7 373.0h0M119.6 373.3h0M99.6 373.3h0M120.8 373.3h0M98.4 373.1h0M122.0 373.3h0M97.1 373.3h0M123.4 373.4h0M95.9 373.2h0M124.6 373.0h0M94.4 373.3h0M125.9 373.1h0M93.4 373.3h0M109.6 372.0h0M110.8 372.2h0M108.4 372.2h0M112.1 372.0h0M107.1 372.1h0M113.2 372.1h0M105.7 371.8h0M114.5 372.0h0M104.4 372.1h0M115.8 371.9h0M103.3 372.0h0M117.1 372.0h0M102.0 372.1h0M118.3 372.1h0M100.7 372.2h0M119.4 372.0h0M99.5 371.9h0M120.8 371.9h0M98.3 371.9h0M121.9 371.9h0M96.9 372.1h0M109.5 370.7h0M110.7 370.8h0M108.2 370.8h0M112.0 371.0h0M107.1 370.8h0M113.3 371.0h0M105.9 370.7h0M114.4 370.6h0M104.6 370.7h0M115.7 370.9h0M103.2 370.6h0M116.9 370.9h0M102.0 370.7h0M118.1 370.8h0M100.8 370.7h0M119.5 370.9h0M99.6 370.9h0M120.8 370.9h0M109.6 369.7h0M110.8 369.6h0M108.3 369.4h0M112.1 369.4h0M107.1 369.4h0M113.1 369.5h0M105.7 369.7h0M114.4 369.5h0M104.6 369.7h0M115.8 369.4h0M103.3 369.5h0M116.9 369.4h0M102.0 369.5h0M118.3 369.4h0M100.9 369.6h0M119.6 369.5h0M99.5 369.6h0M120.7 369.5h0M98.3 369.7h0M121.9 369.4h0M97.1 369.7h0M123.2 369.7h0M109.6 368.2h0M110.7 368.4h0M108.1 368.4h0M112.1 368.2h0M107.0 368.5h0M113.1 368.5h0M105.6 368.4h0M114.6 368.5h0M104.4 368.5h0M115.9 368.4h0M103.4 368.3h0M117.1 368.2h0M102.1 368.3h0M118.2 368.5h0M100.9 368.3h0M119.5 368.5h0M99.5 368.2h0M120.6 368.3h0M98.3 368.2h0M121.9 368.5h0M97.0 368.4h0M109.5 366.9h0M110.9 367.0h0M108.3 367.0h0M112.0 367.1h0M107.1 367.0h0M113.3 367.2h0M105.6 367.2h0M114.4 367.1h0M104.4 367.1h0M115.8 366.9h0M103.3 367.3h0M116.9 367.2h0M102.0 367.2h0M118.1 367.0h0M100.8 367.2h0M119.4 367.2h0M109.5 366.0h0M110.8 366.1h0M108.4 366.0h0M112.1 365.8h0M107.1 366.0h0M113.3 365.9h0M105.9 366.1h0M114.5 366.0h0M104.4 366.1h0M115.8 366.0h0M103.3 366.1h0M117.0 365.8h0M101.9 366.1h0M118.1 365.8h0M100.7 366.1h0M119.6 365.8h0M109.6 364.9h0M110.8 364.6h0M108.2 364.6h0M111.9 364.6h0M107.1 364.8h0M113.3 364.7h0M105.8 364.8h0M114.4 364.6h0M104.4 364.5h0M115.8 364.7h0M103.4 364.5h0M109.5 363.3h0M110.7 363.3h0M108.1 363.6h0M112.0 363.3h0M107.1 363.3h0M113.1 363.4h0M105.9 363.4h0M114.6 363.3h0M104.6 363.5h0M115.6 363.5h0M103.1 363.4h0M116.9 363.6h0M109.5 362.2h0M110.9 362.1h0M108.3 362.1h0M112.1 362.4h0M106.9 362.2h0M113.3 362.4h0M105.8 362.4h0M114.4 362.1h0M104.6 362.2h0M115.6 362.4h0M109.6 360.8h0M110.6 360.9h0M108.1 360.8h0M111.9 360.9h0M107.1 361.2h0M113.1 361.0h0M105.7 361.0h0M114.4 361.2h0M104.6 361.2h0M109.6 359.8h0M110.7 360.0h0M108.2 359.8h0M111.9 359.9h0M106.9 359.9h0M113.1 359.6h0M109.5 358.5h0M110.8 358.6h0M108.2 358.5h0M111.9 358.7h0M107.1 358.5h0M113.3 358.7h0M109.6 357.4h0M110.8 357.3h0M108.4 357.4h0M112.0 357.5h0M107.0 357.5h0M113.3 357.5h0M109.6 356.0h0M110.6 356.2h0M108.3 356.0h0M111.9 356.0h0M109.4 355.0h0M110.9 355.1h0M108.2 355.0h0M112.1 354.7h0M106.9 354.9h0M109.6 353.6h0M110.8 353.9h0M108.3 353.7h0M112.0 353.6h0M109.4 352.3h0M110.8 352.4h0M108.4 352.7h0M109.6 351.1h0M110.8 351.1h0M108.4 351.4h0M109.5 350.1h0M110.7 350.1h0M108.2 349.9h0M109.6 348.7h0M110.8 348.9h0M109.4 347.6h0M109.4 346.5h0M110.8 346.6h0M109.6 345.2h0M109.6 343.8h0M109.6 342.6h0M109.5 340.1h0M109.4 339.0h0M109.6 338.0h0M109.6 336.8h0M109.5 335.5h0M109.6 334.2h0M109.6 333.1h0M109.5 331.8h0M109.6 330.3h0M109.4 329.3h0M109.4 328.0h0" stroke="#ff2424" stroke-width="1.25" stroke-linecap="round" fill="none"/>
<path d="M113.2 384.1h0M105.9 384.1h0M114.5 384.1h0M116.9 384.1h0M118.1 384.0h0M100.8 384.0h0M119.5 384.0h0M99.6 384.4h0M95.6 384.3h0M109.4 383.0h0M108.3 382.9h0M102.1 383.1h0M119.4 383.0h0M98.3 383.0h0M97.0 382.9h0M123.2 383.0h0M124.4 382.9h0M93.2 383.1h0M91.9 383.2h0M90.8 383.1h0M89.6 383.0h0M113.1 381.6h0M104.6 381.7h0M99.5 381.6h0M98.1 381.7h0M123.1 381.7h0M109.5 380.6h0M117.1 380.4h0M102.0 380.4h0M127.1 380.6h0M112.0 379.4h0M113.3 379.5h0M115.6 379.1h0M118.2 379.2h0M121.9 379.2h0M97.0 379.3h0M123.1 379.3h0M95.9 379.4h0M125.9 379.4h0M91.9 379.1h0M110.8 377.9h0M108.3 377.9h0M104.6 378.2h0M119.4 377.9h0M95.9 378.2h0M124.4 378.0h0M109.4 376.9h0M107.0 376.7h0M113.2 376.9h0M102.0 376.8h0M93.4 377.0h0M90.7 377.0h0M129.4 376.9h0M110.8 375.7h0M104.6 375.7h0M115.6 375.7h0M120.8 375.7h0M98.3 375.8h0M95.7 375.6h0M124.5 375.7h0M110.7 374.3h0M107.1 374.3h0M104.6 374.3h0M117.0 374.3h0M100.8 374.4h0M98.2 374.3h0M113.2 373.2h0M116.9 373.4h0M118.1 373.1h0M123.4 373.4h0M95.9 373.2h0M125.9 373.1h0M109.6 372.0h0M108.4 372.2h0M119.4 372.0h0M99.5 371.9h0M121.9 371.9h0M119.5 370.9h0M103.3 369.5h0M102.0 369.5h0M100.9 369.6h0M119.6 369.5h0M97.1 369.7h0M123.2 369.7h0M107.0 368.5h0M113.1 368.5h0M115.9 368.4h0M99.5 368.2h0M120.6 368.3h0M121.9 368.5h0M112.0 367.1h0M104.4 367.1h0M115.8 366.9h0M102.0 367.2h0M109.5 366.0h0M107.1 366.0h0M114.5 366.0h0M104.4 366.1h0M101.9 366.1h0M118.1 365.8h0M119.6 365.8h0M109.6 364.9h0M111.9 364.6h0M113.3 364.7h0M105.8 364.8h0M110.7 363.3h0M108.1 363.6h0M112.0 363.3h0M114.6 363.3h0M108.3 362.1h0M114.4 362.1h0M109.6 360.8h0M111.9 360.9h0M107.1 361.2h0M113.1 361.0h0M109.6 359.8h0M108.2 359.8h0M111.9 358.7h0M111.9 356.0h0M108.2 355.0h0M112.1 354.7h0M110.8 352.4h0M109.4 347.6h0M109.4 346.5h0M109.5 340.1h0M109.6 330.3h0M109.4 329.3h0" stroke="#d80000" stroke-opacity="0.6" stroke-width="0.8" stroke-linecap="round" fill="none"/>
<line x1="90.50" y1="384.40" x2="128.50" y2="384.40" stroke="#b00000" stroke-width="0.5"/>
<path d="M49.0 383.4h0M50.0 383.4h0M48.0 383.4h0M50.9 383.4h0M47.1 383.4h0M51.9 383.4h0M46.1 383.4h0M52.8 383.4h0M45.2 383.4h0M53.8 383.4h0M44.2 383.4h0M54.7 383.4h0M43.3 383.4h0M55.6 383.4h0M42.4 383.4h0M56.6 383.4h0M41.4 383.4h0M57.5 383.4h0M40.5 383.4h0M58.5 383.4h0M39.5 383.4h0M59.5 383.4h0M38.5 383.4h0M60.4 383.4h0M37.6 383.4h0M61.4 383.4h0M49.0 382.3h0M50.0 382.3h0M48.0 382.3h0M50.9 382.3h0M47.1 382.3h0M51.9 382.3h0M46.1 382.3h0M52.8 382.3h0M45.2 382.3h0M53.8 382.3h0M44.2 382.3h0M54.7 382.3h0M43.3 382.3h0M55.6 382.3h0M42.4 382.3h0M56.6 382.3h0M41.4 382.3h0M57.5 382.3h0M40.5 382.3h0M58.5 382.3h0M39.5 382.3h0M59.5 382.3h0M38.5 382.3h0M60.4 382.3h0M49.0 381.3h0M50.0 381.3h0M48.0 381.3h0M50.9 381.3h0M47.1 381.3h0M51.9 381.3h0M49.3 379.6h0M48.8 380.4h0" stroke="#1a1ad8" stroke-width="1.1" stroke-linecap="round" fill="none"/>
<rect x="85.30" y="368.70" width="48.30" height="11.60" fill="none" stroke="#333" stroke-width="0.55"/>
<line x1="85.30" y1="375.20" x2="133.60" y2="375.20" stroke="#333" stroke-width="0.55"/>
<line x1="97.20" y1="353.00" x2="121.50" y2="353.00" stroke="#666" stroke-width="0.6"/>
<rect x="25.20" y="383.00" width="48.20" height="0.90" fill="#111" stroke="#111" stroke-width="0.4"/>
<text x="144.60" y="306.40" font-size="5.6" font-weight="bold" text-anchor="start" fill="#000">D</text>
<rect x="157.40" y="311.30" width="83.40" height="77.20" fill="none" stroke="#222" stroke-width="0.55"/>
<line x1="156.10" y1="385.70" x2="157.40" y2="385.70" stroke="#222" stroke-width="0.5"/>
<text x="155.20" y="386.90" font-size="3.4" font-weight="bold" text-anchor="end" fill="#111" stroke="#111" stroke-width="0.13">0</text>
<line x1="156.10" y1="372.38" x2="157.40" y2="372.38" stroke="#222" stroke-width="0.5"/>
<text x="155.20" y="373.58" font-size="3.4" font-weight="bold" text-anchor="end" fill="#111" stroke="#111" stroke-width="0.13">5</text>
<line x1="156.10" y1="359.06" x2="157.40" y2="359.06" stroke="#222" stroke-width="0.5"/>
<text x="155.20" y="360.26" font-size="3.4" font-weight="bold" text-anchor="end" fill="#111" stroke="#111" stroke-width="0.13">10</text>
<line x1="156.10" y1="345.74" x2="157.40" y2="345.74" stroke="#222" stroke-width="0.5"/>
<text x="155.20" y="346.94" font-size="3.4" font-weight="bold" text-anchor="end" fill="#111" stroke="#111" stroke-width="0.13">15</text>
<line x1="156.10" y1="332.42" x2="157.40" y2="332.42" stroke="#222" stroke-width="0.5"/>
<text x="155.20" y="333.62" font-size="3.4" font-weight="bold" text-anchor="end" fill="#111" stroke="#111" stroke-width="0.13">20</text>
<line x1="156.10" y1="319.10" x2="157.40" y2="319.10" stroke="#222" stroke-width="0.5"/>
<text x="155.20" y="320.30" font-size="3.4" font-weight="bold" text-anchor="end" fill="#111" stroke="#111" stroke-width="0.13">25</text>
<text x="149.30" y="350.00" font-size="3.5" font-weight="bold" text-anchor="middle" fill="#111" transform="rotate(-90 149.30 350.00)" stroke="#111" stroke-width="0.13">HMMR expression</text>
<line x1="180.60" y1="388.50" x2="180.60" y2="389.70" stroke="#222" stroke-width="0.5"/>
<line x1="218.30" y1="388.50" x2="218.30" y2="389.70" stroke="#222" stroke-width="0.5"/>
<text x="179.60" y="393.60" font-size="3.7" font-weight="bold" text-anchor="middle" fill="#111" stroke="#111" stroke-width="0.13">Normal (52)</text>
<text x="218.60" y="393.60" font-size="3.7" font-weight="bold" text-anchor="middle" fill="#111" stroke="#111" stroke-width="0.13">Tumor (52)</text>
<text x="199.80" y="398.90" font-size="3.6" font-weight="bold" text-anchor="middle" fill="#111" stroke="#111" stroke-width="0.13">TCGA samples</text>
<line x1="179.10" y1="320.40" x2="218.80" y2="320.40" stroke="#222" stroke-width="0.55"/>
<line x1="179.10" y1="320.40" x2="179.10" y2="321.60" stroke="#222" stroke-width="0.5"/>
<line x1="218.80" y1="320.40" x2="218.80" y2="321.60" stroke="#222" stroke-width="0.5"/>
<text x="199.00" y="318.60" font-size="3.8" font-weight="bold" text-anchor="middle" fill="#111" stroke="#111" stroke-width="0.13">p = 1.14e-17</text>
<text x="199.00" y="325.20" font-size="3.8" font-weight="bold" text-anchor="middle" fill="#111" stroke="#111" stroke-width="0.13">(paired t-test)</text>
<line x1="181.60" y1="384.42" x2="218.30" y2="353.20" stroke="#000" stroke-width="0.72"/>
<line x1="181.60" y1="383.39" x2="218.30" y2="359.33" stroke="#000" stroke-width="0.72"/>
<line x1="181.60" y1="382.81" x2="218.30" y2="360.13" stroke="#000" stroke-width="0.72"/>
<line x1="181.60" y1="383.13" x2="218.30" y2="361.19" stroke="#000" stroke-width="0.72"/>
<line x1="181.60" y1="384.84" x2="218.30" y2="364.12" stroke="#000" stroke-width="0.72"/>
<line x1="181.60" y1="383.96" x2="218.30" y2="365.19" stroke="#000" stroke-width="0.72"/>
<line x1="181.60" y1="383.74" x2="218.30" y2="365.99" stroke="#000" stroke-width="0.72"/>
<line x1="181.60" y1="382.98" x2="218.30" y2="367.32" stroke="#000" stroke-width="0.72"/>
<line x1="181.60" y1="383.28" x2="218.30" y2="368.65" stroke="#000" stroke-width="0.72"/>
<line x1="181.60" y1="381.50" x2="218.30" y2="369.98" stroke="#000" stroke-width="0.72"/>
<line x1="181.60" y1="382.07" x2="218.30" y2="370.78" stroke="#000" stroke-width="0.72"/>
<line x1="181.60" y1="383.34" x2="218.30" y2="371.31" stroke="#000" stroke-width="0.72"/>
<line x1="181.60" y1="381.40" x2="218.30" y2="372.27" stroke="#000" stroke-width="0.72"/>
<line x1="181.60" y1="381.71" x2="218.30" y2="372.78" stroke="#000" stroke-width="0.72"/>
<line x1="181.60" y1="383.40" x2="218.30" y2="373.34" stroke="#000" stroke-width="0.72"/>
<line x1="181.60" y1="382.86" x2="218.30" y2="373.60" stroke="#000" stroke-width="0.72"/>
<line x1="181.60" y1="384.72" x2="218.30" y2="373.32" stroke="#000" stroke-width="0.72"/>
<line x1="181.60" y1="385.30" x2="218.30" y2="374.02" stroke="#000" stroke-width="0.72"/>
<line x1="181.60" y1="384.01" x2="218.30" y2="374.24" stroke="#000" stroke-width="0.72"/>
<line x1="181.60" y1="382.77" x2="218.30" y2="374.22" stroke="#000" stroke-width="0.72"/>
<line x1="181.60" y1="384.57" x2="218.30" y2="374.93" stroke="#000" stroke-width="0.72"/>
<line x1="181.60" y1="385.30" x2="218.30" y2="375.42" stroke="#000" stroke-width="0.72"/>
<line x1="181.60" y1="382.61" x2="218.30" y2="375.02" stroke="#000" stroke-width="0.72"/>
<line x1="181.60" y1="385.30" x2="218.30" y2="375.34" stroke="#000" stroke-width="0.72"/>
<line x1="181.60" y1="384.85" x2="218.30" y2="376.23" stroke="#000" stroke-width="0.72"/>
<line x1="181.60" y1="381.58" x2="218.30" y2="376.47" stroke="#000" stroke-width="0.72"/>
<line x1="181.60" y1="382.11" x2="218.30" y2="376.91" stroke="#000" stroke-width="0.72"/>
<line x1="181.60" y1="383.15" x2="218.30" y2="376.53" stroke="#000" stroke-width="0.72"/>
<line x1="181.60" y1="384.93" x2="218.30" y2="377.32" stroke="#000" stroke-width="0.72"/>
<line x1="181.60" y1="384.28" x2="218.30" y2="377.66" stroke="#000" stroke-width="0.72"/>
<line x1="181.60" y1="381.84" x2="218.30" y2="377.79" stroke="#000" stroke-width="0.72"/>
<line x1="181.60" y1="383.24" x2="218.30" y2="378.24" stroke="#000" stroke-width="0.72"/>
<line x1="181.60" y1="384.24" x2="218.30" y2="378.31" stroke="#000" stroke-width="0.72"/>
<line x1="181.60" y1="382.83" x2="218.30" y2="378.36" stroke="#000" stroke-width="0.72"/>
<line x1="181.60" y1="384.33" x2="218.30" y2="379.01" stroke="#000" stroke-width="0.72"/>
<line x1="181.60" y1="383.06" x2="218.30" y2="379.35" stroke="#000" stroke-width="0.72"/>
<line x1="181.60" y1="383.60" x2="218.30" y2="379.21" stroke="#000" stroke-width="0.72"/>
<line x1="181.60" y1="385.03" x2="218.30" y2="379.67" stroke="#000" stroke-width="0.72"/>
<line x1="181.60" y1="383.51" x2="218.30" y2="380.20" stroke="#000" stroke-width="0.72"/>
<line x1="181.60" y1="383.93" x2="218.30" y2="380.17" stroke="#000" stroke-width="0.72"/>
<line x1="181.60" y1="383.15" x2="218.30" y2="380.69" stroke="#000" stroke-width="0.72"/>
<line x1="181.60" y1="384.71" x2="218.30" y2="381.19" stroke="#000" stroke-width="0.72"/>
<line x1="181.60" y1="383.43" x2="218.30" y2="381.30" stroke="#000" stroke-width="0.72"/>
<line x1="181.60" y1="383.13" x2="218.30" y2="381.76" stroke="#000" stroke-width="0.72"/>
<line x1="181.60" y1="384.09" x2="218.30" y2="381.91" stroke="#000" stroke-width="0.72"/>
<line x1="181.60" y1="383.48" x2="218.30" y2="382.15" stroke="#000" stroke-width="0.72"/>
<line x1="181.60" y1="385.13" x2="218.30" y2="382.51" stroke="#000" stroke-width="0.72"/>
<line x1="181.60" y1="381.77" x2="218.30" y2="382.83" stroke="#000" stroke-width="0.72"/>
<line x1="181.60" y1="382.43" x2="218.30" y2="382.81" stroke="#000" stroke-width="0.72"/>
<line x1="181.60" y1="383.83" x2="218.30" y2="383.15" stroke="#000" stroke-width="0.72"/>
<line x1="181.60" y1="383.83" x2="218.30" y2="383.73" stroke="#000" stroke-width="0.72"/>
<line x1="181.60" y1="384.48" x2="218.30" y2="384.22" stroke="#000" stroke-width="0.72"/>
<rect x="179.10" y="380.50" width="3.00" height="3.60" fill="#ffffff" stroke="#2020c0" stroke-width="0.5"/>
<line x1="179.10" y1="382.20" x2="182.10" y2="382.20" stroke="#2020c0" stroke-width="0.5"/>
<line x1="218.30" y1="352.93" x2="218.30" y2="384.37" stroke="#ff2020" stroke-width="0.55"/>
<text x="251.90" y="307.00" font-size="5.6" font-weight="bold" text-anchor="start" fill="#000">E</text>
<text x="318.40" y="314.20" font-size="3.88" font-weight="bold" text-anchor="middle" fill="#111">Protein expression of HMMR in LUAD</text>
<line x1="266.80" y1="320.00" x2="266.80" y2="383.60" stroke="#222" stroke-width="0.55"/>
<line x1="266.80" y1="383.60" x2="368.00" y2="383.60" stroke="#222" stroke-width="0.55"/>
<line x1="265.40" y1="382.60" x2="266.80" y2="382.60" stroke="#222" stroke-width="0.5"/>
<text x="264.30" y="383.80" font-size="3.4" font-weight="bold" text-anchor="end" fill="#111" stroke="#111" stroke-width="0.13">-3</text>
<line x1="265.40" y1="372.40" x2="266.80" y2="372.40" stroke="#222" stroke-width="0.5"/>
<text x="264.30" y="373.60" font-size="3.4" font-weight="bold" text-anchor="end" fill="#111" stroke="#111" stroke-width="0.13">-2</text>
<line x1="265.40" y1="362.20" x2="266.80" y2="362.20" stroke="#222" stroke-width="0.5"/>
<text x="264.30" y="363.40" font-size="3.4" font-weight="bold" text-anchor="end" fill="#111" stroke="#111" stroke-width="0.13">-1</text>
<line x1="265.40" y1="352.00" x2="266.80" y2="352.00" stroke="#222" stroke-width="0.5"/>
<text x="264.30" y="353.20" font-size="3.4" font-weight="bold" text-anchor="end" fill="#111" stroke="#111" stroke-width="0.13">0</text>
<line x1="265.40" y1="341.80" x2="266.80" y2="341.80" stroke="#222" stroke-width="0.5"/>
<text x="264.30" y="343.00" font-size="3.4" font-weight="bold" text-anchor="end" fill="#111" stroke="#111" stroke-width="0.13">1</text>
<line x1="265.40" y1="331.60" x2="266.80" y2="331.60" stroke="#222" stroke-width="0.5"/>
<text x="264.30" y="332.80" font-size="3.4" font-weight="bold" text-anchor="end" fill="#111" stroke="#111" stroke-width="0.13">2</text>
<line x1="265.40" y1="321.40" x2="266.80" y2="321.40" stroke="#222" stroke-width="0.5"/>
<text x="264.30" y="322.60" font-size="3.4" font-weight="bold" text-anchor="end" fill="#111" stroke="#111" stroke-width="0.13">3</text>
<text x="258.00" y="352.30" font-size="3.6" font-weight="bold" text-anchor="middle" fill="#111" transform="rotate(-90 258.00 352.30)" stroke="#111" stroke-width="0.13">Z-value</text>
<line x1="291.30" y1="333.00" x2="291.30" y2="351.30" stroke="#333" stroke-width="0.5" stroke-dasharray="1.6 1.0"/>
<line x1="291.30" y1="363.80" x2="291.30" y2="375.80" stroke="#333" stroke-width="0.5" stroke-dasharray="1.6 1.0"/>
<line x1="285.10" y1="333.00" x2="297.50" y2="333.00" stroke="#333" stroke-width="0.55"/>
<line x1="285.10" y1="375.80" x2="297.50" y2="375.80" stroke="#333" stroke-width="0.55"/>
<rect x="278.80" y="351.30" width="25.00" height="12.50" fill="#5468e6" stroke="#3a4ac0" stroke-width="0.4"/>
<line x1="278.80" y1="357.50" x2="303.80" y2="357.50" stroke="#1a1a1a" stroke-width="0.8"/>
<line x1="342.30" y1="328.80" x2="342.30" y2="345.00" stroke="#333" stroke-width="0.5" stroke-dasharray="1.6 1.0"/>
<line x1="342.30" y1="357.00" x2="342.30" y2="372.50" stroke="#333" stroke-width="0.5" stroke-dasharray="1.6 1.0"/>
<line x1="336.10" y1="328.80" x2="348.50" y2="328.80" stroke="#333" stroke-width="0.55"/>
<line x1="336.10" y1="372.50" x2="348.50" y2="372.50" stroke="#333" stroke-width="0.55"/>
<rect x="329.80" y="345.00" width="25.00" height="12.00" fill="#f0401c" stroke="#c03010" stroke-width="0.4"/>
<line x1="329.80" y1="351.30" x2="354.80" y2="351.30" stroke="#1a1a1a" stroke-width="0.8"/>
<line x1="291.30" y1="383.60" x2="291.30" y2="384.80" stroke="#222" stroke-width="0.5"/>
<line x1="342.30" y1="383.60" x2="342.30" y2="384.80" stroke="#222" stroke-width="0.5"/>
<text x="291.00" y="388.70" font-size="3.85" font-weight="bold" text-anchor="middle" fill="#111" stroke="#111" stroke-width="0.13">Normal (n=111)</text>
<text x="343.70" y="388.70" font-size="3.85" font-weight="bold" text-anchor="middle" fill="#111" stroke="#111" stroke-width="0.13">Primary tumor (n=111)</text>
<text x="318.50" y="395.30" font-size="3.85" font-weight="bold" text-anchor="middle" fill="#111" stroke="#111" stroke-width="0.13">CPTAC samples</text>
<line x1="290.80" y1="324.30" x2="343.00" y2="324.30" stroke="#222" stroke-width="0.55"/>
<line x1="290.80" y1="324.30" x2="290.80" y2="325.50" stroke="#222" stroke-width="0.5"/>
<line x1="343.00" y1="324.30" x2="343.00" y2="325.50" stroke="#222" stroke-width="0.5"/>
<text x="317.00" y="322.90" font-size="3.8" font-weight="bold" text-anchor="middle" fill="#111" stroke="#111" stroke-width="0.13">p = 1.21e-4</text>
<text x="317.00" y="329.00" font-size="3.8" font-weight="bold" text-anchor="middle" fill="#111" stroke="#111" stroke-width="0.13">(independent t-test)</text>
</svg></body></html>
